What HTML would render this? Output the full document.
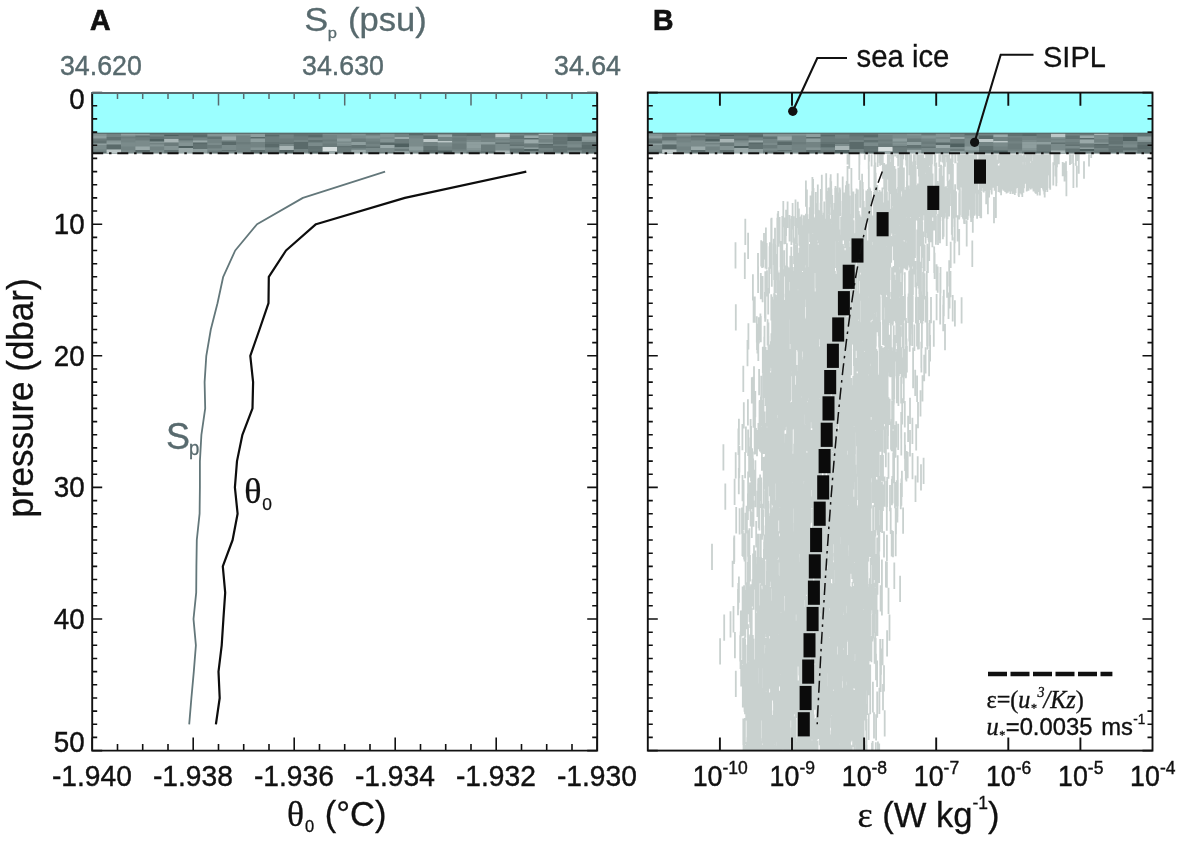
<!DOCTYPE html>
<html lang="en"><head><meta charset="utf-8"><title>Figure</title>
<style>html,body{margin:0;padding:0;background:#fff;}svg{display:block;will-change:transform;}text{font-family:'Liberation Sans', sans-serif;fill:#111;}</style>
</head><body>
<svg width="1181" height="842" viewBox="0 0 1181 842">
<rect width="1181" height="842" fill="#fff"/>
<path d="M968.1 154.2V165.9M968.2 165.9V192.2M934.7 192.2V218.5M913.6 218.5V244.9M825.2 244.9V271.2M847.9 271.2V297.5M851.6 297.5V323.8M821.3 323.8V350.1M831 350.1V376.5M868.1 376.5V402.8M775.7 402.8V429.1M874.2 429.1V455.4M820.2 455.4V481.7M761.1 481.7V508.1M825.9 508.1V534.4M821.1 534.4V560.7M780.8 560.7V587M844.8 587V613.3M847 613.3V639.7M840 639.7V666M778.2 666V692.3M798.9 692.3V718.6M819.8 718.6V744.9M832.6 744.9V750.6M934.7 154.2V166.2M900.7 166.2V192.6M844.3 192.6V218.9M807.9 218.9V245.2M826.9 245.2V271.5M947.1 271.5V297.8M787.4 297.8V324.2M874.4 324.2V350.5M772 350.5V376.8M806.2 376.8V403.1M878.2 403.1V429.4M850.8 429.4V455.8M867 455.8V482.1M770.7 482.1V508.4M832.5 508.4V534.7M886.9 534.7V561M786.5 561V587.4M755.7 587.4V613.7M840.1 613.7V640M858.4 640V666.3M790.4 666.3V692.6M750.4 692.6V719M766.3 719V745.3M752.2 745.3V750.6M969.1 154.2V171M1066.4 171V196.2M964.1 197.4V223.7M832.7 223.7V250M807.5 250V276.3M826.1 276.3V302.6M834 302.6V329M794.6 329V355.3M804.5 355.3V381.6M796.8 381.6V407.9M879 407.9V434.2M865.9 434.2V460.6M814.6 460.6V486.9M828.8 486.9V513.2M768.9 513.2V539.5M874.3 539.5V565.8M790.9 565.8V592.2M847.9 592.2V618.5M856.2 618.5V644.8M747.3 644.8V671.1M865.2 671.1V697.4M774.9 697.4V723.8M808.6 723.8V750.1M891.9 154.2V166M919.4 166V192.3M963.2 192.3V218.6M777.8 218.6V244.9M834.1 244.9V271.3M765.3 271.3V297.6M927.3 297.6V323.9M828.4 323.9V350.2M826.2 350.2V376.5M804.4 376.5V402.9M886.7 402.9V429.2M769.7 429.2V455.5M812.5 455.5V481.8M802.5 481.8V508.1M855.6 508.1V534.5M861.6 534.5V560.8M771.9 560.8V587.1M772.4 587.1V613.4M860 613.4V639.7M804 639.7V666.1M749.1 666.1V692.4M851 692.4V718.7M806 718.7V745M780.9 745V750.6M931.2 154.2V165.1M1036.8 165.1V191.4M970.7 191.4V217.7M785.7 217.7V244M887.1 244V270.4M893.5 270.4V296.7M867.1 296.7V323M888 323V349.3M784.6 349.3V375.6M824.3 375.6V402M844.3 402V428.3M835 428.3V454.6M837.3 454.6V480.9M858.9 480.9V507.2M829.4 507.2V533.6M787.1 533.6V559.9M769.4 559.9V586.2M791.2 586.2V612.5M773.4 612.5V638.8M753.7 638.8V665.2M850.9 665.2V691.5M753.7 691.5V717.8M807.3 717.8V744.1M824.5 744.1V750.6M991.7 154.2V166.1M983.8 166.1V192.4M977.1 192.4V218.7M835 218.7V245.1M851 245.1V271.4M872.5 271.4V297.7M779.7 297.7V324M875.3 324V350.3M880.6 350.3V376.7M753.4 376.7V403M880.8 403V429.3M771.5 429.3V455.6M798.4 455.6V481.9M799.4 481.9V508.3M784.4 508.3V534.6M861.8 534.6V560.9M773.9 560.9V587.2M845.7 587.2V613.5M809.1 613.5V639.9M771 639.9V666.2M776.5 666.2V692.5M841.9 692.5V718.8M827.5 718.8V745.1M846.6 745.1V750.6M900.1 154.2V167.8M1010.4 167.8V194.1M874.6 194.1V220.4M778.5 220.4V246.7M815.4 246.7V273M841.3 273V299.4M777.9 299.4V325.7M826.5 325.7V352M843.9 352V378.3M798.5 378.3V404.6M771.7 404.6V431M787.7 431V457.3M873.7 457.3V483.6M758.1 483.6V509.9M799 509.9V536.2M784 536.2V562.6M786.5 562.6V588.9M764.4 588.9V615.2M856 615.2V641.5M852.9 641.5V667.8M791.6 667.8V694.2M790.7 694.2V720.5M770.2 720.5V746.8M804.4 746.8V750.6M1049.5 154.2V165.2M1035.5 165.2V191.5M881.2 191.5V217.8M920.1 217.8V244.1M854.8 244.1V270.5M816.4 270.5V296.8M780.1 296.8V323.1M871.7 323.1V349.4M795.1 349.4V375.7M873.2 375.7V402.1M798.1 402.1V428.4M795.1 428.4V454.7M803.4 454.7V481M776.7 481V507.3M786.4 507.3V533.7M859.2 533.7V560M794.1 560V586.3M782.2 586.3V612.6M861.3 612.6V638.9M809.1 638.9V665.3M859.2 665.3V691.6M839.8 691.6V717.9M766.7 717.9V744.2M791.9 744.2V750.6M869.1 154.2V161.5M973.3 161.5V187.8M935.3 187.8V214.2M843.4 214.2V240.5M909.5 240.5V266.8M840.1 266.8V293.1M806.7 293.1V319.4M772.1 319.4V345.8M875.2 345.8V372.1M798.2 372.1V398.4M882.3 398.4V424.7M769.6 424.7V451M774.5 451V477.4M813.7 477.4V503.7M841.4 503.7V530M767.3 530V556.3M843.8 556.3V582.6M870.7 582.6V609M844.9 609V635.3M794.1 635.3V661.6M845.3 661.6V687.9M757.7 687.9V714.2M782.4 714.2V740.6M817.6 740.6V750.6M944 154.2V164.6M923.1 164.6V190.9M889.3 190.9V217.2M890 217.2V243.6M839.5 243.6V269.9M887.8 269.9V296.2M916.4 296.2V322.5M872.4 322.5V348.8M874.3 348.8V375.2M790.2 375.2V401.5M857.3 401.5V427.8M800.2 427.8V454.1M767.4 454.1V480.4M884.6 480.4V506.8M821.7 506.8V533.1M781.1 533.1V559.4M835.6 559.4V585.7M811.8 585.7V612M873.3 612V638.4M851.3 638.4V664.7M768.1 664.7V691M846.1 691V717.3M789.8 717.3V743.6M810.8 743.6V750.6M979.2 154.2V162.7M1035.3 162.7V189M868 189V215.4M858.3 215.4V241.7M921.6 241.7V268M824.7 268V294.3M877.6 294.3V320.6M825.2 320.6V347M777.3 347V373.3M875.5 373.3V399.6M872.3 399.6V425.9M877.7 425.9V452.2M769.5 452.2V478.6M865.3 478.6V504.9M841.9 504.9V531.2M854.8 531.2V557.5M837.1 557.5V583.8M866.2 583.8V610.2M844.5 610.2V636.5M744.8 636.5V662.8M858.7 662.8V689.1M810.8 689.1V715.4M768.3 715.4V741.8M787.6 741.8V750.6M1017.1 154.2V164.2M1034.9 164.2V190.5M946.5 190.5V216.8M822.1 216.8V243.1M858.1 243.1V269.4M863 269.4V295.8M809.5 295.8V322.1M869.2 322.1V348.4M818.2 348.4V374.7M825.8 374.7V401M892.3 401V427.4M866.7 427.4V453.7M843.1 453.7V480M880.2 480V506.3M833.1 506.3V532.6M776 532.6V559M798.1 559V585.3M873.5 585.3V611.6M787.7 611.6V637.9M865.8 637.9V664.2M829.3 664.2V690.6M771.1 690.6V716.9M828.7 716.9V743.2M844.1 743.2V750.6M1045.1 154.2V165.4M999.8 165.4V191.7M821.6 191.7V218M814.7 218V244.3M913.9 244.3V270.7M809.8 270.7V297M859.9 297V323.3M835 323.3V349.6M874.9 349.6V375.9M814.2 375.9V402.3M872.8 402.3V428.6M815.2 428.6V454.9M807.7 454.9V481.2M805.6 481.2V507.5M852.3 507.5V533.9M858 533.9V560.2M838.2 560.2V586.5M828.2 586.5V612.8M805.3 612.8V639.1M835.8 639.1V665.5M755.1 665.5V691.8M796.7 691.8V718.1M779.9 718.1V744.4M839.2 744.4V750.6M1037.1 154.2V164M958.4 164V190.3M949.1 190.3V216.6M823.8 216.6V243M814.3 243V269.3M782.8 269.3V295.6M825 295.6V321.9M864.6 321.9V348.2M874.9 348.2V374.6M834.3 374.6V400.9M779.5 400.9V427.2M804.4 427.2V453.5M828.9 453.5V479.8M840.2 479.8V506.2M806 506.2V532.5M790.3 532.5V558.8M812 558.8V585.1M766.1 585.1V611.4M794.2 611.4V637.8M743 637.8V664.1M825.5 664.1V690.4M799.9 690.4V716.7M787.3 716.7V743M806.4 743V750.6M983.3 154.2V161.9M1029 161.9V188.2M971.8 188.2V214.5M878.3 214.5V240.8M909.6 240.8V267.1M781.7 267.1V293.5M859.5 293.5V319.8M838.6 319.8V346.1M817.2 346.1V372.4M777.8 372.4V398.7M840.3 398.7V425.1M807.4 425.1V451.4M752.7 451.4V477.7M780.4 477.7V504M799.8 504V530.3M748 530.3V556.7M784.8 556.7V583M830.9 583V609.3M870.2 609.3V635.6M834.1 635.6V661.9M829.5 661.9V688.3M797.1 688.3V714.6M826.5 714.6V740.9M862 740.9V750.6M998.2 154.2V163.7M972.3 163.7V190M931.3 190V216.3M793.6 216.3V242.7M802.1 242.7V269M884.7 269V295.3M824.7 295.3V321.6M856.8 321.6V347.9M813 347.9V374.3M847.9 374.3V400.6M852.8 400.6V426.9M817.2 426.9V453.2M854.8 453.2V479.5M794.8 479.5V505.9M869.8 505.9V532.2M860.5 532.2V558.5M841.7 558.5V584.8M780.1 584.8V611.1M797.7 611.1V637.5M874.6 637.5V663.8M836.4 663.8V690.1M759.4 690.1V716.4M858.7 716.4V742.7M799.8 742.7V750.6M902 154.2V170.6M1022.3 170.6V196.9M831.9 196.9V223.2M913.1 223.2V249.6M889.3 249.6V275.9M884.7 275.9V302.2M819.2 302.2V328.5M845.4 328.5V354.8M924.2 354.8V381.2M772.8 381.2V407.5M844.7 407.5V433.8M785.5 433.8V460.1M768.8 460.1V486.4M759.1 486.4V512.8M745.5 512.8V539.1M846.7 539.1V565.4M797.7 565.4V591.7M766.6 591.7V618M843.4 618V644.4M792.7 644.4V670.7M851.4 670.7V697M858.2 697V723.3M783 723.3V749.6M982.6 154.2V163.1M889.1 163.1V189.4M857.9 189.4V215.8M820.8 215.8V242.1M903.7 242.1V268.4M844.9 268.4V294.7M863.2 294.7V321M847.5 321V347.4M893.3 347.4V373.7M882.5 373.7V400M759.7 400V426.3M884.3 426.3V452.6M878.3 452.6V479M766.3 479V505.3M840.5 505.3V531.6M801.5 531.6V557.9M762 557.9V584.2M819.4 584.2V610.6M785.5 610.6V636.9M826.4 636.9V663.2M826.4 663.2V689.5M857.8 689.5V715.8M803.3 715.8V742.2M842.7 742.2V750.6M1033.6 154.2V159.8M997 159.8V186.1M835.5 186.1V212.4M913.7 212.4V238.7M773.8 238.7V265M876.4 265V291.4M815.1 291.4V317.7M790.8 317.7V344M873.9 344V370.3M871.6 370.3V396.6M794.8 396.6V423M758.4 423V449.3M810.2 449.3V475.6M821.3 475.6V501.9M808.5 501.9V528.2M803.8 528.2V554.6M816.5 554.6V580.9M825.7 580.9V607.2M804.8 607.2V633.5M816.7 633.5V659.8M776.3 659.8V686.2M872.9 686.2V712.5M862.2 712.5V738.8M858.8 738.8V750.6M958.1 154.2V161.5M988.1 161.5V187.8M944.2 187.8V214.1M930.7 214.1V240.5M804.7 240.5V266.8M837.4 266.8V293.1M869.6 293.1V319.4M822.8 319.4V345.7M805.2 345.7V372.1M882.3 372.1V398.4M781.2 398.4V424.7M760.3 424.7V451M864.6 451V477.3M850.9 477.3V503.7M837.1 503.7V530M895.7 530V556.3M818.6 556.3V582.6M757.2 582.6V608.9M811.5 608.9V635.3M856.3 635.3V661.6M853.9 661.6V687.9M855.9 687.9V714.2M842.6 714.2V740.5M859 740.5V750.6M976 154.2V159.1M1010 159.1V185.4M908.5 185.4V211.8M927.6 211.8V238.1M848.8 238.1V264.4M885.1 264.4V290.7M787.8 290.7V317M856.5 317V343.4M804.4 343.4V369.7M803.3 369.7V396M810.4 396V422.3M873.9 422.3V448.6M796.7 448.6V475M843.3 475V501.3M814.2 501.3V527.6M794.8 527.6V553.9M789 553.9V580.2M752.6 580.2V606.6M809.7 606.6V632.9M793.4 632.9V659.2M782.5 659.2V685.5M763.4 685.5V711.8M862.7 711.8V738.2M856.9 738.2V750.6M1077.6 154.2V161.1M915.1 161.1V187.4M952.2 187.4V213.8M902.8 213.8V240.1M820.2 240.1V266.4M821.7 266.4V292.7M810.9 292.7V319M805.9 319V345.4M787.9 345.4V371.7M764.4 371.7V398M869.4 398V424.3M832 424.3V450.6M789.1 450.6V477M789 477V503.3M775.9 503.3V529.6M803.9 529.6V555.9M817.3 555.9V582.2M826.2 582.2V608.6M866.3 608.6V634.9M860.2 634.9V661.2M835 661.2V687.5M755.1 687.5V713.8M836.4 713.8V740.2M799 740.2V750.6M939.3 154.2V167.1M968.6 167.1V193.4M946.8 193.4V219.7M833.2 219.7V246M812.2 246V272.4M809.9 272.4V298.7M813.1 298.7V325M864.1 325V351.3M901.5 351.3V377.6M847.2 377.6V404M774.9 404V430.3M812.7 430.3V456.6M776.1 456.6V482.9M900.8 482.9V509.2M763.2 509.2V535.6M807.7 535.6V561.9M747.8 561.9V588.2M823.4 588.2V614.5M842.6 614.5V640.8M842.1 640.8V667.2M858.3 667.2V693.5M785.2 693.5V719.8M837.8 719.8V746.1M825.8 746.1V750.6M910.6 154.2V170.1M966.6 170.1V196.4M902 196.4V222.8M902.8 222.8V249.1M832.8 249.1V275.4M870.8 275.4V301.7M813.5 301.7V328M828.7 328V354.4M772 354.4V380.7M776 380.7V407M813.3 407V433.3M854.6 433.3V459.6M829.6 459.6V486M813.8 486V512.3M816.1 512.3V538.6M871.5 538.6V564.9M807.9 564.9V591.2M817 591.2V617.6M804.7 617.6V643.9M868.5 643.9V670.2M836.3 670.2V696.5M811 696.5V722.8M789 722.8V749.2M1021.2 154.2V161.6M1041.3 161.6V187.9M891.6 187.9V214.2M875.2 214.2V240.5M807 240.5V266.9M869.2 266.9V293.2M789.8 293.2V319.5M813.8 319.5V345.8M885.7 345.8V372.1M870.1 372.1V398.5M821.5 398.5V424.8M830 424.8V451.1M842.4 451.1V477.4M791.1 477.4V503.7M781.8 503.7V530.1M770.6 530.1V556.4M807.7 556.4V582.7M788.8 582.7V609M818.6 609V635.3M841.3 635.3V661.7M790.7 661.7V688M745 688V714.3M824.7 714.3V740.6M757.1 740.6V750.6M905.9 154.2V160.2M951.7 160.2V186.5M915 186.5V212.8M842.2 212.8V239.1M848.3 239.1V265.5M883.7 265.5V291.8M927.2 291.8V318.1M905.9 318.1V344.4M805.4 344.4V370.7M788.6 370.7V397.1M859.7 397.1V423.4M851.3 423.4V449.7M828.5 449.7V476M834.2 476V502.3M803.2 502.3V528.7M810.3 528.7V555M815.1 555V581.3M829.4 581.3V607.6M770.4 607.6V633.9M811.8 633.9V660.3M779.7 660.3V686.6M857.3 686.6V712.9M855.4 712.9V739.2M850 739.2V750.6M1040.9 154.2V163.9M952.9 163.9V190.2M899.2 190.2V216.6M824.1 216.6V242.9M811.4 242.9V269.2M818.6 269.2V295.5M765.1 295.5V321.8M921.9 321.8V348.2M779.6 348.2V374.5M769.1 374.5V400.8M793.7 400.8V427.1M872.3 427.1V453.4M905.8 453.4V479.8M847.4 479.8V506.1M875.6 506.1V532.4M780.9 532.4V558.7M818.8 558.7V585M841.6 585V611.4M856.1 611.4V637.7M859 637.7V664M867.4 664V690.3M788.2 690.3V716.6M855.1 716.6V743M804.4 743V750.6M1056 154.2V162.5M957.5 162.5V188.9M924.2 188.9V215.2M908.1 215.2V241.5M901.6 241.5V267.8M792.1 267.8V294.1M836 294.1V320.5M832.5 320.5V346.8M762.8 346.8V373.1M863.5 373.1V399.4M784.2 399.4V425.7M770 425.7V452.1M790.7 452.1V478.4M860.4 478.4V504.7M826.9 504.7V531M767.9 531V557.3M782.2 557.3V583.7M865.1 583.7V610M818.2 610V636.3M815.7 636.3V662.6M743.4 662.6V688.9M768.3 688.9V715.3M807.1 715.3V741.6M858.7 741.6V750.6M1034.4 154.2V161.9M1020.9 161.9V188.2M947.9 188.2V214.5M856 214.5V240.8M870.1 240.8V267.2M837.9 267.2V293.5M801.2 293.5V319.8M849 319.8V346.1M906.9 346.1V372.4M894.1 372.4V398.8M875.7 398.8V425.1M805.4 425.1V451.4M829 451.4V477.7M783.6 477.7V504M827 504V530.4M812.9 530.4V556.7M879.1 556.7V583M838 583V609.3M810.7 609.3V635.6M800.4 635.6V662M858 662V688.3M837.8 688.3V714.6M813.7 714.6V740.9M824.8 740.9V750.6M960.2 155.6V181.9M900.2 181.9V208.3M863.4 208.3V234.6M901.5 234.6V260.9M840.1 260.9V287.2M836.1 287.2V313.5M760.4 313.5V339.9M824.9 339.9V366.2M803 366.2V392.5M876.4 392.5V418.8M738.9 418.8V445.1M774.3 445.1V471.5M787.5 471.5V497.8M826.8 497.8V524.1M782.4 524.1V550.4M849.5 550.4V576.7M845.9 576.7V603.1M839.1 603.1V629.4M787.2 629.4V655.7M769.9 655.7V682M753.9 682V708.3M808.6 708.3V734.7M795.6 734.7V750.6M1009.3 154.2V174.8M931.2 174.8V201.1M842.3 201.1V227.4M765.9 227.4V253.7M822.8 253.7V280.1M802.5 280.1V306.4M809.9 306.4V332.7M834.9 332.7V359M781.9 359V385.3M832.8 385.3V411.7M802.6 411.7V438M845.3 438V464.3M777.6 464.3V490.6M786.5 490.6V516.9M791.3 516.9V543.3M808.1 543.3V569.6M784.9 569.6V595.9M808.7 595.9V622.2M869.4 622.2V648.5M833.9 648.5V674.9M756.5 674.9V701.2M788.2 701.2V727.5M791.7 727.5V750.6M913.8 154.2V165.3M912.8 165.3V191.7M980.4 191.7V218M897.4 218V244.3M876.8 244.3V270.6M823.3 270.6V296.9M920.8 296.9V323.3M748.4 323.3V349.6M875.3 349.6V375.9M853.3 375.9V402.2M743.8 402.2V428.5M738.4 428.5V454.9M793.9 454.9V481.2M816 481.2V507.5M836.7 507.5V533.8M760.8 533.8V560.1M794.1 560.1V586.5M857.9 586.5V612.8M772.4 612.8V639.1M775.7 639.1V665.4M859.5 665.4V691.7M821.5 691.7V718.1M757.4 718.1V744.4M850.4 744.4V750.6M1031.2 154.2V161.3M1066 161.3V177.2M882.4 187.6V213.9M938.4 213.9V240.3M885.2 240.3V266.6M876.2 266.6V292.9M814.9 292.9V319.2M827.2 319.2V345.5M776.8 345.5V371.9M816.2 371.9V398.2M902.2 398.2V424.5M848.3 424.5V450.8M769.1 450.8V477.1M797.3 477.1V503.5M827.3 503.5V529.8M742.4 529.8V556.1M776.6 556.1V582.4M808.8 582.4V608.7M776.4 608.7V635.1M853 635.1V661.4M773.7 661.4V687.7M795 687.7V714M841.3 714V740.3M859.7 740.3V750.6M1009.3 154.2V165.2M874.4 165.2V191.5M905.1 191.5V217.8M910.7 217.8V244.2M848.6 244.2V270.5M926.8 270.5V296.8M840.6 296.8V323.1M899.8 323.1V349.4M890.6 349.4V375.8M887.6 375.8V402.1M878.2 402.1V428.4M780.3 428.4V454.7M830.8 454.7V481M795.6 481V507.4M831.6 507.4V533.7M858.4 533.7V560M860.4 560V586.3M826.6 586.3V612.6M785.5 612.6V639M828.4 639V665.3M839 665.3V691.6M767.2 691.6V717.9M756.7 717.9V744.2M815.9 744.2V750.6M1043.8 154.2V165.7M1038.3 165.7V192M981.2 192V218.3M877.1 218.3V244.6M812 244.6V270.9M950.5 270.9V297.3M961.6 297.3V323.6M821.1 323.6V349.9M811.5 349.9V376.2M821.2 376.2V402.5M824.6 402.5V428.9M769.4 428.9V455.2M767.7 455.2V481.5M832 481.5V507.8M854.8 507.8V534.1M803.2 534.1V560.5M777.3 560.5V586.8M847.8 586.8V613.1M811.7 613.1V639.4M762.4 639.4V665.7M749.9 665.7V692.1M861 692.1V718.4M862.6 718.4V744.7M795.5 744.7V750.6M1038.4 154.2V157.4M1025 157.4V183.8M848.7 183.8V210.1M876.7 210.1V236.4M866 236.4V262.7M786.6 262.7V289M846.5 289V315.4M867.8 315.4V341.7M921.3 341.7V368M849.4 368V394.3M844.2 394.3V420.6M858.1 420.6V447M796.1 447V473.3M781.8 473.3V499.6M880.7 499.6V525.9M846.4 525.9V552.2M816.8 552.2V578.6M768.4 578.6V604.9M802.7 604.9V631.2M857.9 631.2V657.5M776 657.5V683.8M808.4 683.8V710.2M856.1 710.2V736.5M831.9 736.5V750.6M897.2 154.2V157.9M989.5 157.9V184.3M955.1 184.3V210.6M925 210.6V236.9M831.9 236.9V263.2M829.1 263.2V289.5M785.8 289.5V315.9M760.8 315.9V342.2M872.7 342.2V368.5M808 368.5V394.8M856.6 394.8V421.1M868.6 421.1V447.5M800.9 447.5V473.8M856.9 473.8V500.1M807.3 500.1V526.4M776.4 526.4V552.7M831.6 552.7V579.1M825 579.1V605.4M759.6 605.4V631.7M850.4 631.7V658M783 658V684.3M790.9 684.3V710.7M752.1 710.7V737M771.4 737V750.6M969.9 154.2V165M976.3 165V191.3M956 191.3V217.6M909.6 217.6V243.9M809.9 243.9V270.3M767 270.3V296.6M781.7 296.6V322.9M812.8 322.9V349.2M825.3 349.2V375.5M797.5 375.5V401.9M810 401.9V428.2M855 428.2V454.5M809.8 454.5V480.8M779.1 480.8V507.1M781.1 507.1V533.5M850.3 533.5V559.8M862 559.8V586.1M763.2 586.1V612.4M810.4 612.4V638.7M784.4 638.7V665.1M759.8 665.1V691.4M766 691.4V717.7M751 717.7V744M804.9 744V750.6M1029.1 154.2V160.1M1040.9 160.1V186.4M928.3 186.4V212.7M823.7 212.7V239M908.1 239V265.4M785.9 265.4V291.7M828.9 291.7V318M863.7 318V344.3M816.6 344.3V370.6M774.6 370.6V397M796 397V423.3M781.3 423.3V449.6M817.6 449.6V475.9M892.3 475.9V502.2M804.2 502.2V528.6M857.5 528.6V554.9M748.3 554.9V581.2M775.5 581.2V607.5M761.5 607.5V633.8M842.3 633.8V660.2M818 660.2V686.5M856.3 686.5V712.8M843.2 712.8V739.1M788.8 739.1V750.6M1008.5 154.2V163.2M1008.9 163.2V189.5M806.9 189.5V215.9M914.1 215.9V242.2M769.9 242.2V268.5M911.2 268.5V294.8M921.4 294.8V321.1M782.2 321.1V347.5M868.9 347.5V373.8M816.5 373.8V400.1M808.3 400.1V426.4M867.1 426.4V452.7M859.1 452.7V479.1M826.5 479.1V505.4M866.2 505.4V531.7M832.3 531.7V558M767.7 558V584.3M855.1 584.3V610.7M761.3 610.7V637M786.2 637V663.3M772.7 663.3V689.6M781.1 689.6V715.9M844 715.9V742.3M820.7 742.3V750.6M1046.8 154.2V166.4M1019.4 166.4V192.7M893.9 192.7V219.1M878.2 219.1V245.4M797.1 245.4V271.7M848.9 271.7V298M843.1 298V324.3M856.5 324.3V350.7M891.5 350.7V377M828.1 377V403.3M789.4 403.3V429.6M814.5 429.6V455.9M817.3 455.9V482.3M790.1 482.3V508.6M809.8 508.6V534.9M846.8 534.9V561.2M822.5 561.2V587.5M760.9 587.5V613.9M793.2 613.9V640.2M797.7 640.2V666.5M750.2 666.5V692.8M761 692.8V719.1M771.2 719.1V745.5M780.3 745.5V750.6M1003.8 154.2V174.6M976.8 174.6V201M783.3 201V227.3M918.3 227.3V253.6M889.7 253.6V279.9M817.6 279.9V306.2M863.6 306.2V332.6M867.8 332.6V358.9M873.3 358.9V385.2M803.2 385.2V411.5M764.6 411.5V437.8M838.3 437.8V464.2M921 464.2V490.5M860.9 490.5V516.8M844.7 516.8V543.1M866.8 543.1V569.4M856.6 569.4V595.8M749.5 595.8V622.1M763.9 622.1V648.4M831.7 648.4V674.7M780.9 674.7V701M861.3 701V727.4M773.1 727.4V750.6M1028 154.2V159.8M1035.9 159.8V186.1M967.6 186.1V212.4M862.9 212.4V238.8M829.1 238.8V265.1M780.7 265.1V291.4M821.8 291.4V317.7M831.6 317.7V344M849.5 344V370.4M869.1 370.4V396.7M860.1 396.7V423M887.8 423V449.3M783.3 449.3V475.6M915.5 475.6V502M758.7 502V528.3M858.9 528.3V554.6M767.4 554.6V580.9M856.3 580.9V607.2M814.6 607.2V633.6M797.4 633.6V659.9M801.1 659.9V686.2M826.5 686.2V712.5M812.3 712.5V738.8M826.7 738.8V750.6M882.8 154.2V178.7M966.1 178.7V205.1M918.1 205.1V231.4M923.1 231.4V257.7M847.4 257.7V284M812.3 284V310.3M824.1 310.3V336.7M833.5 336.7V363M842.9 363V389.3M836 389.3V415.6M827.8 415.6V441.9M853.6 441.9V468.3M816.2 468.3V494.6M840.4 494.6V520.9M801.1 520.9V547.2M844.6 547.2V573.5M805.3 573.5V599.9M849.4 599.9V626.2M791.9 626.2V652.5M788.8 652.5V678.8M788.1 678.8V705.1M756.6 705.1V731.5M756.7 731.5V750.6M971.5 154.2V169.2M914.2 169.2V195.5M849.7 195.5V221.8M814.4 221.8V248.2M804 248.2V274.5M855.9 274.5V300.8M803.1 300.8V327.1M757.4 327.1V353.4M809.9 353.4V379.8M841.1 379.8V406.1M855.4 406.1V432.4M862.1 432.4V458.7M799.3 458.7V485M838.9 485V511.4M819 511.4V537.7M856 537.7V564M844.7 564V590.3M857.5 590.3V616.6M832.3 616.6V643M861.7 643V669.3M745.2 669.3V695.6M755 695.6V721.9M811 721.9V748.2M747 748.2V750.6M992.5 154.2V166M924.6 166V192.4M904.5 192.4V218.7M745.3 218.7V245M867.1 245V271.3M909.2 271.3V297.6M857.7 297.6V324M945 324V350.3M904 350.3V376.6M854 376.6V402.9M868.7 402.9V429.2M837.6 429.2V455.6M788.2 455.6V481.9M802.2 481.9V508.2M739.6 508.2V534.5M764.3 534.5V560.8M732.6 560.8V587.2M837.5 587.2V613.5M835.8 613.5V639.8M848.5 639.8V666.1M809.4 666.1V692.4M781.4 692.4V718.8M815.5 718.8V745.1M745.9 745.1V750.6M909.5 154.2V175.3M939.9 175.3V201.6M787.6 201.6V227.9M859.4 227.9V254.2M781.8 254.2V280.5M806.1 280.5V306.9M842.1 306.9V333.2M771.4 333.2V359.5M803 359.5V385.8M771.4 385.8V412.1M901.2 412.1V438.5M779.2 438.5V464.8M855.3 464.8V491.1M843.2 491.1V517.4M800.2 517.4V543.7M712 543.7V570.1M829.8 570.1V596.4M786 596.4V622.7M774 622.7V649M796.2 649V675.3M830.5 675.3V701.7M861.2 701.7V728M786.4 728V750.6M1026.2 154.2V161.8M966.4 161.8V188.1M926.2 188.1V214.4M907.5 214.4V240.8M800.2 240.8V267.1M792.9 267.1V293.4M855.2 293.4V319.7M840.7 319.7V346M768.4 346V372.4M839.1 372.4V398.7M834.8 398.7V425M777.3 425V451.3M906.8 451.3V477.6M828.1 477.6V504M875.3 504V530.3M865.8 530.3V556.6M825.9 556.6V582.9M833.8 582.9V609.2M815.9 609.2V635.6M782.1 635.6V661.9M763.1 661.9V688.2M821.6 688.2V714.5M754.4 714.5V740.8M866.2 740.8V750.6M1005 154.2V167.5M903.9 167.5V193.9M922.8 193.9V220.2M853.7 220.2V246.5M820.9 246.5V272.8M876.1 272.8V299.1M818.8 299.1V325.5M909.7 325.5V351.8M806.4 351.8V378.1M893.8 378.1V404.4M874.7 404.4V430.7M796.4 430.7V457.1M763.7 457.1V483.4M841.1 483.4V509.7M862.6 509.7V536M813.5 536V562.3M857 562.3V588.7M793.6 588.7V615M841.7 615V641.3M857.1 641.3V667.6M796.7 667.6V693.9M782.9 693.9V720.3M750 720.3V746.6M773.8 746.6V750.6M1023.4 154.2V162M986.3 162V188.3M894.9 188.3V214.6M849.6 214.6V241M815.2 241V267.3M867.2 267.3V293.6M781.6 293.6V319.9M857.1 319.9V346.2M905.9 346.2V372.6M884.3 372.6V398.9M787.7 398.9V425.2M800.7 425.2V451.5M860.3 451.5V477.8M803 477.8V504.2M821.6 504.2V530.5M852.1 530.5V556.8M796.3 556.8V583.1M849.5 583.1V609.4M805.3 609.4V635.8M803.5 635.8V662.1M849.9 662.1V688.4M802 688.4V714.7M819.9 714.7V741M803.3 741V750.6M911.2 154.2V166.7M1015.6 166.7V193M967.7 193V219.4M913.9 219.4V245.7M860.7 245.7V272M871.2 272V298.3M899.6 298.3V324.6M897.7 324.6V351M860.9 351V377.3M784.8 377.3V403.6M785 403.6V429.9M757 429.9V456.2M917.7 456.2V482.6M758.9 482.6V508.9M877.8 508.9V535.2M744.6 535.2V561.5M805.7 561.5V587.8M850.2 587.8V614.2M802.6 614.2V640.5M790.5 640.5V666.8M858.3 666.8V693.1M788.1 693.1V719.4M809.2 719.4V745.8M776.4 745.8V750.6M976.5 154.5V180.9M927.6 180.9V207.2M892.4 207.2V233.5M841.8 233.5V259.8M780.7 259.8V286.1M802 286.1V312.5M794.2 312.5V338.8M824 338.8V365.1M796.6 365.1V391.4M846.2 391.4V417.7M821.6 417.7V444.1M830.2 444.1V470.4M780.3 470.4V496.7M786.7 496.7V523M792.3 523V549.3M786.7 549.3V575.7M829 575.7V602M791.9 602V628.3M767.6 628.3V654.6M837.9 654.6V680.9M841.3 680.9V707.3M779.1 707.3V733.6M862 733.6V750.6M1017 154.2V169M940.3 169V195.3M935.3 195.3V221.6M845.3 221.6V248M872.4 248V274.3M793.5 274.3V300.6M816.6 300.6V326.9M831.9 326.9V353.2M767.3 353.2V379.6M765.5 379.6V405.9M808 405.9V432.2M849.9 432.2V458.5M795.4 458.5V484.8M753 484.8V511.2M807.9 511.2V537.5M830.9 537.5V563.8M756.8 563.8V590.1M776.9 590.1V616.4M783 616.4V642.8M838.8 642.8V669.1M843.7 669.1V695.4M752.3 695.4V721.7M765.7 721.7V748M804.7 748V750.6M935.3 154.2V161.7M1038.9 161.7V188M924.6 188V214.3M905.2 214.3V240.6M972.3 240.6V267M848.9 267V293.3M898.1 293.3V319.6M912.2 319.6V345.9M829.1 345.9V372.2M779.8 372.2V398.6M862.9 398.6V424.9M834.6 424.9V451.2M781.8 451.2V477.5M761.2 477.5V503.8M877.2 503.8V530.2M834.4 530.2V556.5M807.2 556.5V582.8M857.1 582.8V609.1M817.1 609.1V635.4M772 635.4V661.8M783.7 661.8V688.1M797.4 688.1V714.4M851.5 714.4V740.7M760.6 740.7V750.6M993 154.2V160.3M1050.1 160.3V186.6M965.8 186.6V212.9M942.9 212.9V239.3M811.4 239.3V265.6M844.4 265.6V291.9M872 291.9V318.2M851.4 318.2V344.5M769.9 344.5V370.9M845.5 370.9V397.2M888.5 397.2V423.5M891 423.5V449.8M857.2 449.8V476.1M828.3 476.1V502.5M776.2 502.5V528.8M807.3 528.8V555.1M806.3 555.1V581.4M786.8 581.4V607.7M764.5 607.7V634.1M830.7 634.1V660.4M792.6 660.4V686.7M806.6 686.7V713M836.6 713V739.3M846.7 739.3V750.6M955.2 154.2V163.3M1043 163.3V189.6M941.9 189.6V215.9M791.6 215.9V242.3M735.5 242.3V268.6M856.1 268.6V294.9M840 294.9V321.2M863.6 321.2V347.5M913.1 347.5V373.9M892.3 373.9V400.2M819.2 400.2V426.5M761.2 426.5V452.8M769.6 452.8V479.1M787.3 479.1V505.5M858.3 505.5V531.8M853.7 531.8V558.1M776.2 558.1V584.4M790.6 584.4V610.7M862.4 610.7V637.1M857.8 637.1V663.4M746.1 663.4V689.7M842.5 689.7V716M857.6 716V742.3M751.4 742.3V750.6M1017.2 154.2V166.6M928.1 166.6V193M963.3 193V219.3M823 219.3V245.6M867.3 245.6V271.9M923 271.9V298.2M798.5 298.2V324.6M803.7 324.6V350.9M890.3 350.9V377.2M797.5 377.2V403.5M778.6 403.5V429.8M839.5 429.8V456.2M869.7 456.2V482.5M855.1 482.5V508.8M791.3 508.8V535.1M874.7 535.1V561.4M886.9 561.4V587.8M844.3 587.8V614.1M856.9 614.1V640.4M786.4 640.4V666.7M849 666.7V693M817.1 693V719.4M756.8 719.4V745.7M860.5 745.7V750.6M1009.8 154.2V157.6M1055.5 157.6V176.5M962.6 183.9V210.2M818.9 210.2V236.5M891.2 236.5V262.8M846.3 262.8V289.2M808.2 289.2V315.5M782.5 315.5V341.8M862.3 341.8V368.1M781.8 368.1V394.4M810.8 394.4V420.8M828.6 420.8V447.1M770.9 447.1V473.4M781.8 473.4V499.7M870 499.7V526M819.5 526V552.4M823.7 552.4V578.7M795 578.7V605M840.1 605V631.3M825.5 631.3V657.6M860 657.6V684M883 684V710.3M884.7 710.3V736.6M832.2 736.6V750.6M1039 154.2V164.9M1043.6 164.9V191.2M940.5 191.2V217.5M888 217.5V243.8M810.9 243.8V270.1M819.4 270.1V296.5M922.3 296.5V322.8M799.1 322.8V349.1M865.8 349.1V375.4M868.2 375.4V401.7M801.3 401.7V428.1M799.9 428.1V454.4M882.1 454.4V480.7M780.1 480.7V507M816.9 507V533.3M850.4 533.3V559.7M841.5 559.7V586M848.5 586V612.3M795 612.3V638.6M812.7 638.6V664.9M785.8 664.9V691.3M771.3 691.3V717.6M862.7 717.6V743.9M858.6 743.9V750.6M1044 154.2V180.5M805.9 180.5V206.8M927.2 206.8V233.1M764 233.1V259.4M896.5 259.4V285.7M862.3 285.7V312.1M896.3 312.1V338.4M780.2 338.4V364.7M832.1 364.7V391M755.3 391V417.3M831.8 417.3V443.7M794.1 443.7V470M769.9 470V496.3M897.4 496.3V522.6M846.1 522.6V548.9M763.9 548.9V575.3M778.1 575.3V601.6M806.4 601.6V627.9M839.9 627.9V654.2M805.1 654.2V680.5M798 680.5V706.9M783.6 706.9V733.2M842.6 733.2V750.6M1042 154.2V164.2M1004.1 164.2V190.5M964.4 190.5V216.8M815.2 216.8V243.2M905.8 243.2V269.5M877.3 269.5V295.8M835 295.8V322.1M818.3 322.1V348.4M869 348.4V374.8M808 374.8V401.1M855.2 401.1V427.4M803.8 427.4V453.7M834.7 453.7V480M791 480V506.4M850.9 506.4V532.7M773.2 532.7V559M844.2 559V585.3M815.8 585.3V611.6M869.9 611.6V638M790.1 638V664.3M865.6 664.3V690.6M849 690.6V716.9M820.8 716.9V743.2M810.9 743.2V750.6M931.2 154.2V165.6M1045.1 165.6V192M898.2 192V218.3M893 218.3V244.6M873.9 244.6V270.9M834.9 270.9V297.2M793.7 297.2V323.6M796.3 323.6V349.9M832.5 349.9V376.2M793.7 376.2V402.5M793.6 402.5V428.8M868.7 428.8V455.2M869.3 455.2V481.5M793.7 481.5V507.8M866.3 507.8V534.1M834.5 534.1V560.4M777 560.4V586.8M792.4 586.8V613.1M757.2 613.1V639.4M790.2 639.4V665.7M777.5 665.7V692M755.1 692V718.4M771.9 718.4V744.7M773.6 744.7V750.6M1039.3 154.2V163.4M1050.2 163.4V189.7M946.6 189.7V216M881.3 216V242.4M859.3 242.4V268.7M824.8 268.7V295M863.8 295V321.3M879.1 321.3V347.6M832.5 347.6V374M855.9 374V400.3M848.9 400.3V426.6M882.3 426.6V452.9M868.3 452.9V479.2M838.8 479.2V505.6M835.7 505.6V531.9M806.2 531.9V558.2M841.3 558.2V584.5M782.4 584.5V610.8M812 610.8V637.2M849.2 637.2V663.5M825.7 663.5V689.8M777.4 689.8V716.1M862.3 716.1V742.4M750.7 742.4V750.6M985.3 155.7V182M936.8 182V208.4M889.4 208.4V234.7M929.2 234.7V261M826 261V287.3M837.5 287.3V313.6M788.9 313.6V340M831.7 340V366.3M754 366.3V392.6M802.3 392.6V418.9M849.8 418.9V445.2M772.8 445.2V471.6M817.2 471.6V497.9M809.1 497.9V524.2M808.2 524.2V550.5M857.1 550.5V576.8M787.6 576.8V603.2M761.6 603.2V629.5M768.3 629.5V655.8M787.6 655.8V682.1M761.2 682.1V708.4M855.3 708.4V734.8M849.7 734.8V750.6M888.7 154.2V162.2M1032.4 162.2V188.5M870.2 188.5V214.9M837.8 214.9V241.2M890.2 241.2V267.5M889.2 267.5V293.8M882.5 293.8V320.1M849.2 320.1V346.5M890.3 346.5V372.8M894.2 372.8V399.1M828.5 399.1V425.4M829.3 425.4V451.7M835.5 451.7V478.1M861.1 478.1V504.4M823 504.4V530.7M783 530.7V557M772.3 557V583.3M792.4 583.3V609.7M794.3 609.7V636M813.7 636V662.3M859 662.3V688.6M832.4 688.6V714.9M813.4 714.9V741.3M856.2 741.3V750.6M1043 154.2V162.8M1064.5 162.8V181.5M944.4 189.1V215.4M859.8 215.4V241.7M861.9 241.7V268.1M838.3 268.1V294.4M823.5 294.4V320.7M855 320.7V347M860.5 347V373.3M783.8 373.3V399.7M803.6 399.7V426M751.1 426V452.3M773.1 452.3V478.6M848 478.6V504.9M805.8 504.9V531.3M884 531.3V557.6M840.7 557.6V583.9M872.1 583.9V610.2M837.9 610.2V636.5M756.6 636.5V662.9M829.4 662.9V689.2M746.7 689.2V715.5M774.1 715.5V741.8M766.5 741.8V750.6M981.7 154.2V158.3M1041.9 158.3V184.6M967.6 184.6V210.9M821.7 210.9V237.3M865.4 237.3V263.6M844.6 263.6V289.9M809 289.9V316.2M756.8 316.2V342.5M780.9 342.5V368.9M759.1 368.9V395.2M845.6 395.2V421.5M891.1 421.5V447.8M780.2 447.8V474.1M790.5 474.1V500.5M798.5 500.5V526.8M771.8 526.8V553.1M842.4 553.1V579.4M847.2 579.4V605.7M821.7 605.7V632.1M794.8 632.1V658.4M856.8 658.4V684.7M864 684.7V711M836.7 711V737.3M775 737.3V750.6M975.6 154.2V161.9M1024 161.9V188.2M898.1 188.2V214.5M881.9 214.5V240.9M847.7 240.9V267.2M864.2 267.2V293.5M815.9 293.5V319.8M875.7 319.8V346.1M844.1 346.1V372.5M813.7 372.5V398.8M889.7 398.8V425.1M834.7 425.1V451.4M882.2 451.4V477.7M801.2 477.7V504.1M815.3 504.1V530.4M808.5 530.4V556.7M801 556.7V583M763.7 583V609.3M827 609.3V635.7M793.7 635.7V662M793.6 662V688.3M784.4 688.3V714.6M748 714.6V740.9M859.3 740.9V750.6M879.7 154.2V162.9M913.1 162.9V189.2M939.1 189.2V215.6M887 215.6V241.9M837.8 241.9V268.2M796.9 268.2V294.5M897.4 294.5V320.8M823.7 320.8V347.2M842.5 347.2V373.5M773.7 373.5V399.8M786.1 399.8V426.1M814.5 426.1V452.4M799.6 452.4V478.8M734.6 478.8V505.1M791.2 505.1V531.4M841.6 531.4V557.7M812.5 557.7V584M755.9 584V610.4M827.2 610.4V636.7M865.9 636.7V663M796.8 663V689.3M753.3 689.3V715.6M785.3 715.6V742M764 742V750.6M1058.8 154.2V164.3M1003.2 164.3V190.6M866.3 190.6V217M954.8 217V243.3M786.9 243.3V269.6M877.8 269.6V295.9M838.3 295.9V322.2M840 322.2V348.6M850.7 348.6V374.9M826 374.9V401.2M828.7 401.2V427.5M813.2 427.5V453.8M793.4 453.8V480.2M788.8 480.2V506.5M833.9 506.5V532.8M858.4 532.8V559.1M821.7 559.1V585.4M859.6 585.4V611.8M773.2 611.8V638.1M781.8 638.1V664.4M815.6 664.4V690.7M780.2 690.7V717M753.5 717V743.4M804.5 743.4V750.6M1002.1 154.2V167.7M921.5 167.7V194M843 194V220.3M883 220.3V246.6M934.2 246.6V272.9M912.1 272.9V299.3M892.5 299.3V325.6M870.8 325.6V351.9M905.8 351.9V378.2M786.9 378.2V404.5M844.1 404.5V430.9M875.1 430.9V457.2M836 457.2V483.5M725.3 483.5V509.8M829.4 509.8V536.1M782.5 536.1V562.5M792.3 562.5V588.8M807.9 588.8V615.1M872.4 615.1V641.4M821.2 641.4V667.7M840.8 667.7V694.1M801.2 694.1V720.4M856.9 720.4V746.7M839.9 746.7V750.6M1042.6 154.2V168.3M1021.4 168.3V194.6M940.4 194.6V221M814.2 221V247.3M817.9 247.3V273.6M879.5 273.6V299.9M785.2 299.9V326.2M777.9 326.2V352.6M765.1 352.6V378.9M872.3 378.9V405.2M763.5 405.2V431.5M849.3 431.5V457.8M837.3 457.8V484.2M798.3 484.2V510.5M762.1 510.5V536.8M785.3 536.8V563.1M754 563.1V589.4M835.3 589.4V615.8M776.7 615.8V642.1M864.3 642.1V668.4M789.3 668.4V694.7M751.4 694.7V721M799.2 721V747.4M752.2 747.4V750.6M1017.7 154.2V166.8M940.3 166.8V193.2M917.5 193.2V219.5M836.9 219.5V245.8M843.2 245.8V272.1M883.4 272.1V298.4M833.1 298.4V324.8M826.6 324.8V351.1M818.6 351.1V377.4M837.3 377.4V403.7M771.1 403.7V430M825.4 430V456.4M868.7 456.4V482.7M810.1 482.7V509M777.6 509V535.3M868.3 535.3V561.6M787.6 561.6V588M748.3 588V614.3M856.6 614.3V640.6M856 640.6V666.9M767.1 666.9V693.2M837.7 693.2V719.6M835.4 719.6V745.9M787.7 745.9V750.6M911 154.2V165.1M966.7 165.1V191.4M959.4 191.4V217.8M869.1 217.8V244.1M812.7 244.1V270.4M909.3 270.4V296.7M781.1 296.7V323M792 323V349.4M839.4 349.4V375.7M776.4 375.7V402M812.1 402V428.3M835.7 428.3V454.6M794.4 454.6V481M863.4 481V507.3M852 507.3V533.6M830.2 533.6V559.9M820.4 559.9V586.2M876.6 586.2V612.6M845.4 612.6V638.9M826.8 638.9V665.2M847.7 665.2V691.5M764.4 691.5V717.8M753.4 717.8V744.2M804.5 744.2V750.6M1035 154.2V168M1044.3 168V194.4M917.9 194.4V220.7M866.4 220.7V247M849.2 247V273.3M805.5 273.3V299.6M866.5 299.6V326M807.8 326V352.3M834.9 352.3V378.6M804.9 378.6V404.9M829.2 404.9V431.2M895.5 431.2V457.6M850.4 457.6V483.9M863.9 483.9V510.2M806.9 510.2V536.5M874.5 536.5V562.8M854.9 562.8V589.2M761.5 589.2V615.5M761.7 615.5V641.8M758.3 641.8V668.1M800.2 668.1V694.4M747.2 694.4V720.8M841.5 720.8V747.1M770.4 747.1V750.6M1047.1 154.2V161.6M982 161.6V188M931.3 188V214.3M870.1 214.3V240.6M841.1 240.6V266.9M809.5 266.9V293.2M818.9 293.2V319.6M868.2 319.6V345.9M822.9 345.9V372.2M849.4 372.2V398.5M853.2 398.5V424.8M833.3 424.8V451.2M751 451.2V477.5M821 477.5V503.8M787.4 503.8V530.1M818.1 530.1V556.4M807.3 556.4V582.8M838.7 582.8V609.1M858.4 609.1V635.4M787.8 635.4V661.7M757.2 661.7V688M782.3 688V714.4M805.3 714.4V740.7M856.9 740.7V750.6M999.4 154.2V162.8M964.7 162.8V189.1M976.8 189.1V215.4M936 215.4V241.7M950.7 241.7V268.1M812.6 268.1V294.4M870 294.4V320.7M844.9 320.7V347M850.8 347V373.3M797.1 373.3V399.7M854.1 399.7V426M782.1 426V452.3M843.6 452.3V478.6M901.4 478.6V504.9M792 504.9V531.3M778.4 531.3V557.6M845 557.6V583.9M857.1 583.9V610.2M774.5 610.2V636.5M749.9 636.5V662.9M822.5 662.9V689.2M777.8 689.2V715.5M820.9 715.5V741.8M804.6 741.8V750.6M889.4 154.2V159.3M1036 159.3V185.6M926.7 185.6V211.9M929.5 211.9V238.2M819.4 238.2V264.6M818.2 264.6V290.9M794.4 290.9V317.2M758.9 317.2V343.5M857.5 343.5V369.8M847.3 369.8V396.2M767.4 396.2V422.5M816.2 422.5V448.8M801.1 448.8V475.1M864.2 475.1V501.4M834.1 501.4V527.8M798.3 527.8V554.1M753.9 554.1V580.4M749 580.4V606.7M859 606.7V633M813 633V659.4M754.2 659.4V685.7M771 685.7V712M810 712V738.3M760.9 738.3V750.6M922.6 154.2V176.8M965.5 176.8V203.1M878.6 203.1V229.4M917.2 229.4V255.8M850.9 255.8V282.1M900.9 282.1V308.4M809.3 308.4V334.7M875.5 334.7V361M898.4 361V387.4M871.4 387.4V413.7M827.6 413.7V440M816.6 440V466.3M869.3 466.3V492.6M822.9 492.6V519M830.1 519V545.3M819.3 545.3V571.6M763.9 571.6V597.9M841.2 597.9V624.2M773.2 624.2V650.6M773.4 650.6V676.9M812.9 676.9V703.2M753.4 703.2V729.5M861.6 729.5V750.6M989.6 154.2V160.5M1034.5 160.5V186.8M945.3 186.8V213.1M914.6 213.1V239.5M827.7 239.5V265.8M884 265.8V292.1M891.4 292.1V318.4M840.9 318.4V344.7M810.1 344.7V371.1M863.3 371.1V397.4M867.6 397.4V423.7M898.2 423.7V450M784.5 450V476.3M821.1 476.3V502.7M852.3 502.7V529M772.2 529V555.3M800.7 555.3V581.6M859.2 581.6V607.9M788.2 607.9V634.3M787.8 634.3V660.6M877.1 660.6V686.9M748.2 686.9V713.2M801.2 713.2V739.5M748.6 739.5V750.6M902 154.2V160.8M914.6 160.8V187.1M898 187.1V213.5M857.8 213.5V239.8M841.8 239.8V266.1M893.6 266.1V292.4M873.3 292.4V318.7M820.5 318.7V345.1M788 345.1V371.4M858.7 371.4V397.7M910 397.7V424M800.7 424V450.3M777.3 450.3V476.7M858.9 476.7V503M789.3 503V529.3M794.6 529.3V555.6M767.9 555.6V581.9M747.7 581.9V608.3M818.1 608.3V634.6M821.5 634.6V660.9M768.8 660.9V687.2M809.8 687.2V713.5M752.4 713.5V739.9M749.5 739.9V750.6M868.7 154.2V169.1M1037.5 169.1V195.4M922 195.4V221.7M878.7 221.7V248.1M913.9 248.1V274.4M866.2 274.4V300.7M848.4 300.7V327M847.6 327V353.3M821.9 353.3V379.7M823.5 379.7V406M809.1 406V432.3M766.9 432.3V458.6M770.3 458.6V484.9M890 484.9V511.3M839.2 511.3V537.6M734 537.6V563.9M867.4 563.9V590.2M856 590.2V616.5M838.2 616.5V642.9M818.1 642.9V669.2M844.2 669.2V695.5M862.4 695.5V721.8M770 721.8V748.1M796.7 748.1V750.6M1070.9 154.2V164.1M972.1 164.1V190.4M933.8 190.4V216.7M861.3 216.7V243.1M766.6 243.1V269.4M783.1 269.4V295.7M820.8 295.7V322M781.7 322V348.3M817.9 348.3V374.7M767.8 374.7V401M836.3 401V427.3M778.2 427.3V453.6M859 453.6V479.9M776.5 479.9V506.3M845 506.3V532.6M878.7 532.6V558.9M836.5 558.9V585.2M880.6 585.2V611.5M840.4 611.5V637.9M875.7 637.9V664.2M831 664.2V690.5M834.8 690.5V716.8M857.2 716.8V743.1M748.3 743.1V750.6M963.2 154.2V162.7M1005.5 162.7V189M894.1 189V215.4M859.2 215.4V241.7M865.6 241.7V268M880.9 268V294.3M905 294.3V320.6M774.9 320.6V347M884.5 347V373.3M843.2 373.3V399.6M854.1 399.6V425.9M813.3 425.9V452.2M735.7 452.2V478.6M797.8 478.6V504.9M794.2 504.9V531.2M854.4 531.2V557.5M809.9 557.5V583.8M795.6 583.8V610.2M864.8 610.2V636.5M798.3 636.5V662.8M860.1 662.8V689.1M841.9 689.1V715.4M779.9 715.4V741.8M748.5 741.8V750.6M942.3 154.2V162.2M1035.7 162.2V188.5M926.7 188.5V214.8M914.4 214.8V241.1M884.6 241.1V267.4M822.2 267.4V293.8M909.4 293.8V320.1M801.8 320.1V346.4M772.9 346.4V372.7M839.2 372.7V399M840.2 399V425.4M834.9 425.4V451.7M773.1 451.7V478M867 478V504.3M816.7 504.3V530.6M870.2 530.6V557M794.5 557V583.3M782.1 583.3V609.6M836.6 609.6V635.9M780.8 635.9V662.2M848.3 662.2V688.6M797.1 688.6V714.9M773.1 714.9V741.2M803.2 741.2V750.6M932 154.2V164.2M886.6 164.2V190.5M941.7 190.5V216.9M860.9 216.9V243.2M917.3 243.2V269.5M866.2 269.5V295.8M912.7 295.8V322.1M779.6 322.1V348.5M885.1 348.5V374.8M878.6 374.8V401.1M782.9 401.1V427.4M782.5 427.4V453.7M819.8 453.7V480.1M780.9 480.1V506.4M846.9 506.4V532.7M772.9 532.7V559M872.8 559V585.3M744.1 585.3V611.7M863.3 611.7V638M863.3 638V664.3M771 664.3V690.6M752.9 690.6V716.9M788 716.9V743.3M743.5 743.3V750.6M1037.6 154.2V169.1M1039.9 169.1V195.4M939.5 195.4V221.7M884.2 221.7V248M799.5 248V274.3M830.8 274.3V300.7M841.5 300.7V327M899.4 327V353.3M840.1 353.3V379.6M898.4 379.6V405.9M781.2 405.9V432.3M791.8 432.3V458.6M834.6 458.6V484.9M748.6 484.9V511.2M823.4 511.2V537.5M804.5 537.5V563.9M849.1 563.9V590.2M847.7 590.2V616.5M826.5 616.5V642.8M740.5 642.8V669.1M860.9 669.1V695.5M755 695.5V721.8M823.6 721.8V748.1M762.5 748.1V750.6M923.3 154.2V177.2M914.1 177.2V203.5M881.9 203.5V229.8M913.1 229.8V256.1M792 256.1V282.4M916.2 282.4V308.8M829.5 308.8V335.1M930.1 335.1V361.4M841.3 361.4V387.7M813.2 387.7V414M797.4 414V440.4M813.8 440.4V466.7M824.7 466.7V493M842.9 493V519.3M834.6 519.3V545.6M859.5 545.6V572M855.7 572V598.3M783.6 598.3V624.6M820.2 624.6V650.9M813.4 650.9V677.2M773.9 677.2V703.6M810.5 703.6V729.9M807.9 729.9V750.6M968.8 154.2V162.6M1034.8 162.6V189M820.8 189V215.3M957.6 215.3V241.6M800.2 241.6V267.9M822.8 267.9V294.2M871.6 294.2V320.6M797.4 320.6V346.9M831.7 346.9V373.2M857.6 373.2V399.5M795.7 399.5V425.8M809.2 425.8V452.2M786.5 452.2V478.5M785.6 478.5V504.8M816.1 504.8V531.1M797.9 531.1V557.4M801.1 557.4V583.8M848.3 583.8V610.1M751.7 610.1V636.4M868.6 636.4V662.7M785.7 662.7V689M797.3 689V715.4M861 715.4V741.7M754.8 741.7V750.6M1038.4 154.2V168M977.5 168V194.3M916.1 194.3V220.6M881 220.6V246.9M817.1 246.9V273.3M790.9 273.3V299.6M869.5 299.6V325.9M814.1 325.9V352.2M836.2 352.2V378.5M854.9 378.5V404.9M806.3 404.9V431.2M797.4 431.2V457.5M784.8 457.5V483.8M804.5 483.8V510.1M829 510.1V536.5M782.1 536.5V562.8M809.8 562.8V589.1M881.9 589.1V615.4M848 615.4V641.7M811.2 641.7V668.1M837.6 668.1V694.4M813.3 694.4V720.7M755.5 720.7V747M754.2 747V750.6M967.4 154.2V172.8M875.7 172.8V199.1M922 199.1V225.4M880.8 225.4V251.8M867 251.8V278.1M848 278.1V304.4M817.9 304.4V330.7M806.7 330.7V357M826.9 357V383.4M768.7 383.4V409.7M888 409.7V436M827.7 436V462.3M785.4 462.3V488.6M784.1 488.6V515M834.7 515V541.3M769.7 541.3V567.6M837.9 567.6V593.9M862.4 593.9V620.2M820.9 620.2V646.6M749.3 646.6V672.9M836.9 672.9V699.2M798.1 699.2V725.5M860.2 725.5V750.6M994.9 154.2V177.1M812.4 177.1V203.5M883.6 203.5V229.8M837.1 229.8V256.1M817.7 256.1V282.4M826.7 282.4V308.7M898.7 308.7V335.1M895 335.1V361.4M769.4 361.4V387.7M813.6 387.7V414M822.2 414V440.3M767 440.3V466.7M833 466.7V493M814.1 493V519.3M868.6 519.3V545.6M805.7 545.6V571.9M801.4 571.9V598.3M851.9 598.3V624.6M779.7 624.6V650.9M779.8 650.9V677.2M859.5 677.2V703.5M826 703.5V729.9M814.1 729.9V750.6M959 154.9V181.2M831.2 181.2V207.6M883 207.6V233.9M893.7 233.9V260.2M949.2 260.2V286.5M830.4 286.5V312.8M819.5 312.8V339.2M801.7 339.2V365.5M809.3 365.5V391.8M856.3 391.8V418.1M776.7 418.1V444.4M834.7 444.4V470.8M788.5 470.8V497.1M870.5 497.1V523.4M827.7 523.4V549.7M836 549.7V576M778.2 576V602.4M874.2 602.4V628.7M800.5 628.7V655M841.8 655V681.3M742.8 681.3V707.6M784 707.6V734M778.7 734V750.6M930.1 154.2V165.8M1005.2 165.8V192.1M953.6 192.1V218.5M844.9 218.5V244.8M803 244.8V271.1M876.5 271.1V297.4M922.4 297.4V323.7M757 323.7V350.1M820 350.1V376.4M871.4 376.4V402.7M770.3 402.7V429M790.8 429V455.3M845.8 455.3V481.7M881.8 481.7V508M820.6 508V534.3M788.8 534.3V560.6M845.2 560.6V586.9M791.5 586.9V613.3M825.8 613.3V639.6M786.9 639.6V665.9M841.5 665.9V692.2M836.2 692.2V718.5M743.3 718.5V744.9M828.8 744.9V750.6M1033.8 154.2V169M1001.1 169V195.3M868.6 195.3V221.7M922.3 221.7V248M786.7 248V274.3M752.9 274.3V300.6M819.3 300.6V326.9M791.8 326.9V353.3M830.5 353.3V379.6M774.4 379.6V405.9M769.3 405.9V432.2M862 432.2V458.5M753.1 458.5V484.9M783.2 484.9V511.2M856.1 511.2V537.5M877.2 537.5V563.8M795.5 563.8V590.1M745.5 590.1V616.5M825 616.5V642.8M791.9 642.8V669.1M786.1 669.1V695.4M804.6 695.4V721.7M858.5 721.7V748.1M772.6 748.1V750.6M943.4 154.2V163.5M1018.9 163.5V189.8M905.3 189.8V216.1M819.6 216.1V242.5M770 242.5V268.8M885.9 268.8V295.1M777.8 295.1V321.4M869.1 321.4V347.7M782.3 347.7V374.1M777 374.1V400.4M839.7 400.4V426.7M854.8 426.7V453M809.1 453V479.3M901.4 479.3V505.7M838.6 505.7V532M805.7 532V558.3M773.3 558.3V584.6M803.6 584.6V610.9M819.2 610.9V637.3M757.8 637.3V663.6M765.6 663.6V689.9M822.2 689.9V716.2M793.8 716.2V742.5M781.3 742.5V750.6M891.3 154.2V163.1M890.4 163.1V189.4M963.5 189.4V215.7M870.9 215.7V242M905.2 242V268.4M799.4 268.4V294.7M864.3 294.7V321M872.3 321V347.3M925.6 347.3V373.6M766.7 373.6V400M768.8 400V426.3M790.6 426.3V452.6M861.8 452.6V478.9M812.6 478.9V505.2M799.2 505.2V531.6M860.3 531.6V557.9M870.7 557.9V584.2M857.7 584.2V610.5M760.3 610.5V636.8M859.5 636.8V663.2M793.4 663.2V689.5M840 689.5V715.8M855.4 715.8V742.1M746.3 742.1V750.6M1005.9 154.2V174.2M967.1 174.2V200.5M888.7 200.5V226.8M819.8 226.8V253.1M758 253.1V279.4M848.4 279.4V305.8M776.7 305.8V332.1M776 332.1V358.4M874.8 358.4V384.7M835.1 384.7V411M755 411V437.4M828.9 437.4V463.7M810.7 463.7V490M819.8 490V516.3M785.9 516.3V542.6M851.6 542.6V569M827.2 569V595.3M822.4 595.3V621.6M814.5 621.6V647.9M765.9 647.9V674.2M772.8 674.2V700.6M785 700.6V726.9M795.7 726.9V750.6M1008.7 154.2V163.2M975.9 163.2V189.5M912.6 189.5V215.8M920.9 215.8V242.1M806.9 242.1V268.4M879.9 268.4V294.8M923.1 294.8V321.1M781.3 321.1V347.4M886.4 347.4V373.7M773.3 373.7V400M798.5 400V426.4M787.8 426.4V452.7M868.7 452.7V479M758.2 479V505.3M873.1 505.3V531.6M800.5 531.6V558M856.8 558V584.3M760.7 584.3V610.6M806 610.6V636.9M834.9 636.9V663.2M850 663.2V689.6M857 689.6V715.9M760.5 715.9V742.2M756.5 742.2V750.6M930.7 154.2V162.3M983.9 162.3V188.6M900.5 188.6V215M835.1 215V241.3M763.2 241.3V267.6M806.8 267.6V293.9M908.8 293.9V320.2M826.6 320.2V346.6M786.5 346.6V372.9M861.8 372.9V399.2M754.7 399.2V425.5M841.3 425.5V451.8M868.6 451.8V478.2M772.3 478.2V504.5M851.7 504.5V530.8M863.4 530.8V557.1M876.7 557.1V583.4M801.5 583.4V609.8M757.8 609.8V636.1M832 636.1V662.4M868.1 662.4V688.7M867.3 688.7V715M748 715V741.4M812 741.4V750.6M1036.1 154.2V167.7M987.6 167.7V194M903.9 194V220.3M966.7 220.3V246.6M843.7 246.6V273M760.8 273V299.3M810.4 299.3V325.6M826 325.6V351.9M885.1 351.9V378.2M784.7 378.2V404.6M798 404.6V430.9M831.3 430.9V457.2M806.7 457.2V483.5M863.1 483.5V509.8M808.3 509.8V536.2M781.6 536.2V562.5M806.2 562.5V588.8M794.6 588.8V615.1M808.6 615.1V641.4M820.7 641.4V667.8M783.7 667.8V694.1M864.4 694.1V720.4M859.1 720.4V746.7M826.4 746.7V750.6M1007.9 154.2V165.6M998.5 165.6V191.9M966.6 191.9V218.2M795.9 218.2V244.6M847.3 244.6V270.9M911.6 270.9V297.2M829.4 297.2V323.5M785.6 323.5V349.8M831.1 349.8V376.2M771.5 376.2V402.5M883 402.5V428.8M841.7 428.8V455.1M883 455.1V481.4M806.9 481.4V507.8M890.7 507.8V534.1M792.6 534.1V560.4M856 560.4V586.7M810 586.7V613M781.4 613V639.4M864.8 639.4V665.7M776.9 665.7V692M781.1 692V718.3M813 718.3V744.6M854.3 744.6V750.6M1044.4 154.2V163.4M1033.3 163.4V189.7M979.1 189.7V216M847.2 216V242.4M860.8 242.4V268.7M910.2 268.7V295M894 295V321.3M780.8 321.3V347.6M847.4 347.6V374M875.4 374V400.3M857 400.3V426.6M776 426.6V452.9M777.9 452.9V479.2M878.2 479.2V505.6M861 505.6V531.9M831.9 531.9V558.2M820.5 558.2V584.5M837.7 584.5V610.8M835.6 610.8V637.2M856.8 637.2V663.5M832.2 663.5V689.8M832.3 689.8V716.1M838.4 716.1V742.4M857.5 742.4V750.6M914.4 154.2V166.5M977.5 166.5V192.8M935.5 192.8V219.1M883.6 219.1V245.5M872.8 245.5V271.8M793.3 271.8V298.1M864.2 298.1V324.4M802.1 324.4V350.7M781.4 350.7V377.1M901.1 377.1V403.4M883.4 403.4V429.7M800.3 429.7V456M853.8 456V482.3M814 482.3V508.7M842.3 508.7V535M852.9 535V561.3M885.9 561.3V587.6M860.6 587.6V613.9M797.2 613.9V640.3M769.6 640.3V666.6M777.2 666.6V692.9M834.7 692.9V719.2M789.4 719.2V745.5M778.4 745.5V750.6M1015.8 154.2V161.2M1014.2 161.2V187.6M839.7 187.6V213.9M851.4 213.9V240.2M761.2 240.2V266.5M822.9 266.5V292.8M877.5 292.8V319.2M910.2 319.2V345.5M800 345.5V371.8M809.9 371.8V398.1M781.5 398.1V424.4M783.4 424.4V450.8M787.1 450.8V477.1M887.2 477.1V503.4M800.4 503.4V529.7M847.3 529.7V556M865.6 556V582.4M860.3 582.4V608.7M855.9 608.7V635M752.8 635V661.3M856.9 661.3V687.6M775.6 687.6V714M792.9 714V740.3M758.5 740.3V750.6M1038.9 154.2V166.8M1019.6 166.8V193.2M925.2 193.2V219.5M907.6 219.5V245.8M919.1 245.8V272.1M832 272.1V298.4M819 298.4V324.8M861.1 324.8V351.1M767.7 351.1V377.4M788.5 377.4V403.7M855.9 403.7V430M910 430V456.4M786.5 456.4V482.7M787.2 482.7V509M806.6 509V535.3M768 535.3V561.6M861 561.6V588M792.5 588V614.3M780.1 614.3V640.6M826.6 640.6V666.9M857.9 666.9V693.2M822.7 693.2V719.6M802.1 719.6V745.9M860.2 745.9V750.6M881.1 154.2V165.1M1026.7 165.1V191.4M881.3 191.4V217.8M918.9 217.8V244.1M775.2 244.1V270.4M889.4 270.4V296.7M889.1 296.7V323M827 323V349.4M789.1 349.4V375.7M873.6 375.7V402M812.2 402V428.3M866.6 428.3V454.6M819.8 454.6V481M830.8 481V507.3M821.3 507.3V533.6M803.9 533.6V559.9M835.2 559.9V586.2M827.7 586.2V612.6M755.7 612.6V638.9M829.7 638.9V665.2M793.8 665.2V691.5M783 691.5V717.8M783.7 717.8V744.2M821.7 744.2V750.6M1010.5 154.2V168.2M991.7 168.2V194.5M928.5 194.5V220.8M826.7 220.8V247.1M885.3 247.1V273.5M910.2 273.5V299.8M783.4 299.8V326.1M826.7 326.1V352.4M826.4 352.4V378.7M849.9 378.7V405.1M778.1 405.1V431.4M839.3 431.4V457.7M842.8 457.7V484M782.7 484V510.3M845.8 510.3V536.7M797.4 536.7V563M820.4 563V589.3M798.4 589.3V615.6M777.7 615.6V641.9M762.3 641.9V668.3M817.1 668.3V694.6M851.2 694.6V720.9M815.4 720.9V747.2M762.8 747.2V750.6M992.4 154.2V160.3M907.4 160.3V186.7M966 186.7V213M838.8 213V239.3M822.2 239.3V265.6M875.7 265.6V291.9M764.9 291.9V318.3M823 318.3V344.6M805.6 344.6V370.9M781.9 370.9V397.2M817 397.2V423.5M871.1 423.5V449.9M843.6 449.9V476.2M797.7 476.2V502.5M880.5 502.5V528.8M853.5 528.8V555.1M750 555.1V581.5M867.6 581.5V607.8M825.2 607.8V634.1M751.5 634.1V660.4M854.3 660.4V686.7M817.8 686.7V713.1M855.8 713.1V739.4M859.7 739.4V750.6M1075.9 154.2V165.7M1076.8 165.7V187.5M885 192V218.4M825.4 218.4V244.7M818 244.7V271M826 271V297.3M831.9 297.3V323.6M813.2 323.6V350M848.2 350V376.3M770.6 376.3V402.6M791.6 402.6V428.9M852.8 428.9V455.2M860.2 455.2V481.6M812.2 481.6V507.9M819.5 507.9V534.2M784.9 534.2V560.5M780.5 560.5V586.8M851.6 586.8V613.2M809.4 613.2V639.5M830.8 639.5V665.8M805.5 665.8V692.1M791.8 692.1V718.4M805.6 718.4V744.8M864.3 744.8V750.6M990.6 154.2V163.7M973.1 163.7V190M879.5 190V216.4M866.4 216.4V242.7M869.7 242.7V269M845.5 269V295.3M877.7 295.3V321.6M902.8 321.6V348M871.1 348V374.3M823 374.3V400.6M848.1 400.6V426.9M769 426.9V453.2M863.7 453.2V479.6M806 479.6V505.9M868.1 505.9V532.2M814.5 532.2V558.5M825.2 558.5V584.8M845.7 584.8V611.2M730.5 611.2V637.5M853 637.5V663.8M849 663.8V690.1M751.8 690.1V716.4M752.5 716.4V742.8M872 742.8V750.6M1038 154.2V160.8M962.2 160.8V187.2M963.2 187.2V213.5M940.2 213.5V239.8M815.6 239.8V266.1M868.7 266.1V292.4M823.9 292.4V318.8M823.1 318.8V345.1M825.4 345.1V371.4M861 371.4V397.7M774.5 397.7V424M829.8 424V450.4M857.4 450.4V476.7M872.9 476.7V503M831.3 503V529.3M797.5 529.3V555.6M819.4 555.6V582M809.9 582V608.3M807.6 608.3V634.6M748.9 634.6V660.9M866.7 660.9V687.2M820.9 687.2V713.6M868.7 713.6V739.9M856.4 739.9V750.6M959.3 154.2V163M959.2 163V189.3M919.6 189.3V215.6M805.3 215.6V242M824 242V268.3M842.2 268.3V294.6M812.6 294.6V320.9M830.2 320.9V347.2M901.5 347.2V373.6M790.4 373.6V399.9M861.6 399.9V426.2M853.3 426.2V452.5M839.5 452.5V478.8M796.5 478.8V505.2M773.6 505.2V531.5M749.2 531.5V557.8M788.1 557.8V584.1M869.5 584.1V610.4M835.2 610.4V636.8M807.8 636.8V663.1M770.8 663.1V689.4M849.8 689.4V715.7M798 715.7V742M844.5 742V750.6M887.8 154.2V179.6M949.9 179.6V205.9M895.8 205.9V232.2M912.4 232.2V258.6M841.8 258.6V284.9M871.5 284.9V311.2M831.2 311.2V337.5M870.2 337.5V363.8M809 363.8V390.2M920.5 390.2V416.5M760.7 416.5V442.8M784.5 442.8V469.1M832.7 469.1V495.4M816.7 495.4V521.8M782.1 521.8V548.1M773 548.1V574.4M842.2 574.4V600.7M771.1 600.7V627M845.7 627V653.4M765 653.4V679.7M767.3 679.7V706M755.7 706V732.3M748.8 732.3V750.6M1012.7 154.2V167.1M1006.5 167.1V193.4M876.8 193.4V219.7M819.7 219.7V246M901.9 246V272.4M799.6 272.4V298.7M888.1 298.7V325M811.4 325V351.3M859.3 351.3V377.6M846.5 377.6V404M763 404V430.3M843.9 430.3V456.6M765 456.6V482.9M867.3 482.9V509.2M785.6 509.2V535.6M829.7 535.6V561.9M822.6 561.9V588.2M773.4 588.2V614.5M889.5 614.5V640.8M816.1 640.8V667.2M795.4 667.2V693.5M753.3 693.5V719.8M835.8 719.8V746.1M850.8 746.1V750.6M988 154.2V161.5M1016.4 161.5V187.8M926.2 187.8V214.1M869.5 214.1V240.4M883.6 240.4V266.7M813 266.7V293.1M836.3 293.1V319.4M884.5 319.4V345.7M792.3 345.7V372M847.3 372V398.3M800.7 398.3V424.7M827.2 424.7V451M787.5 451V477.3M781.5 477.3V503.6M797 503.6V529.9M777.6 529.9V556.3M873 556.3V582.6M824.6 582.6V608.9M763.1 608.9V635.2M868.8 635.2V661.5M769.2 661.5V687.9M870.2 687.9V714.2M876.1 714.2V740.5M820.6 740.5V750.6M995.6 154.2V173.2M837.7 173.2V199.5M935 199.5V225.9M862 225.9V252.2M874.6 252.2V278.5M793.8 278.5V304.8M833 304.8V331.1M809.5 331.1V357.5M903.3 357.5V383.8M788.4 383.8V410.1M796.5 410.1V436.4M872.4 436.4V462.7M808 462.7V489.1M788.8 489.1V515.4M808.5 515.4V541.7M764.1 541.7V568M856.4 568V594.3M842.4 594.3V620.7M796.6 620.7V647M768.2 647V673.3M860.5 673.3V699.6M753.1 699.6V725.9M848.5 725.9V750.6M1020.9 154.2V167.2M975.3 167.2V193.6M907.4 193.6V219.9M886.1 219.9V246.2M895.1 246.2V272.5M848.4 272.5V298.8M800.2 298.8V325.2M798.1 325.2V351.5M882 351.5V377.8M787.2 377.8V404.1M856.2 404.1V430.4M870.7 430.4V456.8M772 456.8V483.1M859 483.1V509.4M808.6 509.4V535.7M874.6 535.7V562M771.8 562V588.4M840.3 588.4V614.7M773.3 614.7V641M775.5 641V667.3M863.2 667.3V693.6M848.3 693.6V720M856.3 720V746.3M821.8 746.3V750.6M1005 154.2V168.3M939.6 168.3V194.6M914.3 194.6V220.9M932.4 220.9V247.2M810.9 247.2V273.5M884.5 273.5V299.9M778.5 299.9V326.2M816.6 326.2V352.5M804.5 352.5V378.8M779.3 378.8V405.1M800.9 405.1V431.5M895.1 431.5V457.8M923.6 457.8V484.1M785.1 484.1V510.4M840.5 510.4V536.7M767.8 536.7V563.1M794.4 563.1V589.4M857.5 589.4V615.7M768.4 615.7V642M760.6 642V668.3M761.2 668.3V694.7M844.7 694.7V721M772.4 721V747.3M773.2 747.3V750.6M1037.9 154.2V164.4M1004.6 164.4V190.7M907.3 190.7V217M886.1 217V243.4M876 243.4V269.7M862.4 269.7V296M798.3 296V322.3M871 322.3V348.6M850.9 348.6V375M826.4 375V401.3M815.8 401.3V427.6M783.2 427.6V453.9M829.6 453.9V480.2M896.7 480.2V506.6M862.2 506.6V532.9M769.9 532.9V559.2M816.1 559.2V585.5M799.5 585.5V611.8M808.2 611.8V638.2M773.7 638.2V664.5M868.6 664.5V690.8M783 690.8V717.1M793.9 717.1V743.4M846.6 743.4V750.6M906.3 154.2V165.2M1033.5 165.2V191.5M972.4 191.5V217.8M863.2 217.8V244.1M910.4 244.1V270.5M843.1 270.5V296.8M772.1 296.8V323.1M828.2 323.1V349.4M869.1 349.4V375.7M761.2 375.7V402.1M873 402.1V428.4M827.7 428.4V454.7M847.4 454.7V481M823.2 481V507.3M785.2 507.3V533.7M745.7 533.7V560M821.9 560V586.3M803 586.3V612.6M857.2 612.6V638.9M882.6 638.9V665.3M754.6 665.3V691.6M830.1 691.6V717.9M786.1 717.9V744.2M784.1 744.2V750.6M1024.2 154.2V165.7M910.5 165.7V192M815.8 192V218.3M896.2 218.3V244.7M924.7 244.7V271M844.7 271V297.3M774.8 297.3V323.6M791.6 323.6V349.9M792 349.9V376.3M817.5 376.3V402.6M774.1 402.6V428.9M766.6 428.9V455.2M795.7 455.2V481.5M804.9 481.5V507.9M790.9 507.9V534.2M774.2 534.2V560.5M856.6 560.5V586.8M770.1 586.8V613.1M863 613.1V639.5M751 639.5V665.8M790 665.8V692.1M820.3 692.1V718.4M779 718.4V744.7M866.6 744.7V750.6M849.3 154.2V168.7M895.5 168.7V195M909.1 195V221.4M912.7 221.4V247.7M897.1 247.7V274M836.4 274V300.3M954.9 300.3V326.6M900.4 326.6V353M866.5 353V379.3M829.9 379.3V405.6M880.8 405.6V431.9M813.8 431.9V458.2M830.1 458.2V484.6M882.9 484.6V510.9M818.2 510.9V537.2M801.6 537.2V563.5M876.2 563.5V589.8M818 589.8V616.2M814.8 616.2V642.5M785.3 642.5V668.8M791.5 668.8V695.1M784.1 695.1V721.4M794.7 721.4V747.8M807.9 747.8V750.6M969.8 154.2V178.4M972.6 178.4V204.7M871.3 204.7V231M884 231V257.3M844.9 257.3V283.7M896.6 283.7V310M878.7 310V336.3M775.8 336.3V362.6M823.5 362.6V388.9M775.9 388.9V415.3M857.7 415.3V441.6M836.3 441.6V467.9M738.8 467.9V494.2M778.2 494.2V520.5M838.2 520.5V546.9M767 546.9V573.2M787.9 573.2V599.5M783 599.5V625.8M800.1 625.8V652.1M813.3 652.1V678.5M823.4 678.5V704.8M833.6 704.8V731.1M792.9 731.1V750.6M1078.8 154.2V173.8M925.1 173.8V200.1M875.2 200.1V226.5M863.2 226.5V252.8M934.6 252.8V279.1M840.6 279.1V305.4M849.8 305.4V331.7M859.2 331.7V358.1M881.8 358.1V384.4M779.7 384.4V410.7M863.1 410.7V437M788.6 437V463.3M847.4 463.3V489.7M832.5 489.7V516M769.3 516V542.3M767.1 542.3V568.6M843.2 568.6V594.9M761.5 594.9V621.3M849.8 621.3V647.6M780.6 647.6V673.9M749.9 673.9V700.2M846.4 700.2V726.5M833.5 726.5V750.6M1007.1 154.2V165.8M1047.3 165.8V192.1M899.5 192.1V218.4M864.9 218.4V244.7M841.8 244.7V271M812.8 271V297.4M826.9 297.4V323.7M757.4 323.7V350M929.1 350V376.3M857.4 376.3V402.6M861.9 402.6V429M787.2 429V455.3M800.3 455.3V481.6M897.2 481.6V507.9M895.7 507.9V534.2M858.9 534.2V560.6M875.4 560.6V586.9M857.9 586.9V613.2M832.1 613.2V639.5M823.3 639.5V665.8M792.7 665.8V692.2M787.8 692.2V718.5M860.3 718.5V744.8M833.4 744.8V750.6M917.8 154.2V169.1M967.6 169.1V195.5M810.5 195.5V221.8M829.6 221.8V248.1M885.4 248.1V274.4M860.6 274.4V300.7M822.8 300.7V327.1M872.5 327.1V353.4M786 353.4V379.7M824.1 379.7V406M862.3 406V432.3M904.8 432.3V458.7M784.1 458.7V485M776.5 485V511.3M829.9 511.3V537.6M826.4 537.6V563.9M768.4 563.9V590.3M855.4 590.3V616.6M819.9 616.6V642.9M759.6 642.9V669.2M776.8 669.2V695.5M833.1 695.5V721.9M760.1 721.9V748.2M780.2 748.2V750.6M909.8 154.2V168.8M1014.8 168.8V195.1M832.3 195.1V221.5M824.6 221.5V247.8M769.6 247.8V274.1M851.2 274.1V300.4M807.5 300.4V326.7M782.6 326.7V353.1M778.7 353.1V379.4M834.1 379.4V405.7M879.9 405.7V432M795 432V458.3M810.6 458.3V484.7M818.8 484.7V511M849.9 511V537.3M822.1 537.3V563.6M848.5 563.6V589.9M801.3 589.9V616.3M856.7 616.3V642.6M848.9 642.6V668.9M868.7 668.9V695.2M784.7 695.2V721.5M753.7 721.5V747.9M776 747.9V750.6M1016.6 154.2V156.6M970 156.6V182.9M875.3 182.9V209.2M876.8 209.2V235.5M889.7 235.5V261.8M838.6 261.8V288.2M892.8 288.2V314.5M861.9 314.5V340.8M829.7 340.8V367.1M786.8 367.1V393.4M824.2 393.4V419.8M871.5 419.8V446.1M739.4 446.1V472.4M830.1 472.4V498.7M846 498.7V525M806.5 525V551.4M776.7 551.4V577.7M864.5 577.7V604M810.6 604V630.3M887.1 630.3V656.6M850.9 656.6V683M801.8 683V709.3M843.5 709.3V735.6M806.9 735.6V750.6M1015.6 154.2V162.3M1034.6 162.3V188.6M903.4 188.6V215M900.9 215V241.3M910.5 241.3V267.6M919.3 267.6V293.9M816.3 293.9V320.2M917 320.2V346.6M820 346.6V372.9M821.3 372.9V399.2M841.2 399.2V425.5M880.4 425.5V451.8M801.2 451.8V478.2M755.4 478.2V504.5M814.5 504.5V530.8M806.2 530.8V557.1M822.2 557.1V583.4M863.2 583.4V609.8M877.4 609.8V636.1M759.5 636.1V662.4M840.2 662.4V688.7M836.5 688.7V715M788.2 715V741.4M768.4 741.4V750.6M1035.6 154.2V162.1M1062.7 162.1V176.3M948.9 188.5V214.8M852.6 214.8V241.1M813.5 241.1V267.4M805 267.4V293.7M783.3 293.7V320.1M821.4 320.1V346.4M842.5 346.4V372.7M903.8 372.7V399M820.6 399V425.3M776.7 425.3V451.7M771.8 451.7V478M878.8 478V504.3M865 504.3V530.6M767.8 530.6V556.9M844.9 556.9V583.3M778.6 583.3V609.6M769.2 609.6V635.9M871.4 635.9V662.2M860.6 662.2V688.5M860.5 688.5V714.9M856.7 714.9V741.2M753.5 741.2V750.6M1050.1 154.2V167.2M996 167.2V193.6M972.8 193.6V219.9M831 219.9V246.2M769.6 246.2V272.5M888.1 272.5V298.8M795 298.8V325.2M802.6 325.2V351.5M893 351.5V377.8M813.3 377.8V404.1M787.2 404.1V430.4M837.2 430.4V456.8M830.5 456.8V483.1M758.3 483.1V509.4M765.9 509.4V535.7M854.4 535.7V562M774.6 562V588.4M826.8 588.4V614.7M858.4 614.7V641M833.9 641V667.3M817.7 667.3V693.6M788.6 693.6V720M858 720V746.3M769.1 746.3V750.6M1033.7 154.2V163.1M911.1 163.1V189.5M968.4 189.5V215.8M848.5 215.8V242.1M819.7 242.1V268.4M787.8 268.4V294.7M865.6 294.7V321.1M811.7 321.1V347.4M816.2 347.4V373.7M854.3 373.7V400M850.2 400V426.3M819.9 426.3V452.7M839.9 452.7V479M783.2 479V505.3M819.1 505.3V531.6M878.9 531.6V557.9M857.2 557.9V584.3M751 584.3V610.6M764.3 610.6V636.9M817.3 636.9V663.2M862.3 663.2V689.5M788.7 689.5V715.9M853.5 715.9V742.2M875.8 742.2V750.6M1046.3 154.2V167.4M898.3 167.4V193.7M896.1 193.7V220M876.9 220V246.4M801.2 246.4V272.7M792.9 272.7V299M826.6 299V325.3M829.6 325.3V351.6M831.9 351.6V378M809.9 378V404.3M818.6 404.3V430.6M783.6 430.6V456.9M819.3 456.9V483.2M841.5 483.2V509.6M841 509.6V535.9M842.6 535.9V562.2M833.1 562.2V588.5M845 588.5V614.8M851.6 614.8V641.2M856 641.2V667.5M752.6 667.5V693.8M854.5 693.8V720.1M838 720.1V746.4M828 746.4V750.6M1001.2 154.2V160.9M1012.8 160.9V187.3M869.4 187.3V213.6M852.1 213.6V239.9M826.1 239.9V266.2M921 266.2V292.5M948.5 292.5V318.9M887.7 318.9V345.2M857.6 345.2V371.5M875.2 371.5V397.8M867.5 397.8V424.1M882 424.1V450.5M852.2 450.5V476.8M767.3 476.8V503.1M861 503.1V529.4M852.1 529.4V555.7M804.7 555.7V582.1M866.3 582.1V608.4M859.1 608.4V634.7M862.6 634.7V661M772.8 661V687.3M828.1 687.3V713.7M782.9 713.7V740M828.4 740V750.6M984.7 154.2V156.7M1011.3 156.7V183M911.7 183V209.3M913.9 209.3V235.6M912.1 235.6V262M816.1 262V288.3M787.6 288.3V314.6M828.5 314.6V340.9M812.2 340.9V367.2M864 367.2V393.6M786.7 393.6V419.9M856.9 419.9V446.2M878.7 446.2V472.5M815.4 472.5V498.8M800 498.8V525.2M879.3 525.2V551.5M830 551.5V577.8M856.8 577.8V604.1M786.9 604.1V630.4M832.1 630.4V656.8M818.1 656.8V683.1M814.3 683.1V709.4M752.6 709.4V735.7M859.7 735.7V750.6M965.7 154.2V166.6M1035.3 166.6V192.9M842.6 192.9V219.3M908.9 219.3V245.6M873.9 245.6V271.9M802.5 271.9V298.2M892 298.2V324.5M783.9 324.5V350.9M846.5 350.9V377.2M751.8 377.2V403.5M776 403.5V429.8M818.7 429.8V456.1M810.2 456.1V482.5M846.8 482.5V508.8M795.7 508.8V535.1M858.5 535.1V561.4M815.6 561.4V587.7M888.5 587.7V614.1M828.2 614.1V640.4M824 640.4V666.7M783 666.7V693M747.7 693V719.3M800.2 719.3V745.7M860.3 745.7V750.6M927.5 154.2V165M975 165V191.3M953.6 191.3V217.6M877.1 217.6V243.9M862 243.9V270.2M868.6 270.2V296.6M790.8 296.6V322.9M840.2 322.9V349.2M854.3 349.2V375.5M880.9 375.5V401.8M776.1 401.8V428.2M818.4 428.2V454.5M867.8 454.5V480.8M787.6 480.8V507.1M795.1 507.1V533.4M807.3 533.4V559.8M795.9 559.8V586.1M849.1 586.1V612.4M857.1 612.4V638.7M790.9 638.7V665M750.6 665V691.4M857.6 691.4V717.7M755.2 717.7V744M785.1 744V750.6M1039.5 154.2V165.3M1005.9 165.3V191.6M995.9 191.6V217.9M908.8 217.9V244.3M847.2 244.3V270.6M877.4 270.6V296.9M886.4 296.9V323.2M823.6 323.2V349.5M789.1 349.5V375.9M824 375.9V402.2M799.9 402.2V428.5M885.9 428.5V454.8M774.9 454.8V481.1M886.6 481.1V507.5M818.2 507.5V533.8M798.1 533.8V560.1M768.7 560.1V586.4M776.6 586.4V612.7M797.8 612.7V639.1M745.1 639.1V665.4M771.3 665.4V691.7M829.6 691.7V718M827.1 718V744.3M750.4 744.3V750.6M909.9 154.2V167.8M899.5 167.8V194.1M862.5 194.1V220.4M900.6 220.4V246.8M797.2 246.8V273.1M866.8 273.1V299.4M773.6 299.4V325.7M773.6 325.7V352M896.6 352V378.4M867.3 378.4V404.7M795.2 404.7V431M822.5 431V457.3M863.2 457.3V483.6M878.4 483.6V510M837.8 510V536.3M779.4 536.3V562.6M894.3 562.6V588.9M738 588.9V615.2M758.9 615.2V641.6M821.3 641.6V667.9M751.3 667.9V694.2M746.2 694.2V720.5M832 720.5V746.8M753.4 746.8V750.6M1015.9 154.2V164.5M1004 164.5V190.8M848.8 190.8V217.1M925.6 217.1V243.4M851.1 243.4V269.7M816.4 269.7V296.1M925.5 296.1V322.4M824.5 322.4V348.7M854.7 348.7V375M887 375V401.3M759.5 401.3V427.7M858.9 427.7V454M770.4 454V480.3M790.3 480.3V506.6M842.3 506.6V532.9M803.1 532.9V559.3M774.4 559.3V585.6M772.1 585.6V611.9M763.4 611.9V638.2M790.5 638.2V664.5M766 664.5V690.9M774 690.9V717.2M778.8 717.2V743.5M879.2 743.5V750.6M1040.8 154.2V167.7M1012.7 167.7V194M914.7 194V220.3M852 220.3V246.7M791.3 246.7V273M827.9 273V299.3M878.5 299.3V325.6M858.6 325.6V351.9M864.6 351.9V378.3M753.5 378.3V404.6M840.5 404.6V430.9M859.2 430.9V457.2M775.7 457.2V483.5M782.9 483.5V509.9M858.3 509.9V536.2M792.5 536.2V562.5M860.1 562.5V588.8M839.7 588.8V615.1M851.8 615.1V641.5M752.5 641.5V667.8M818.3 667.8V694.1M749.4 694.1V720.4M856.2 720.4V746.7M748.4 746.7V750.6M1011.9 154.2V176.8M943.8 176.8V203.1M834.4 203.1V229.4M839.2 229.4V255.7M879.2 255.7V282M910.4 282V308.4M852.6 308.4V334.7M804.8 334.7V361M826.8 361V387.3M797.9 387.3V413.6M869.9 413.6V440M791.4 440V466.3M793.4 466.3V492.6M783.2 492.6V518.9M767.7 518.9V545.2M856.4 545.2V571.6M758.1 571.6V597.9M825.7 597.9V624.2M839.3 624.2V650.5M770.6 650.5V676.8M813.4 676.8V703.2M863.6 703.2V729.5M857 729.5V750.6M961.5 154.2V162.4M987.8 162.4V188.7M921.8 188.7V215.1M845.3 215.1V241.4M903.7 241.4V267.7M888.5 267.7V294M828.2 294V320.3M803 320.3V346.7M867.8 346.7V373M841.7 373V399.3M778.5 399.3V425.6M849.8 425.6V451.9M878.2 451.9V478.3M791.4 478.3V504.6M770.9 504.6V530.9M867 530.9V557.2M828.3 557.2V583.5M793.5 583.5V609.9M742.5 609.9V636.2M801.1 636.2V662.5M769.7 662.5V688.8M757 688.8V715.1M823.5 715.1V741.5M856.2 741.5V750.6M1033.2 154.3V180.6M884.8 180.6V206.9M848.8 206.9V233.2M854.7 233.2V259.5M782.2 259.5V285.9M865 285.9V312.2M786.4 312.2V338.5M906.5 338.5V364.8M810.7 364.8V391.1M793.8 391.1V417.5M795.6 417.5V443.8M872 443.8V470.1M797.2 470.1V496.4M810.7 496.4V522.7M801.6 522.7V549.1M768.7 549.1V575.4M881.9 575.4V601.7M876.5 601.7V628M859.1 628V654.3M833.5 654.3V680.7M806.2 680.7V707M765.7 707V733.3M859.6 733.3V750.6M965.7 154.7V181M937.6 181V207.3M864.7 207.3V233.7M859.2 233.7V260M843.9 260V286.3M828 286.3V312.6M792 312.6V338.9M893.6 338.9V365.3M775 365.3V391.6M842.6 391.6V417.9M798.6 417.9V444.2M723.4 444.2V470.5M852.1 470.5V496.9M794.4 496.9V523.2M815.2 523.2V549.5M857.7 549.5V575.8M849.2 575.8V602.1M855.4 602.1V628.5M830.8 628.5V654.8M767.1 654.8V681.1M787 681.1V707.4M781.5 707.4V733.7M826 733.7V750.6M1033.5 154.2V158.6M950.8 158.6V184.9M907.2 184.9V211.3M903.2 211.3V237.6M794 237.6V263.9M875 263.9V290.2M797.5 290.2V316.5M856.7 316.5V342.9M826.3 342.9V369.2M835 369.2V395.5M763.3 395.5V421.8M868.7 421.8V448.1M866.4 448.1V474.5M776.7 474.5V500.8M819.2 500.8V527.1M826.4 527.1V553.4M753.1 553.4V579.7M776 579.7V606.1M733.5 606.1V632.4M818.2 632.4V658.7M858.7 658.7V685M824.5 685V711.3M858.2 711.3V737.7M797.6 737.7V750.6M1013.5 154.2V162M1049.7 162V188.3M976.5 188.3V214.6M938 214.6V240.9M780.5 240.9V267.3M892 267.3V293.6M919.5 293.6V319.9M886.4 319.9V346.2M859.2 346.2V372.5M828.7 372.5V398.9M799.9 398.9V425.2M809.8 425.2V451.5M798.1 451.5V477.8M758.5 477.8V504.1M759.4 504.1V530.5M792.2 530.5V556.8M857.2 556.8V583.1M794.2 583.1V609.4M868.4 609.4V635.7M762.1 635.7V662.1M854.8 662.1V688.4M829.6 688.4V714.7M860 714.7V741M761.4 741V750.6M974.8 154.2V161.5M913.1 161.5V187.9M946.7 187.9V214.2M807.4 214.2V240.5M882 240.5V266.8M837.3 266.8V293.1M832.4 293.1V319.5M879.8 319.5V345.8M866.4 345.8V372.1M763.1 372.1V398.4M835.2 398.4V424.7M815.1 424.7V451.1M795.2 451.1V477.4M867.1 477.4V503.7M801.4 503.7V530M851.3 530V556.3M846.6 556.3V582.7M809 582.7V609M856.7 609V635.3M867.3 635.3V661.6M748.2 661.6V687.9M847 687.9V714.3M855.5 714.3V740.6M857.8 740.6V750.6M952.7 154.2V162.3M1039.4 162.3V188.6M959.9 188.6V214.9M863.4 214.9V241.3M909.5 241.3V267.6M788.8 267.6V293.9M821.6 293.9V320.2M792.8 320.2V346.5M825.4 346.5V372.9M828.4 372.9V399.2M836.8 399.2V425.5M822 425.5V451.8M765.8 451.8V478.1M826 478.1V504.5M782.5 504.5V530.8M852.5 530.8V557.1M761 557.1V583.4M753.5 583.4V609.7M838.3 609.7V636.1M780.1 636.1V662.4M859 662.4V688.7M787.9 688.7V715M747.4 715V741.3M749.2 741.3V750.6M947.5 154.4V180.7M948.3 180.7V207M837.4 207V233.3M873.5 233.3V259.7M917.4 259.7V286M835.4 286V312.3M863.9 312.3V338.6M831.6 338.6V364.9M841.9 364.9V391.3M811.8 391.3V417.6M873.8 417.6V443.9M769.7 443.9V470.2M785.9 470.2V496.5M820.3 496.5V522.9M852 522.9V549.2M784.4 549.2V575.5M836.2 575.5V601.8M750.2 601.8V628.1M852.5 628.1V654.5M761.2 654.5V680.8M859.7 680.8V707.1M846.6 707.1V733.4M750.3 733.4V750.6M994.7 154.2V176.9M995.9 176.9V203.2M816.8 203.2V229.5M875.3 229.5V255.8M790.3 255.8V282.1M799.6 282.1V308.5M777.7 308.5V334.8M758.3 334.8V361.1M846.1 361.1V387.4M860.6 387.4V413.7M866 413.7V440.1M866 440.1V466.4M798 466.4V492.7M783.9 492.7V519M849.4 519V545.3M836.5 545.3V571.7M849.3 571.7V598M764.9 598V624.3M786.9 624.3V650.6M820.2 650.6V676.9M785.2 676.9V703.3M806.7 703.3V729.6M803.6 729.6V750.6M1020.8 154.2V165.9M1035.4 165.9V192.2M954.7 192.2V218.5M919.8 218.5V244.9M831.1 244.9V271.2M858.4 271.2V297.5M826.9 297.5V323.8M775.1 323.8V350.1M812.7 350.1V376.5M781.3 376.5V402.8M861 402.8V429.1M901.3 429.1V455.4M854.9 455.4V481.7M839 481.7V508.1M833.4 508.1V534.4M866.5 534.4V560.7M863.4 560.7V587M836.5 587V613.3M762 613.3V639.7M780.3 639.7V666M823.5 666V692.3M792.1 692.3V718.6M854.6 718.6V744.9M835.2 744.9V750.6M917.2 154.2V165.2M1038 165.2V191.5M826.4 191.5V217.9M796.9 217.9V244.2M816.1 244.2V270.5M777.6 270.5V296.8M861.9 296.8V323.1M857.1 323.1V349.5M824.4 349.5V375.8M816 375.8V402.1M773.3 402.1V428.4M804.9 428.4V454.7M774.1 454.7V481.1M836.6 481.1V507.4M858.9 507.4V533.7M821 533.7V560M811.6 560V586.3M782 586.3V612.7M775.1 612.7V639M861.3 639V665.3M832.5 665.3V691.6M849.4 691.6V717.9M780.5 717.9V744.3M757.7 744.3V750.6M1021.9 155.7V182.1M846.7 182.1V208.4M951.8 208.4V234.7M840.7 234.7V261M915.4 261V287.3M863.1 287.3V313.7M816.8 313.7V340M747.5 340V366.3M872.9 366.3V392.6M840.8 392.6V418.9M891.7 418.9V445.3M765.9 445.3V471.6M771 471.6V497.9M810 497.9V524.2M788 524.2V550.5M755.3 550.5V576.9M795.3 576.9V603.2M861.7 603.2V629.5M834.3 629.5V655.8M802.7 655.8V682.1M760.6 682.1V708.5M751.2 708.5V734.8M814.1 734.8V750.6M961.5 154.2V157.1M1056.5 157.1V182.9M918 183.5V209.8M833.2 209.8V236.1M859 236.1V262.4M871.9 262.4V288.7M923.1 288.7V315.1M909.3 315.1V341.4M859.8 341.4V367.7M861.6 367.7V394M822.5 394V420.3M772.3 420.3V446.7M790.7 446.7V473M805 473V499.3M853.1 499.3V525.6M765.6 525.6V551.9M866.9 551.9V578.3M803.2 578.3V604.6M797.1 604.6V630.9M774.7 630.9V657.2M861 657.2V683.5M837.2 683.5V709.9M855.3 709.9V736.2M824.1 736.2V750.6M914.9 154.2V165.8M1015.4 165.8V192.1M944.6 192.1V218.4M935.9 218.4V244.7M859.5 244.7V271M848.3 271V297.4M844.1 297.4V323.7M775.4 323.7V350M894.5 350V376.3M770.5 376.3V402.6M857.2 402.6V429M766.6 429V455.3M906.4 455.3V481.6M867 481.6V507.9M808.6 507.9V534.2M823.8 534.2V560.6M781.8 560.6V586.9M868.4 586.9V613.2M869.3 613.2V639.5M762.1 639.5V665.8M759.5 665.8V692.2M756.8 692.2V718.5M833.1 718.5V744.8M800 744.8V750.6M1044.6 154.2V165.1M1012.1 165.1V191.4M826.8 191.4V217.8M771.6 217.8V244.1M804.9 244.1V270.4M843.3 270.4V296.7M783.2 296.7V323M918 323V349.4M830.6 349.4V375.7M810.4 375.7V402M816.3 402V428.3M846.8 428.3V454.6M752.7 454.6V481M755.4 481V507.3M815.9 507.3V533.6M847.6 533.6V559.9M769.6 559.9V586.2M858.6 586.2V612.6M808.4 612.6V638.9M755.9 638.9V665.2M884 665.2V691.5M877.2 691.5V717.8M826.7 717.8V744.2M861.7 744.2V750.6M1005.6 155.8V182.1M862.7 182.1V208.4M798.9 208.4V234.7M895.2 234.7V261.1M876.9 261.1V287.4M807 287.4V313.7M874.8 313.7V340M815.7 340V366.3M865.4 366.3V392.7M782.3 392.7V419M750.6 419V445.3M834.3 445.3V471.6M748.1 471.6V497.9M826.7 497.9V524.3M836.4 524.3V550.6M853 550.6V576.9M808.9 576.9V603.2M868.8 603.2V629.5M841.8 629.5V655.9M868.1 655.9V682.2M819.3 682.2V708.5M821.6 708.5V734.8M758.2 734.8V750.6M984.7 154.2V163M884.2 163V189.3M863 189.3V215.6M810 215.6V242M834.2 242V268.3M805.2 268.3V294.6M814.6 294.6V320.9M873.7 320.9V347.2M891.4 347.2V373.6M799.4 373.6V399.9M789.3 399.9V426.2M864.3 426.2V452.5M888.5 452.5V478.8M822.9 478.8V505.2M858.7 505.2V531.5M814.6 531.5V557.8M846.6 557.8V584.1M832.5 584.1V610.4M817.1 610.4V636.8M793.6 636.8V663.1M858.8 663.1V689.4M844.7 689.4V715.7M862.3 715.7V742M795.9 742V750.6M1026.5 154.2V158.2M967.4 158.2V184.5M924 184.5V210.9M778.2 210.9V237.2M823.1 237.2V263.5M803.8 263.5V289.8M850.1 289.8V316.1M814.1 316.1V342.5M822.3 342.5V368.8M849.6 368.8V395.1M861 395.1V421.4M834.5 421.4V447.7M819.3 447.7V474.1M780.6 474.1V500.4M805.2 500.4V526.7M799.6 526.7V553M832.5 553V579.3M768.9 579.3V605.7M839.9 605.7V632M761 632V658.3M803.7 658.3V684.6M798.4 684.6V710.9M768 710.9V737.3M857.6 737.3V750.6M1034 154.2V165.7M935.3 165.7V192M848.1 192V218.4M850.9 218.4V244.7M824.5 244.7V271M818.9 271V297.3M851.8 297.3V323.6M808.6 323.6V350M766.7 350V376.3M798.6 376.3V402.6M831.4 402.6V428.9M803 428.9V455.2M897.7 455.2V481.6M837.2 481.6V507.9M859.9 507.9V534.2M855.9 534.2V560.5M856.3 560.5V586.8M819 586.8V613.2M758.5 613.2V639.5M846.1 639.5V665.8M805 665.8V692.1M770.9 692.1V718.4M771.2 718.4V744.8M762.4 744.8V750.6M1028.4 154.2V162.5M984.8 162.5V188.8M886.2 188.8V215.1M828.2 215.1V241.5M858 241.5V267.8M781.3 267.8V294.1M794.5 294.1V320.4M885.7 320.4V346.7M819.9 346.7V373.1M803 373.1V399.4M853.2 399.4V425.7M774.8 425.7V452M745.1 452V478.3M784.3 478.3V504.7M792.2 504.7V531M867.5 531V557.3M807.4 557.3V583.6M809.9 583.6V609.9M832.3 609.9V636.3M815.2 636.3V662.6M817.4 662.6V688.9M802.3 688.9V715.2M776.5 715.2V741.5M751.2 741.5V750.6M847.5 154.2V164.4M884.8 164.4V190.7M895 190.7V217M912 217V243.4M857.7 243.4V269.7M804.2 269.7V296M795 296V322.3M804.5 322.3V348.6M783.5 348.6V375M875.3 375V401.3M846.6 401.3V427.6M798.5 427.6V453.9M829 453.9V480.2M793.3 480.2V506.6M836.6 506.6V532.9M844.5 532.9V559.2M863.1 559.2V585.5M867.1 585.5V611.8M799.5 611.8V638.2M816.8 638.2V664.5M809.6 664.5V690.8M789.2 690.8V717.1M839.8 717.1V743.4M759.3 743.4V750.6M1018 154.2V161.9M890.2 161.9V188.2M965.7 188.2V214.6M859.5 214.6V240.9M882 240.9V267.2M769.1 267.2V293.5M833.6 293.5V319.8M857.3 319.8V346.2M821.1 346.2V372.5M817.2 372.5V398.8M816.5 398.8V425.1M794.5 425.1V451.4M772.1 451.4V477.8M840 477.8V504.1M851.6 504.1V530.4M742.9 530.4V556.7M815.3 556.7V583M839.7 583V609.4M789.8 609.4V635.7M788.4 635.7V662M845.7 662V688.3M803.7 688.3V714.6M850.4 714.6V741M825.2 741V750.6M1045.4 154.2V164.9M1019.8 164.9V191.2M868 191.2V217.5M846.6 217.5V243.8M864 243.8V270.2M899.8 270.2V296.5M879.8 296.5V322.8M816.1 322.8V349.1M886.3 349.1V375.4M833.5 375.4V401.8M830.6 401.8V428.1M766.9 428.1V454.4M801.8 454.4V480.7M874.7 480.7V507M746.9 507V533.4M842.8 533.4V559.7M866.7 559.7V586M821.4 586V612.3M853 612.3V638.6M769.1 638.6V665M813.5 665V691.3M850 691.3V717.6M760.3 717.6V743.9M764.3 743.9V750.6M973.2 154.2V164.5M1028.5 164.5V190.8M964.2 190.8V217.1M779.6 217.1V243.4M877.4 243.4V269.8M879.1 269.8V296.1M903.5 296.1V322.4M768.4 322.4V348.7M775.4 348.7V375M846.3 375V401.4M857.4 401.4V427.7M764.4 427.7V454M833.2 454V480.3M850.4 480.3V506.6M833.6 506.6V533M821.2 533V559.3M843.2 559.3V585.6M794.5 585.6V611.9M848.6 611.9V638.2M868 638.2V664.6M783.9 664.6V690.9M806.5 690.9V717.2M784.8 717.2V743.5M857.8 743.5V750.6M1009.3 154.2V164.7M941.1 164.7V191M913.4 191V217.3M861.3 217.3V243.6M907.3 243.6V270M885.2 270V296.3M804.1 296.3V322.6M813.3 322.6V348.9M897 348.9V375.2M863.4 375.2V401.6M821.5 401.6V427.9M773.9 427.9V454.2M769.6 454.2V480.5M852.7 480.5V506.8M773.1 506.8V533.2M817.5 533.2V559.5M761.6 559.5V585.8M834.8 585.8V612.1M833.6 612.1V638.4M856.2 638.4V664.8M768.4 664.8V691.1M857.8 691.1V717.4M861.6 717.4V743.7M835.5 743.7V750.6M981.9 154.2V174.9M936 174.9V201.3M911.6 201.3V227.6M803 227.6V253.9M775.9 253.9V280.2M883.6 280.2V306.5M806.5 306.5V332.9M826.1 332.9V359.2M884.3 359.2V385.5M838.6 385.5V411.8M820.7 411.8V438.1M871.4 438.1V464.5M843.4 464.5V490.8M757.4 490.8V517.1M833.7 517.1V543.4M834.9 543.4V569.7M777.9 569.7V596.1M806.3 596.1V622.4M785.1 622.4V648.7M832.4 648.7V675M802.1 675V701.3M829.7 701.3V727.7M861.8 727.7V750.6M961.2 154.2V165.2M921.9 165.2V191.6M934.1 191.6V217.9M859.4 217.9V244.2M854.2 244.2V270.5M920.3 270.5V296.8M776.7 296.8V323.2M845.3 323.2V349.5M812.9 349.5V375.8M774.2 375.8V402.1M791.3 402.1V428.4M872.1 428.4V454.8M849 454.8V481.1M788.1 481.1V507.4M903.1 507.4V533.7M808.4 533.7V560M866.9 560V586.4M750.5 586.4V612.7M832.6 612.7V639M853.7 639V665.3M767.9 665.3V691.6M790.6 691.6V718M744.9 718V744.3M859.9 744.3V750.6M980 154.2V161.6M1017.3 161.6V187.9M987.9 187.9V214.2M817.7 214.2V240.5M782.3 240.5V266.8M840.4 266.8V293.2M840.5 293.2V319.5M837.5 319.5V345.8M824.7 345.8V372.1M819.7 372.1V398.4M805.5 398.4V424.8M859.6 424.8V451.1M840.2 451.1V477.4M829.2 477.4V503.7M852.5 503.7V530M891.7 530V556.4M812.2 556.4V582.7M768.3 582.7V609M861.2 609V635.3M852.9 635.3V661.6M840.6 661.6V688M761.9 688V714.3M759.4 714.3V740.6M843 740.6V750.6M975.5 154.2V161.3M1084 161.3V178.8M948.7 187.6V213.9M850 213.9V240.2M828.1 240.2V266.6M775.7 266.6V292.9M789.4 292.9V319.2M767.6 319.2V345.5M845.3 345.5V371.8M800.4 371.8V398.2M824.9 398.2V424.5M826.4 424.5V450.8M784 450.8V477.1M751.5 477.1V503.4M861.5 503.4V529.8M813.3 529.8V556.1M847.2 556.1V582.4M793.7 582.4V608.7M819.6 608.7V635M778.9 635V661.4M756.6 661.4V687.7M879.4 687.7V714M768.9 714V740.3M857.5 740.3V750.6M1000.4 154.2V180.2M860.1 180.2V206.5M972.8 206.5V232.8M748.1 232.8V259.1M902.1 259.1V285.4M876.2 285.4V311.8M850.1 311.8V338.1M804.7 338.1V364.4M834 364.4V390.7M796.8 390.7V417M788.8 417V443.4M811.6 443.4V469.7M754.7 469.7V496M827.1 496V522.3M797.6 522.3V548.6M804.2 548.6V575M816 575V601.3M787.7 601.3V627.6M855.2 627.6V653.9M781.9 653.9V680.2M813.7 680.2V706.6M787 706.6V732.9M775.8 732.9V750.6M928.5 154.2V166M847.5 166V192.3M867.8 192.3V218.6M814.1 218.6V244.9M871.7 244.9V271.2M878.4 271.2V297.6M859.9 297.6V323.9M858.6 323.9V350.2M889.7 350.2V376.5M893.9 376.5V402.8M866.6 402.8V429.2M783 429.2V455.5M808.4 455.5V481.8M795.1 481.8V508.1M830 508.1V534.4M772.2 534.4V560.8M865.5 560.8V587.1M814.2 587.1V613.4M801 613.4V639.7M800 639.7V666M821.2 666V692.4M769.6 692.4V718.7M751.2 718.7V745M770.8 745V750.6M984.2 154.2V162.6M936.3 162.6V188.9M963.2 188.9V215.2M803.8 215.2V241.6M762.1 241.6V267.9M799.1 267.9V294.2M771.3 294.2V320.5M866.9 320.5V346.8M808.3 346.8V373.2M879.4 373.2V399.5M818.3 399.5V425.8M859.2 425.8V452.1M859.4 452.1V478.4M806 478.4V504.8M838 504.8V531.1M802.4 531.1V557.4M824.9 557.4V583.7M841.9 583.7V610M863.5 610V636.4M795.8 636.4V662.7M749.1 662.7V689M792.6 689V715.3M822.1 715.3V741.6M749.4 741.6V750.6M939.4 154.2V161.3M952.1 161.3V187.6M828.7 187.6V213.9M898.5 213.9V240.2M901.6 240.2V266.6M758.1 266.6V292.9M798.3 292.9V319.2M867.5 319.2V345.5M773.8 345.5V371.8M768.8 371.8V398.2M770.1 398.2V424.5M807 424.5V450.8M876.8 450.8V477.1M777.6 477.1V503.4M850.9 503.4V529.8M813.1 529.8V556.1M848.1 556.1V582.4M815 582.4V608.7M836 608.7V635M760.6 635V661.4M868.2 661.4V687.7M746.1 687.7V714M754.3 714V740.3M807.1 740.3V750.6M1033.6 154.2V162.1M1013.5 162.1V188.4M923.5 188.4V214.7M864.3 214.7V241M841.1 241V267.3M853.3 267.3V293.7M802.7 293.7V320M929.7 320V346.3M842.8 346.3V372.6M771.1 372.6V398.9M786.6 398.9V425.3M779.5 425.3V451.6M860.8 451.6V477.9M846.9 477.9V504.2M863.6 504.2V530.5M811.7 530.5V556.9M853.4 556.9V583.2M863.3 583.2V609.5M744.3 609.5V635.8M811.9 635.8V662.1M852 662.1V688.5M831.9 688.5V714.8M783.2 714.8V741.1M764.5 741.1V750.6M906.5 154.2V166.2M999.8 166.2V192.6M927.8 192.6V218.9M805.1 218.9V245.2M861 245.2V271.5M810 271.5V297.8M783.4 297.8V324.2M855.9 324.2V350.5M781.5 350.5V376.8M874.4 376.8V403.1M859.9 403.1V429.4M839 429.4V455.8M786.5 455.8V482.1M831.4 482.1V508.4M823.1 508.4V534.7M824.1 534.7V561M838.9 561V587.4M870.8 587.4V613.7M872.5 613.7V640M769.5 640V666.3M856.5 666.3V692.6M858.2 692.6V719M819.8 719V745.3M851.8 745.3V750.6M993.5 154.2V170.6M1018.9 170.6V197M994 197V223.3M816.4 223.3V249.6M830.1 249.6V275.9M762.6 275.9V302.2M910.5 302.2V328.6M779.7 328.6V354.9M776.6 354.9V381.2M880.8 381.2V407.5M782.9 407.5V433.8M817.9 433.8V460.2M755.4 460.2V486.5M825.5 486.5V512.8M851.4 512.8V539.1M826.6 539.1V565.4M845.1 565.4V591.8M791 591.8V618.1M757.9 618.1V644.4M777.9 644.4V670.7M735.8 670.7V697M764.7 697V723.4M803.3 723.4V749.7M989.2 154.2V162.6M875.3 162.6V189M910 189V215.3M930 215.3V241.6M822.7 241.6V267.9M874.9 267.9V294.2M901.8 294.2V320.6M848.7 320.6V346.9M839.5 346.9V373.2M849.4 373.2V399.5M801.6 399.5V425.8M868.3 425.8V452.2M861.3 452.2V478.5M777 478.5V504.8M865 504.8V531.1M871.5 531.1V557.4M758.3 557.4V583.8M855.9 583.8V610.1M775.9 610.1V636.4M838.5 636.4V662.7M765.6 662.7V689M830.7 689V715.4M778.7 715.4V741.7M751.9 741.7V750.6M975.1 154.2V163.1M1073.4 163.1V188M974.5 189.4V215.8M834.9 215.8V242.1M864.8 242.1V268.4M819.4 268.4V294.7M869.7 294.7V321M833 321V347.4M829.4 347.4V373.7M844.6 373.7V400M813.2 400V426.3M776.6 426.3V452.6M807.1 452.6V479M819.7 479V505.3M866.3 505.3V531.6M862.6 531.6V557.9M772.6 557.9V584.2M843.7 584.2V610.6M828.6 610.6V636.9M859 636.9V663.2M852.5 663.2V689.5M809.9 689.5V715.8M850.6 715.8V742.2M758.8 742.2V750.6M1091.2 154.2V157.9M952.3 157.9V184.2M980.1 184.2V210.5M943.6 210.5V236.8M814.6 236.8V263.1M797.6 263.1V289.5M867.3 289.5V315.8M815.3 315.8V342.1M817.3 342.1V368.4M815.3 368.4V394.7M795.2 394.7V421.1M806.9 421.1V447.4M779.8 447.4V473.7M816.3 473.7V500M835 500V526.3M791.7 526.3V552.7M780.1 552.7V579M865.7 579V605.3M766.7 605.3V631.6M740.6 631.6V657.9M843.7 657.9V684.3M782.7 684.3V710.6M773.7 710.6V736.9M857.1 736.9V750.6M992.7 154.2V162.4M1015.9 162.4V188.7M896.1 188.7V215M789.5 215V241.4M887.6 241.4V267.7M809.5 267.7V294M836.1 294V320.3M879.6 320.3V346.6M814.4 346.6V373M794.2 373V399.3M825.9 399.3V425.6M849.8 425.6V451.9M739.2 451.9V478.2M783.5 478.2V504.6M862.9 504.6V530.9M872.9 530.9V557.2M847.5 557.2V583.5M792.5 583.5V609.8M839.5 609.8V636.2M838.8 636.2V662.5M850.2 662.5V688.8M825.4 688.8V715.1M778.5 715.1V741.4M750.4 741.4V750.6M1027.9 154.2V164.2M943.8 164.2V190.5M959.7 190.5V216.8M841.1 216.8V243.1M832.1 243.1V269.5M819.5 269.5V295.8M780.9 295.8V322.1M873.4 322.1V348.4M793.3 348.4V374.7M854.6 374.7V401.1M829.7 401.1V427.4M853.1 427.4V453.7M779.8 453.7V480M834.8 480V506.3M827.8 506.3V532.7M858.8 532.7V559M818.9 559V585.3M840.5 585.3V611.6M823.6 611.6V637.9M766 637.9V664.3M823.8 664.3V690.6M865.4 690.6V716.9M828.7 716.9V743.2M769.1 743.2V750.6M1041.2 154.2V166M943.4 166V192.4M935.4 192.4V218.7M782.3 218.7V245M795.4 245V271.3M831.1 271.3V297.6M774.7 297.6V324M788.9 324V350.3M763.4 350.3V376.6M829.8 376.6V402.9M827.5 402.9V429.2M803.9 429.2V455.6M844.4 455.6V481.9M794.5 481.9V508.2M854.1 508.2V534.5M868.2 534.5V560.8M872.8 560.8V587.2M800.1 587.2V613.5M827.3 613.5V639.8M858.3 639.8V666.1M831 666.1V692.4M785.4 692.4V718.8M858.3 718.8V745.1M781.8 745.1V750.6M920.2 154.2V173.7M862.1 173.7V200M922 200V226.3M912.7 226.3V252.7M798.5 252.7V279M809.3 279V305.3M885.3 305.3V331.6M799.2 331.6V357.9M817.9 357.9V384.3M860.4 384.3V410.6M814.3 410.6V436.9M874.8 436.9V463.2M853.2 463.2V489.5M850.2 489.5V515.9M765.9 515.9V542.2M800.1 542.2V568.5M877.5 568.5V594.8M821.9 594.8V621.1M846 621.1V647.5M860.2 647.5V673.8M824 673.8V700.1M810.2 700.1V726.4M789.4 726.4V750.6M880.1 154.2V165.8M1019.8 165.8V192.1M868.5 192.1V218.4M771.2 218.4V244.7M895.6 244.7V271.1M785.5 271.1V297.4M807.8 297.4V323.7M808.2 323.7V350M866.7 350V376.3M783.2 376.3V402.7M827 402.7V429M773.4 429V455.3M827.8 455.3V481.6M843.3 481.6V507.9M896 507.9V534.3M865 534.3V560.6M862.4 560.6V586.9M820.4 586.9V613.2M791.6 613.2V639.5M763.8 639.5V665.9M763.5 665.9V692.2M762.3 692.2V718.5M829.1 718.5V744.8M758.5 744.8V750.6M1029.5 154.2V164.4M1022.9 164.4V190.8M962.2 190.8V217.1M912.6 217.1V243.4M797.1 243.4V269.7M829.7 269.7V296M816.6 296V322.4M820.7 322.4V348.7M812.5 348.7V375M879.6 375V401.3M869 401.3V427.6M827.2 427.6V454M803.5 454V480.3M846.9 480.3V506.6M838.1 506.6V532.9M826.6 532.9V559.2M848.4 559.2V585.6M764.8 585.6V611.9M832.9 611.9V638.2M844.9 638.2V664.5M825.7 664.5V690.8M795.6 690.8V717.2M774.5 717.2V743.5M843.2 743.5V750.6M980.2 154.2V166.4M1007.8 166.4V192.7M967.1 192.7V219M877.8 219V245.3M820 245.3V271.6M810.8 271.6V298M823.7 298V324.3M810.3 324.3V350.6M782 350.6V376.9M896.8 376.9V403.2M829.2 403.2V429.6M748.1 429.6V455.9M870.8 455.9V482.2M809.2 482.2V508.5M790.2 508.5V534.8M816.5 534.8V561.2M804.9 561.2V587.5M798.7 587.5V613.8M834.8 613.8V640.1M842.6 640.1V666.4M778.1 666.4V692.8M749.9 692.8V719.1M861.2 719.1V745.4M823.7 745.4V750.6M1028.8 154.2V167.5M1018.8 167.5V193.8M884.7 193.8V220.1M893 220.1V246.4M860.9 246.4V272.7M820.2 272.7V299.1M910.8 299.1V325.4M893.7 325.4V351.7M779.9 351.7V378M887.3 378V404.3M873.8 404.3V430.7M869.7 430.7V457M893.3 457V483.3M800.4 483.3V509.6M852.7 509.6V535.9M867.5 535.9V562.3M799.8 562.3V588.6M860.9 588.6V614.9M828.4 614.9V641.2M789 641.2V667.5M747.9 667.5V693.9M812.9 693.9V720.2M835.1 720.2V746.5M784.7 746.5V750.6M973.5 154.2V161.8M1014 161.8V188.1M974.3 188.1V214.5M811.4 214.5V240.8M840.6 240.8V267.1M819.8 267.1V293.4M765.1 293.4V319.7M804.1 319.7V346.1M889.4 346.1V372.4M860.8 372.4V398.7M878.7 398.7V425M850.4 425V451.3M841.1 451.3V477.7M852.4 477.7V504M864.2 504V530.3M795 530.3V556.6M878.7 556.6V582.9M738.3 582.9V609.3M766.7 609.3V635.6M861.9 635.6V661.9M812.8 661.9V688.2M775.7 688.2V714.5M827.9 714.5V740.9M872.7 740.9V750.6M921.6 154.2V164.3M1020.1 164.3V190.6M911.4 190.6V216.9M818.5 216.9V243.2M862.3 243.2V269.6M788.5 269.6V295.9M783.2 295.9V322.2M880.2 322.2V348.5M849.6 348.5V374.8M792.7 374.8V401.2M847.9 401.2V427.5M851.3 427.5V453.8M828.6 453.8V480.1M743.6 480.1V506.4M869.5 506.4V532.8M772.5 532.8V559.1M849.5 559.1V585.4M778.7 585.4V611.7M831.7 611.7V638M862.7 638V664.4M832.5 664.4V690.7M808.8 690.7V717M748.3 717V743.3M752.3 743.3V750.6M903.3 154.2V159.2M926.6 159.2V185.6M962.3 185.6V211.9M819.6 211.9V238.2M902.6 238.2V264.5M843.8 264.5V290.8M818.6 290.8V317.2M847.4 317.2V343.5M903.6 343.5V369.8M915.2 369.8V396.1M856.2 396.1V422.4M806.6 422.4V448.8M766.5 448.8V475.1M833.9 475.1V501.4M838.1 501.4V527.7M867.6 527.7V554M876.5 554V580.4M763.9 580.4V606.7M874.4 606.7V633M760.2 633V659.3M866.9 659.3V685.6M808.8 685.6V712M838.3 712V738.3M784.9 738.3V750.6M927.1 155.4V181.7M894 181.7V208M894.8 208V234.4M875 234.4V260.7M833.1 260.7V287M874.4 287V313.3M811.5 313.3V339.6M853.9 339.6V366M870.4 366V392.3M775.7 392.3V418.6M787.1 418.6V444.9M816.1 444.9V471.2M781.4 471.2V497.6M878.2 497.6V523.9M796.3 523.9V550.2M821.7 550.2V576.5M738.9 576.5V602.8M747 602.8V629.2M860.7 629.2V655.5M847.5 655.5V681.8M872.9 681.8V708.1M849.3 708.1V734.4M830.6 734.4V750.6M1009.3 154.2V165.1M986.8 165.1V191.4M913 191.4V217.7M905.7 217.7V244M842.9 244V270.4M827.3 270.4V296.7M811.2 296.7V323M918.9 323V349.3M827.7 349.3V375.6M917.1 375.6V402M918 402V428.3M772.6 428.3V454.6M751 454.6V480.9M852.1 480.9V507.2M780 507.2V533.6M856.3 533.6V559.9M769.7 559.9V586.2M785.7 586.2V612.5M779.6 612.5V638.8M824.8 638.8V665.2M822.6 665.2V691.5M753.4 691.5V717.8M774.8 717.8V744.1M769.8 744.1V750.6M1043.7 154.2V163.5M1009.9 163.5V189.8M857.4 189.8V216.1M915 216.1V242.5M855.4 242.5V268.8M864 268.8V295.1M952.7 295.1V321.4M817 321.4V347.7M781 347.7V374.1M859.1 374.1V400.4M868.5 400.4V426.7M787.4 426.7V453M912.5 453V479.3M825.3 479.3V505.7M746.6 505.7V532M839.2 532V558.3M755.3 558.3V584.6M861.9 584.6V610.9M803.9 610.9V637.3M794.3 637.3V663.6M856.8 663.6V689.9M853.9 689.9V716.2M750.2 716.2V742.5M843.2 742.5V750.6M877.7 154.2V167M1014.4 167V193.4M971.2 193.4V219.7M869.3 219.7V246M881.8 246V272.3M910.1 272.3V298.6M813.5 298.6V325M865.1 325V351.3M827.1 351.3V377.6M884.8 377.6V403.9M874.9 403.9V430.2M842.4 430.2V456.6M819.5 456.6V482.9M829.3 482.9V509.2M844.4 509.2V535.5M734.3 535.5V561.8M776.7 561.8V588.2M796.2 588.2V614.5M724.2 614.5V640.8M770.5 640.8V667.1M796.1 667.1V693.4M800.5 693.4V719.8M795.7 719.8V746.1M817.1 746.1V750.6M1000.3 154.2V161.1M1031.7 161.1V187.4M963.2 187.4V213.7M805.9 213.7V240M905.5 240V266.3M875.4 266.3V292.7M862.5 292.7V319M853.7 319V345.3M815.8 345.3V371.6M766.2 371.6V397.9M780.6 397.9V424.3M864.2 424.3V450.6M801.8 450.6V476.9M778.2 476.9V503.2M849.8 503.2V529.5M861.6 529.5V555.9M866 555.9V582.2M858.8 582.2V608.5M776 608.5V634.8M869.7 634.8V661.1M759.1 661.1V687.5M846.7 687.5V713.8M816.8 713.8V740.1M750.8 740.1V750.6M1007.6 154.2V178.9M813.1 178.9V205.2M904.6 205.2V231.6M915 231.6V257.9M852.1 257.9V284.2M875.8 284.2V310.5M902.3 310.5V336.8M764.3 336.8V363.2M879.5 363.2V389.5M872.8 389.5V415.8M908.1 415.8V442.1M837.9 442.1V468.4M777.7 468.4V494.8M831.2 494.8V521.1M756.2 521.1V547.4M850.6 547.4V573.7M808.5 573.7V600M808.9 600V626.4M861.3 626.4V652.7M857.7 652.7V679M800 679V705.3M751.9 705.3V731.6M765.9 731.6V750.6M1048.7 154.2V164.9M1034.2 164.9V191.2M915 191.2V217.5M908.8 217.5V243.8M860 243.8V270.2M855.3 270.2V296.5M753.6 296.5V322.8M804.5 322.8V349.1M837.1 349.1V375.4M775.3 375.4V401.8M862.7 401.8V428.1M776 428.1V454.4M830.3 454.4V480.7M824.2 480.7V507M803 507V533.4M822 533.4V559.7M838.4 559.7V586M810.9 586V612.3M856.7 612.3V638.6M760.9 638.6V665M836.6 665V691.3M788.1 691.3V717.6M771.4 717.6V743.9M823.5 743.9V750.6M1036.5 154.2V160.3M1038.8 160.3V186.6M922.4 186.6V212.9M857.1 212.9V239.3M794.7 239.3V265.6M861.7 265.6V291.9M875.6 291.9V318.2M851.9 318.2V344.5M780.8 344.5V370.9M797.8 370.9V397.2M839.4 397.2V423.5M798.1 423.5V449.8M864.5 449.8V476.1M879.2 476.1V502.5M849.7 502.5V528.8M775.1 528.8V555.1M879 555.1V581.4M791.4 581.4V607.7M783.6 607.7V634.1M786.6 634.1V660.4M864.6 660.4V686.7M856 686.7V713M751.8 713V739.3M849.4 739.3V750.6M871.6 154.2V166.6M928.3 166.6V192.9M886.1 192.9V219.2M881.3 219.2V245.5M867.3 245.5V271.8M804 271.8V298.2M940.2 298.2V324.5M857.7 324.5V350.8M810.1 350.8V377.1M860 377.1V403.4M846.4 403.4V429.8M770.6 429.8V456.1M788 456.1V482.4M852.2 482.4V508.7M777 508.7V535M817.3 535V561.4M811.2 561.4V587.7M789.9 587.7V614M866.2 614V640.3M783.2 640.3V666.6M822.7 666.6V693M858.4 693V719.3M822.1 719.3V745.6M802.3 745.6V750.6M985.3 154.2V165.3M1044.9 165.3V191.6M921.4 191.6V217.9M819.7 217.9V244.2M839 244.2V270.6M800.7 270.6V296.9M918.3 296.9V323.2M861.7 323.2V349.5M800.4 349.5V375.8M778.9 375.8V402.2M823 402.2V428.5M813.5 428.5V454.8M800.7 454.8V481.1M752.9 481.1V507.4M861.3 507.4V533.8M853.1 533.8V560.1M763.2 560.1V586.4M742.6 586.4V612.7M801.9 612.7V639M880.2 639V665.4M857.4 665.4V691.7M776.4 691.7V718M862.2 718V744.3M749.5 744.3V750.6M991.6 154.2V165.1M928.4 165.1V191.4M866.7 191.4V217.8M848.2 217.8V244.1M871.5 244.1V270.4M782 270.4V296.7M908.2 296.7V323M849.6 323V349.4M808.4 349.4V375.7M792.9 375.7V402M782.8 402V428.3M826 428.3V454.6M853.8 454.6V481M877.6 481V507.3M848.5 507.3V533.6M789.3 533.6V559.9M802.5 559.9V586.2M776.4 586.2V612.6M798.7 612.6V638.9M802.4 638.9V665.2M825.6 665.2V691.5M838.6 691.5V717.8M772.2 717.8V744.2M860.7 744.2V750.6M1034.3 154.2V169.4M1018.5 169.4V195.7M971.1 195.7V222M816 222V248.3M902.5 248.3V274.7M894.5 274.7V301M785.3 301V327.3M809.3 327.3V353.6M836.5 353.6V379.9M865.6 379.9V406.3M826.9 406.3V432.6M846.8 432.6V458.9M794 458.9V485.2M863 485.2V511.5M751.8 511.5V537.9M867.4 537.9V564.2M823.1 564.2V590.5M861 590.5V616.8M798.4 616.8V643.1M835.7 643.1V669.5M790.2 669.5V695.8M860.4 695.8V722.1M809.5 722.1V748.4M828.4 748.4V750.6M995.5 154.2V162.2M931.6 162.2V188.5M959.6 188.5V214.8M847.8 214.8V241.1M782.1 241.1V267.5M785.9 267.5V293.8M829.1 293.8V320.1M875.8 320.1V346.4M799.1 346.4V372.7M869.8 372.7V399.1M817.4 399.1V425.4M766 425.4V451.7M800.3 451.7V478M800.6 478V504.3M818.7 504.3V530.7M842.1 530.7V557M787.5 557V583.3M844.5 583.3V609.6M853.4 609.6V635.9M818.5 635.9V662.3M795 662.3V688.6M752.6 688.6V714.9M846.4 714.9V741.2M858.6 741.2V750.6M971.1 154.2V161.9M1047.4 161.9V188.3M929.6 188.3V214.6M864.8 214.6V240.9M918.4 240.9V267.2M887 267.2V293.5M807.2 293.5V319.9M845.8 319.9V346.2M821.3 346.2V372.5M790.4 372.5V398.8M893.6 398.8V425.1M759.8 425.1V451.5M769.9 451.5V477.8M875.3 477.8V504.1M787.9 504.1V530.4M817.7 530.4V556.7M860.4 556.7V583.1M799.9 583.1V609.4M761.4 609.4V635.7M823.5 635.7V662M831 662V688.3M803.7 688.3V714.7M810.7 714.7V741M810.7 741V750.6M955.5 154.2V163.3M966.2 163.3V189.6M840.1 189.6V216M930.8 216V242.3M765.5 242.3V268.6M902.1 268.6V294.9M775.7 294.9V321.2M868 321.2V347.6M900.5 347.6V373.9M804.3 373.9V400.2M851.4 400.2V426.5M745.9 426.5V452.8M851.1 452.8V479.2M772.9 479.2V505.5M784 505.5V531.8M768.7 531.8V558.1M801.1 558.1V584.4M772.8 584.4V610.8M783 610.8V637.1M859.9 637.1V663.4M857.9 663.4V689.7M783.3 689.7V716M764.9 716V742.4M862.8 742.4V750.6M900.8 154.2V165.3M1009.5 165.3V191.6M886.9 191.6V217.9M784.3 217.9V244.3M836.9 244.3V270.6M883 270.6V296.9M885.4 296.9V323.2M815.4 323.2V349.5M829.5 349.5V375.9M779.8 375.9V402.2M822.7 402.2V428.5M824.4 428.5V454.8M865.2 454.8V481.1M786.3 481.1V507.5M850.3 507.5V533.8M851.8 533.8V560.1M791.2 560.1V586.4M838.8 586.4V612.7M812.4 612.7V639.1M852.1 639.1V665.4M794.3 665.4V691.7M756.4 691.7V718M816 718V744.3M789.1 744.3V750.6M993.5 154.2V159.8M976.3 159.8V186.2M934.8 186.2V212.5M827.1 212.5V238.8M883.1 238.8V265.1M841.4 265.1V291.4M825.7 291.4V317.8M868.4 317.8V344.1M799.3 344.1V370.4M827 370.4V396.7M760.9 396.7V423M765.3 423V449.4M808.5 449.4V475.7M787.9 475.7V502M850 502V528.3M845.5 528.3V554.6M821.2 554.6V581M782.6 581V607.3M810.7 607.3V633.6M854 633.6V659.9M851.7 659.9V686.2M832.5 686.2V712.6M846.5 712.6V738.9M836.9 738.9V750.6M1034.3 154.2V166.2M991.4 166.2V192.5M879.3 192.5V218.8M938 218.8V245.1M826.9 245.1V271.5M812.7 271.5V297.8M867.9 297.8V324.1M811.8 324.1V350.4M861.4 350.4V376.7M792.7 376.7V403.1M892.8 403.1V429.4M800.5 429.4V455.7M769.3 455.7V482M895 482V508.3M831.3 508.3V534.7M874.8 534.7V561M848.3 561V587.3M869.3 587.3V613.6M834.4 613.6V639.9M790.3 639.9V666.3M858.8 666.3V692.6M799.8 692.6V718.9M814.9 718.9V745.2M754.4 745.2V750.6M940.2 154.2V161.7M1039.2 161.7V188M835.2 188V214.3M826.8 214.3V240.6M848.4 240.6V267M871.1 267V293.3M781.2 293.3V319.6M897.8 319.6V345.9M782.8 345.9V372.2M836.2 372.2V398.6M792.7 398.6V424.9M791.9 424.9V451.2M814.8 451.2V477.5M815.6 477.5V503.8M863.3 503.8V530.2M776.5 530.2V556.5M840.7 556.5V582.8M824.6 582.8V609.1M801 609.1V635.4M862.5 635.4V661.8M788.2 661.8V688.1M827.6 688.1V714.4M859.3 714.4V740.7M813.2 740.7V750.6M983.9 154.2V173.6M932.6 173.6V200M862.2 200V226.3M900 226.3V252.6M744.8 252.6V278.9M843.1 278.9V305.2M801.6 305.2V331.6M843.7 331.6V357.9M855.8 357.9V384.2M804.6 384.2V410.5M873.6 410.5V436.8M893.8 436.8V463.2M764.4 463.2V489.5M851.3 489.5V515.8M787 515.8V542.1M805.6 542.1V568.4M806.7 568.4V594.8M826 594.8V621.1M856.2 621.1V647.4M744 647.4V673.7M858.6 673.7V700M856.7 700V726.4M826.4 726.4V750.6M983.8 154.2V164.3M928.6 164.3V190.6M920 190.6V217M940 217V243.3M852.4 243.3V269.6M898.6 269.6V295.9M943.4 295.9V322.2M861.5 322.2V348.6M831.8 348.6V374.9M815.1 374.9V401.2M808.5 401.2V427.5M845.2 427.5V453.8M776.2 453.8V480.2M824.3 480.2V506.5M852.9 506.5V532.8M836.7 532.8V559.1M805.5 559.1V585.4M841.6 585.4V611.8M786.5 611.8V638.1M773.9 638.1V664.4M870.2 664.4V690.7M749.6 690.7V717M795.4 717V743.4M792.3 743.4V750.6M918.8 154.2V176.4M842.7 176.4V202.7M820.6 202.7V229M861 229V255.4M873 255.4V281.7M898.2 281.7V308M869.8 308V334.3M809.9 334.3V360.6M831.4 360.6V387M837 387V413.3M867.7 413.3V439.6M850.3 439.6V465.9M852.3 465.9V492.2M789.9 492.2V518.6M870.5 518.6V544.9M796.7 544.9V571.2M829.2 571.2V597.5M805.6 597.5V623.8M858.1 623.8V650.2M799.6 650.2V676.5M864.9 676.5V702.8M783.1 702.8V729.1M751 729.1V750.6M970.3 154.2V161.2M1022 161.2V187.5M842.6 187.5V213.8M928.5 213.8V240.2M881.9 240.2V266.5M937.7 266.5V292.8M813.4 292.8V319.1M781.3 319.1V345.4M822.6 345.4V371.8M808.4 371.8V398.1M865.4 398.1V424.4M804.1 424.4V450.7M819.3 450.7V477M782.1 477V503.4M774.8 503.4V529.7M869.3 529.7V556M793.7 556V582.3M811.4 582.3V608.6M823.7 608.6V635M841.2 635V661.3M756.1 661.3V687.6M756 687.6V713.9M788.2 713.9V740.2M784.4 740.2V750.6M960.7 154.2V162.8M1002.9 162.8V189.1M829.3 189.1V215.4M873.9 215.4V241.8M816.9 241.8V268.1M880.1 268.1V294.4M850.4 294.4V320.7M906.1 320.7V347M826.6 347V373.4M865 373.4V399.7M762.4 399.7V426M776.8 426V452.3M804.4 452.3V478.6M849.6 478.6V505M850.1 505V531.3M859.6 531.3V557.6M783.2 557.6V583.9M775 583.9V610.2M794.6 610.2V636.6M778.8 636.6V662.9M794.7 662.9V689.2M832.5 689.2V715.5M777.1 715.5V741.8M829.6 741.8V750.6M926.3 154.2V172.7M968.1 172.7V199M900.2 199V225.3M802.3 225.3V251.6M879.1 251.6V277.9M791.2 277.9V304.3M735.8 304.3V330.6M777.9 330.6V356.9M801.9 356.9V383.2M783.2 383.2V409.5M768 409.5V435.9M864.7 435.9V462.2M836.6 462.2V488.5M767.1 488.5V514.8M843 514.8V541.1M811.9 541.1V567.5M788.5 567.5V593.8M807.7 593.8V620.1M836.7 620.1V646.4M832.3 646.4V672.7M775.6 672.7V699.1M819.1 699.1V725.4M809.6 725.4V750.6M901.5 154.2V166.1M894.5 166.1V192.4M838.2 192.4V218.8M791.4 218.8V245.1M816 245.1V271.4M846.8 271.4V297.7M811.3 297.7V324M853.8 324V350.4M800.2 350.4V376.7M838.4 376.7V403M790.6 403V429.3M817.7 429.3V455.6M860.5 455.6V482M882 482V508.3M834.1 508.3V534.6M827.7 534.6V560.9M812.1 560.9V587.2M837.1 587.2V613.6M846.6 613.6V639.9M836.1 639.9V666.2M826.1 666.2V692.5M787.7 692.5V718.8M861 718.8V745.2M780.6 745.2V750.6M1041.8 154.2V158M1035.3 158V184.3M942.9 184.3V210.6M835.5 210.6V237M897 237V263.3M812 263.3V289.6M786.7 289.6V315.9M856.7 315.9V342.2M793.8 342.2V368.6M789.4 368.6V394.9M839.6 394.9V421.2M896.2 421.2V447.5M876 447.5V473.8M851.8 473.8V500.2M750.6 500.2V526.5M845.9 526.5V552.8M852.2 552.8V579.1M841.8 579.1V605.4M788.5 605.4V631.8M782.7 631.8V658.1M817.7 658.1V684.4M786.5 684.4V710.7M819.7 710.7V737M823.8 737V750.6M1002.2 155.2V181.5M860.1 181.5V207.8M880 207.8V234.1M813 234.1V260.4M771.8 260.4V286.8M854.4 286.8V313.1M839.3 313.1V339.4M859.9 339.4V365.7M743.3 365.7V392M781.2 392V418.4M762.8 418.4V444.7M905.1 444.7V471M781.4 471V497.3M798.9 497.3V523.6M803.2 523.6V550M757.7 550V576.3M779.7 576.3V602.6M777.7 602.6V628.9M802 628.9V655.2M763.5 655.2V681.6M857.7 681.6V707.9M756.5 707.9V734.2M803.6 734.2V750.6M1036.9 154.2V164M910.9 164V190.3M912.3 190.3V216.6M800.9 216.6V242.9M848.9 242.9V269.3M865.2 269.3V295.6M810.3 295.6V321.9M828.8 321.9V348.2M792.1 348.2V374.5M786 374.5V400.9M824.8 400.9V427.2M815.6 427.2V453.5M893.7 453.5V479.8M861.8 479.8V506.1M794.2 506.1V532.5M812.5 532.5V558.8M794 558.8V585.1M757.6 585.1V611.4M807 611.4V637.7M830.2 637.7V664.1M751.5 664.1V690.4M803.8 690.4V716.7M803.8 716.7V743M829.8 743V750.6M963.6 154.2V175.8M942.2 175.8V202.2M857 202.2V228.5M821.9 228.5V254.8M858.9 254.8V281.1M884.9 281.1V307.4M796.1 307.4V333.8M787.5 333.8V360.1M801.9 360.1V386.4M847.1 386.4V412.7M831.4 412.7V439M875.3 439V465.4M855.2 465.4V491.7M820.1 491.7V518M832.9 518V544.3M840.7 544.3V570.6M776.8 570.6V597M810.3 597V623.3M858.8 623.3V649.6M843.4 649.6V675.9M852.7 675.9V702.2M749.5 702.2V728.6M759.9 728.6V750.6M973.6 154.2V161.9M986.9 161.9V188.3M936.4 188.3V214.6M801.6 214.6V240.9M854.3 240.9V267.2M923.5 267.2V293.5M908.6 293.5V319.9M788.4 319.9V346.2M921.4 346.2V372.5M861.4 372.5V398.8M857.2 398.8V425.1M895.1 425.1V451.5M788 451.5V477.8M831.6 477.8V504.1M825 504.1V530.4M774.4 530.4V556.7M800.1 556.7V583.1M778.2 583.1V609.4M876.3 609.4V635.7M806.4 635.7V662M825.7 662V688.3M852.6 688.3V714.7M783.1 714.7V741M840 741V750.6M893.2 154.2V164.8M984.4 164.8V191.1M827.4 191.1V217.4M874 217.4V243.7M852 243.7V270M828.9 270V296.4M895.8 296.4V322.7M866.5 322.7V349M876.4 349V375.3M847.1 375.3V401.6M775.1 401.6V428M819.6 428V454.3M835.1 454.3V480.6M844.5 480.6V506.9M801.9 506.9V533.2M849.6 533.2V559.6M881.9 559.6V585.9M810 585.9V612.2M790.8 612.2V638.5M860.3 638.5V664.8M834.7 664.8V691.2M828.8 691.2V717.5M769.5 717.5V743.8M796.3 743.8V750.6M1035.1 154.2V162.8M985.2 162.8V189.1M929.3 189.1V215.4M882.7 215.4V241.8M835 241.8V268.1M822 268.1V294.4M783.3 294.4V320.7M859.5 320.7V347M765.6 347V373.4M785.1 373.4V399.7M863.8 399.7V426M831.4 426V452.3M851.5 452.3V478.6M780.8 478.6V505M832 505V531.3M830.5 531.3V557.6M824 557.6V583.9M792.5 583.9V610.2M816.9 610.2V636.6M811.2 636.6V662.9M880.3 662.9V689.2M816.6 689.2V715.5M781.9 715.5V741.8M781.9 741.8V750.6M926.1 154.2V158.8M1001.3 158.8V185.1M877.3 185.1V211.4M888.4 211.4V237.7M879.8 237.7V264.1M897.6 264.1V290.4M825.7 290.4V316.7M896.5 316.7V343M845.8 343V369.3M823.5 369.3V395.7M831.5 395.7V422M795.2 422V448.3M752.1 448.3V474.6M760.1 474.6V500.9M768.3 500.9V527.3M862 527.3V553.6M840.5 553.6V579.9M809.6 579.9V606.2M834.6 606.2V632.5M803.6 632.5V658.9M860.7 658.9V685.2M846.4 685.2V711.5M853.4 711.5V737.8M841.4 737.8V750.6M1015.1 154.2V175.4M971.9 175.4V201.7M797.8 201.7V228.1M859 228.1V254.4M837.7 254.4V280.7M793 280.7V307M812.1 307V333.3M867.8 333.3V359.7M827 359.7V386M818.9 386V412.3M887.8 412.3V438.6M809.7 438.6V464.9M777.2 464.9V491.3M792 491.3V517.6M836.4 517.6V543.9M782.5 543.9V570.2M844.3 570.2V596.5M772.6 596.5V622.9M849.1 622.9V649.2M790.3 649.2V675.5M752.6 675.5V701.8M855.2 701.8V728.1M838.1 728.1V750.6M897.2 154.2V157.1M1005 157.1V183.4M969.3 183.4V209.7M786.1 209.7V236.1M891.1 236.1V262.4M848.3 262.4V288.7M885.3 288.7V315M821.5 315V341.3M770.9 341.3V367.7M873.2 367.7V394M883.2 394V420.3M852.2 420.3V446.6M841 446.6V472.9M814.1 472.9V499.3M855.1 499.3V525.6M861.8 525.6V551.9M838.9 551.9V578.2M869.8 578.2V604.5M811.6 604.5V630.9M857.6 630.9V657.2M832.6 657.2V683.5M757.8 683.5V709.8M847.6 709.8V736.1M863.1 736.1V750.6M1089 154.2V166.5M1023.4 166.5V192.8M866.6 192.8V219.2M889.1 219.2V245.5M900.9 245.5V271.8M822.4 271.8V298.1M882.9 298.1V324.4M865.3 324.4V350.8M877.1 350.8V377.1M868.7 377.1V403.4M843 403.4V429.7M821.1 429.7V456M784.6 456V482.4M763.6 482.4V508.7M785.4 508.7V535M801.4 535V561.3M788.2 561.3V587.6M799.8 587.6V614M764 614V640.3M805.5 640.3V666.6M765 666.6V692.9M783.7 692.9V719.2M752.8 719.2V745.6M849.9 745.6V750.6M1036.1 154.2V165.1M981.8 165.1V191.4M972.4 191.4V217.8M834 217.8V244.1M888.8 244.1V270.4M847 270.4V296.7M810.2 296.7V323M785.4 323V349.4M782.9 349.4V375.7M881 375.7V402M885.9 402V428.3M754.7 428.3V454.6M832.4 454.6V481M823.9 481V507.3M863.6 507.3V533.6M829.8 533.6V559.9M804.3 559.9V586.2M810.3 586.2V612.6M856.5 612.6V638.9M818.8 638.9V665.2M812.3 665.2V691.5M789.8 691.5V717.8M771.9 717.8V744.2M785.2 744.2V750.6M996 154.2V171.3M1044.7 171.3V197.6M838.6 197.6V224M823.7 224V250.3M845 250.3V276.6M834.2 276.6V302.9M815.6 302.9V329.2M857.4 329.2V355.6M774.2 355.6V381.9M862.5 381.9V408.2M841.4 408.2V434.5M813.9 434.5V460.8M829.1 460.8V487.2M831.4 487.2V513.5M762 513.5V539.8M791.5 539.8V566.1M855.5 566.1V592.4M758.2 592.4V618.8M782.8 618.8V645.1M763.9 645.1V671.4M860.4 671.4V697.7M780.5 697.7V724M770.4 724V750.4M1012.1 154.2V158.3M973.7 158.3V184.6M817.8 184.6V211M821.4 211V237.3M954.4 237.3V263.6M872.9 263.6V289.9M843.5 289.9V316.2M874.7 316.2V342.6M782.8 342.6V368.9M792.8 368.9V395.2M839.5 395.2V421.5M825.6 421.5V447.8M871.7 447.8V474.2M787.6 474.2V500.5M753.5 500.5V526.8M837.2 526.8V553.1M790.9 553.1V579.4M846.5 579.4V605.8M758.8 605.8V632.1M875.3 632.1V658.4M857.4 658.4V684.7M807.5 684.7V711M826.4 711V737.4M752.8 737.4V750.6M1036.2 154.2V164.9M902.1 164.9V191.2M812.1 191.2V217.5M784.6 217.5V243.8M907.1 243.8V270.2M823.6 270.2V296.5M803.3 296.5V322.8M807.8 322.8V349.1M793.4 349.1V375.4M877.6 375.4V401.8M893.6 401.8V428.1M858.7 428.1V454.4M874.1 454.4V480.7M817.5 480.7V507M736.2 507V533.4M776.4 533.4V559.7M865.7 559.7V586M842.7 586V612.3M848.1 612.3V638.6M766.3 638.6V665M813.3 665V691.3M842.7 691.3V717.6M748.6 717.6V743.9M823.8 743.9V750.6M1010.7 154.2V164.2M979.8 164.2V190.5M931.2 190.5V216.8M898.7 216.8V243.1M888 243.1V269.4M826.3 269.4V295.8M883.3 295.8V322.1M880.2 322.1V348.4M847.3 348.4V374.7M826.9 374.7V401M904.8 401V427.4M770.4 427.4V453.7M811.1 453.7V480M897.8 480V506.3M795.1 506.3V532.6M777.2 532.6V559M830.1 559V585.3M794.1 585.3V611.6M785.3 611.6V637.9M821.6 637.9V664.2M811.9 664.2V690.6M840.2 690.6V716.9M860.4 716.9V743.2M826.6 743.2V750.6M983.6 154.2V164.7M1021.3 164.7V191.1M932.5 191.1V217.4M828.4 217.4V243.7M927.3 243.7V270M848.6 270V296.3M900.1 296.3V322.7M903.7 322.7V349M851.2 349V375.3M783.6 375.3V401.6M768 401.6V427.9M756 427.9V454.3M780.3 454.3V480.6M887.1 480.6V506.9M814.6 506.9V533.2M822.3 533.2V559.5M820.9 559.5V585.9M849.9 585.9V612.2M771.4 612.2V638.5M796.3 638.5V664.8M860.4 664.8V691.1M861.8 691.1V717.5M856.8 717.5V743.8M770.3 743.8V750.6M1007.4 154.2V167.8M890.5 167.8V194.1M935.5 194.1V220.4M863.5 220.4V246.7M927.9 246.7V273.1M940.3 273.1V299.4M911.1 299.4V325.7M873.7 325.7V352M812.3 352V378.3M871.9 378.3V404.7M822 404.7V431M828.3 431V457.3M779.4 457.3V483.6M880.4 483.6V509.9M840.5 509.9V536.3M824.9 536.3V562.6M870.7 562.6V588.9M831.3 588.9V615.2M859.7 615.2V641.5M858.8 641.5V667.9M861.2 667.9V694.2M820.2 694.2V720.5M799.7 720.5V746.8M806.4 746.8V750.6M1033.6 154.2V161.6M907 161.6V187.9M936.1 187.9V214.2M952.4 214.2V240.6M831.5 240.6V266.9M841 266.9V293.2M774.1 293.2V319.5M842.2 319.5V345.8M832.4 345.8V372.2M782.6 372.2V398.5M788.5 398.5V424.8M880.4 424.8V451.1M749.8 451.1V477.4M790 477.4V503.8M743.4 503.8V530.1M769.8 530.1V556.4M849.7 556.4V582.7M874 582.7V609M862 609V635.4M793.5 635.4V661.7M750.7 661.7V688M787.2 688V714.3M844.6 714.3V740.6M747.4 740.6V750.6M970.7 154.2V163M891.1 163V189.3M902.9 189.3V215.6M872.1 215.6V242M815.9 242V268.3M813.9 268.3V294.6M778.6 294.6V320.9M804.2 320.9V347.2M839.1 347.2V373.6M787.2 373.6V399.9M766.7 399.9V426.2M894.5 426.2V452.5M821.1 452.5V478.8M834.9 478.8V505.2M819.6 505.2V531.5M805.3 531.5V557.8M855.8 557.8V584.1M823.6 584.1V610.4M740.8 610.4V636.8M864.5 636.8V663.1M804.5 663.1V689.4M839.1 689.4V715.7M857 715.7V742M860.6 742V750.6M966.6 154.2V164.3M1034.6 164.3V190.6M909.7 190.6V216.9M847.7 216.9V243.3M846.5 243.3V269.6M818.4 269.6V295.9M798.6 295.9V322.2M791.2 322.2V348.5M821.6 348.5V374.9M799.4 374.9V401.2M834.1 401.2V427.5M764.7 427.5V453.8M837.5 453.8V480.1M827.6 480.1V506.5M766.5 506.5V532.8M838.7 532.8V559.1M785.8 559.1V585.4M824.8 585.4V611.7M800.6 611.7V638.1M848.6 638.1V664.4M862.8 664.4V690.7M841 690.7V717M863.6 717V743.3M856.5 743.3V750.6M1047.5 154.2V176.3M902.9 176.3V202.6M883.8 202.6V228.9M959.2 228.9V255.3M902.2 255.3V281.6M920.9 281.6V307.9M912.1 307.9V334.2M874.5 334.2V360.5M849.6 360.5V386.9M772 386.9V413.2M771.9 413.2V439.5M813.6 439.5V465.8M765.8 465.8V492.1M785.8 492.1V518.5M789.4 518.5V544.8M800.3 544.8V571.1M766.9 571.1V597.4M778.2 597.4V623.7M867.6 623.7V650.1M761 650.1V676.4M755 676.4V702.7M770.9 702.7V729M777.7 729V750.6M944.9 154.2V166.7M1012.9 166.7V193M965.5 193V219.3M852.3 219.3V245.6M816.9 245.6V272M828.5 272V298.3M823.7 298.3V324.6M914.4 324.6V350.9M863.5 350.9V377.2M862.9 377.2V403.6M778.7 403.6V429.9M811.6 429.9V456.2M846.5 456.2V482.5M851.1 482.5V508.8M868 508.8V535.2M846.4 535.2V561.5M855.5 561.5V587.8M869.7 587.8V614.1M784.3 614.1V640.4M840.7 640.4V666.8M825.3 666.8V693.1M790.6 693.1V719.4M795.6 719.4V745.7M787.6 745.7V750.6M971 154.2V164.7M889 164.7V191M967.4 191V217.3M888 217.3V243.6M771.8 243.6V270M817.3 270V296.3M850.8 296.3V322.6M856.9 322.6V348.9M792.9 348.9V375.2M823.3 375.2V401.6M892.9 401.6V427.9M808.4 427.9V454.2M860.5 454.2V480.5M867.9 480.5V506.8M868.1 506.8V533.2M744.1 533.2V559.5M843 559.5V585.8M840.5 585.8V612.1M784.8 612.1V638.4M805 638.4V664.8M742.9 664.8V691.1M751.6 691.1V717.4M756.9 717.4V743.7M858 743.7V750.6M1033.5 154.2V161.3M947.7 161.3V187.6M980.3 187.6V213.9M904.5 213.9V240.3M913.2 240.3V266.6M804.7 266.6V292.9M797.3 292.9V319.2M838.5 319.2V345.5M879.5 345.5V371.9M824 371.9V398.2M860.5 398.2V424.5M865.7 424.5V450.8M790.1 450.8V477.1M892.6 477.1V503.5M768.5 503.5V529.8M804.4 529.8V556.1M785.7 556.1V582.4M842.3 582.4V608.7M799.8 608.7V635.1M866.6 635.1V661.4M856.9 661.4V687.7M804.4 687.7V714M860 714V740.3M750.2 740.3V750.6M982.9 154.2V177.6M931.2 177.6V203.9M879.8 203.9V230.2M864.7 230.2V256.5M873 256.5V282.8M788.5 282.8V309.2M839.7 309.2V335.5M777.3 335.5V361.8M837.3 361.8V388.1M804.1 388.1V414.4M845.3 414.4V440.8M812.5 440.8V467.1M816 467.1V493.4M828.3 493.4V519.7M825.3 519.7V546M866.1 546V572.4M858.7 572.4V598.7M847.9 598.7V625M795.8 625V651.3M806.6 651.3V677.6M835.5 677.6V704M859.4 704V730.3M744.1 730.3V750.6M1005.7 154.2V166.2M915.7 166.2V192.6M920.6 192.6V218.9M863.5 218.9V245.2M859.6 245.2V271.5M873 271.5V297.8M801.4 297.8V324.2M808.7 324.2V350.5M862.2 350.5V376.8M882.2 376.8V403.1M792.5 403.1V429.4M821 429.4V455.8M787.8 455.8V482.1M784.9 482.1V508.4M771.9 508.4V534.7M820.7 534.7V561M764.7 561V587.4M851.7 587.4V613.7M824.3 613.7V640M830.4 640V666.3M790.3 666.3V692.6M774.8 692.6V719M866.4 719V745.3M858.3 745.3V750.6M902.4 154.2V165.3M1018.6 165.3V191.6M853.4 191.6V218M879.8 218V244.3M839.5 244.3V270.6M856.4 270.6V296.9M854.7 296.9V323.2M828.6 323.2V349.6M898.9 349.6V375.9M843.1 375.9V402.2M806.7 402.2V428.5M771.2 428.5V454.8M777 454.8V481.2M826.6 481.2V507.5M808.7 507.5V533.8M783.2 533.8V560.1M829.7 560.1V586.4M839.5 586.4V612.8M824.8 612.8V639.1M768.7 639.1V665.4M787.1 665.4V691.7M754.1 691.7V718M754.8 718V744.4M754.9 744.4V750.6M1057 154.2V167.3M1021.1 167.3V193.6M964.1 193.6V220M870.7 220V246.3M794.9 246.3V272.6M839.7 272.6V298.9M818.5 298.9V325.2M777.6 325.2V351.6M805.7 351.6V377.9M851.3 377.9V404.2M827.6 404.2V430.5M774.6 430.5V456.8M894.1 456.8V483.2M782.5 483.2V509.5M767.7 509.5V535.8M802.9 535.8V562.1M816 562.1V588.4M832.5 588.4V614.8M869 614.8V641.1M777.1 641.1V667.4M776.7 667.4V693.7M824.2 693.7V720M824.5 720V746.4M793.8 746.4V750.6M991.9 154.2V161.5M900.2 161.5V187.8M837 187.8V214.1M836 214.1V240.4M878 240.4V266.7M824 266.7V293.1M870.5 293.1V319.4M813.3 319.4V345.7M873.2 345.7V372M872.9 372V398.3M771.3 398.3V424.7M798.4 424.7V451M774.9 451V477.3M836.4 477.3V503.6M767.1 503.6V529.9M874 529.9V556.3M794.4 556.3V582.6M801 582.6V608.9M788.1 608.9V635.2M740.2 635.2V661.5M782.4 661.5V687.9M795.5 687.9V714.2M858.6 714.2V740.5M809.2 740.5V750.6M1000.9 154.2V163.8M914.9 163.8V190.1M917.3 190.1V216.4M911.9 216.4V242.7M828.4 242.7V269.1M863 269.1V295.4M908.6 295.4V321.7M829.1 321.7V348M807.9 348V374.3M832.5 374.3V400.7M800 400.7V427M884.9 427V453.3M767.6 453.3V479.6M876.8 479.6V505.9M801.9 505.9V532.3M860 532.3V558.6M775.2 558.6V584.9M857.1 584.9V611.2M859.4 611.2V637.5M858.3 637.5V663.9M757.1 663.9V690.2M749.1 690.2V716.5M845.1 716.5V742.8M857 742.8V750.6M1011.1 154.2V174.8M929.1 174.8V201.1M847.3 201.1V227.4M841.5 227.4V253.7M859.3 253.7V280M823.1 280V306.4M822.2 306.4V332.7M880.2 332.7V359M839.3 359V385.3M851.7 385.3V411.6M799.7 411.6V438M796.1 438V464.3M772.3 464.3V490.6M765.5 490.6V516.9M777.2 516.9V543.2M758 543.2V569.6M763.8 569.6V595.9M763.5 595.9V622.2M858.5 622.2V648.5M881 648.5V674.8M749.8 674.8V701.2M759.3 701.2V727.5M859.1 727.5V750.6M895.2 154.2V156.5M1029.3 156.5V182.8M938 182.8V209.1M890.6 209.1V235.4M871.5 235.4V261.7M920.1 261.7V288.1M768.2 288.1V314.4M809.7 314.4V340.7M845.3 340.7V367M864.6 367V393.3M816.7 393.3V419.7M795.3 419.7V446M822.3 446V472.3M841.7 472.3V498.6M796.8 498.6V524.9M813.1 524.9V551.3M789.3 551.3V577.6M828.5 577.6V603.9M830.4 603.9V630.2M770.8 630.2V656.5M753 656.5V682.9M862.7 682.9V709.2M781.8 709.2V735.5M847.9 735.5V750.6M859.3 154.2V180.1M893.4 180.1V206.4M857.6 206.4V232.7M865.2 232.7V259M799.8 259V285.4M865.7 285.4V311.7M797.3 311.7V338M887.2 338V364.3M781.2 364.3V390.6M870.5 390.6V417M798.3 417V443.3M784 443.3V469.6M780.3 469.6V495.9M850.2 495.9V522.2M801.5 522.2V548.6M860.7 548.6V574.9M802.7 574.9V601.2M812.9 601.2V627.5M835.4 627.5V653.8M876 653.8V680.2M754.1 680.2V706.5M838 706.5V732.8M843 732.8V750.6M1026.9 154.2V166M964.4 166V192.3M934.7 192.3V218.7M830.8 218.7V245M827.9 245V271.3M795.5 271.3V297.6M815 297.6V323.9M842.1 323.9V350.3M783.8 350.3V376.6M839.7 376.6V402.9M784.2 402.9V429.2M843.2 429.2V455.5M771.2 455.5V481.9M866.2 481.9V508.2M857.7 508.2V534.5M786.8 534.5V560.8M754.4 560.8V587.1M873 587.1V613.5M763.5 613.5V639.8M767.4 639.8V666.1M820.3 666.1V692.4M828.8 692.4V718.7M784 718.7V745.1M756.9 745.1V750.6M1048.5 154.2V175.2M892 175.2V201.5M824.3 201.5V227.8M775 227.8V254.2M862.1 254.2V280.5M778.9 280.5V306.8M790.8 306.8V333.1M805.1 333.1V359.4M830.4 359.4V385.8M860.3 385.8V412.1M768.6 412.1V438.4M798.9 438.4V464.7M788.2 464.7V491M778.6 491V517.4M788 517.4V543.7M768 543.7V570M798.5 570V596.3M864.9 596.3V622.6M859 622.6V649M799.3 649V675.3M852 675.3V701.6M824.3 701.6V727.9M751.8 727.9V750.6M1033.1 154.2V158.1M924.6 158.1V184.4M959.7 184.4V210.7M927.9 210.7V237M810.8 237V263.3M839.6 263.3V289.7M816.6 289.7V316M799.3 316V342.3M815.9 342.3V368.6M780.8 368.6V394.9M851.8 394.9V421.3M839.9 421.3V447.6M809.9 447.6V473.9M786.8 473.9V500.2M775 500.2V526.5M850.8 526.5V552.9M877.8 552.9V579.2M752.5 579.2V605.5M801.6 605.5V631.8M851.2 631.8V658.1M805.6 658.1V684.5M816.8 684.5V710.8M860.1 710.8V737.1M771.6 737.1V750.6M1002.1 154.2V167M964.6 167V193.3M959.2 193.3V219.6M845.1 219.6V245.9M879.9 245.9V272.2M805.7 272.2V298.6M809.4 298.6V324.9M836.6 324.9V351.2M859.4 351.2V377.5M816.7 377.5V403.8M814.7 403.8V430.2M768.9 430.2V456.5M797.2 456.5V482.8M752.1 482.8V509.1M789.9 509.1V535.4M795.5 535.4V561.8M848.1 561.8V588.1M851.1 588.1V614.4M751.1 614.4V640.7M775.4 640.7V667M857 667V693.4M853.9 693.4V719.7M753 719.7V746M839.3 746V750.6M1012.8 154.2V173.2M826.2 173.2V199.6M795.5 199.6V225.9M861.5 225.9V252.2M862.1 252.2V278.5M788 278.5V304.8M943.2 304.8V331.2M842.7 331.2V357.5M818.2 357.5V383.8M838.3 383.8V410.1M778.8 410.1V436.4M865 436.4V462.8M828.2 462.8V489.1M867 489.1V515.4M783.7 515.4V541.7M782.5 541.7V568M763.2 568V594.4M849.9 594.4V620.7M832.3 620.7V647M827.9 647V673.3M788.7 673.3V699.6M763.3 699.6V726M807.9 726V750.6M864.8 154.2V159.8M1007.3 159.8V186.2M946 186.2V212.5M829.4 212.5V238.8M830.3 238.8V265.1M869.6 265.1V291.4M921.1 291.4V317.8M825.5 317.8V344.1M822.8 344.1V370.4M849.9 370.4V396.7M861.6 396.7V423M794.9 423V449.4M869.4 449.4V475.7M852.3 475.7V502M768.3 502V528.3M749.4 528.3V554.6M821 554.6V581M776.8 581V607.3M830.3 607.3V633.6M796.7 633.6V659.9M772.6 659.9V686.2M843.7 686.2V712.6M818.3 712.6V738.9M861.7 738.9V750.6M907.4 154.2V174.7M821.8 174.7V201M863.7 201V227.3M885.2 227.3V253.6M774.1 253.6V279.9M895.3 279.9V306.3M799.1 306.3V332.6M823.2 332.6V358.9M800.4 358.9V385.2M839.7 385.2V411.5M769.8 411.5V437.9M800.8 437.9V464.2M836.8 464.2V490.5M897.5 490.5V516.8M782.6 516.8V543.1M861.8 543.1V569.5M842 569.5V595.8M839.2 595.8V622.1M844.4 622.1V648.4M791.6 648.4V674.7M844.2 674.7V701.1M819.9 701.1V727.4M784.5 727.4V750.6M1039.1 154.2V167.3M950.6 167.3V193.6M967.5 193.6V220M920 220V246.3M816.3 246.3V272.6M778.6 272.6V298.9M890.4 298.9V325.2M890.9 325.2V351.6M834.8 351.6V377.9M869.3 377.9V404.2M784.4 404.2V430.5M791.7 430.5V456.8M791.2 456.8V483.2M846.6 483.2V509.5M804.3 509.5V535.8M783.6 535.8V562.1M865.1 562.1V588.4M859.1 588.4V614.8M780.8 614.8V641.1M849 641.1V667.4M805.2 667.4V693.7M808 693.7V720M773.1 720V746.4M857.6 746.4V750.6M919.8 154.2V161.7M921 161.7V188M826.6 188V214.3M881 214.3V240.7M898.8 240.7V267M787.6 267V293.3M853.8 293.3V319.6M869.2 319.6V345.9M774.2 345.9V372.3M769.3 372.3V398.6M851.2 398.6V424.9M878.6 424.9V451.2M788.1 451.2V477.5M785.5 477.5V503.9M842.3 503.9V530.2M839.7 530.2V556.5M836 556.5V582.8M758.6 582.8V609.1M811 609.1V635.5M849.4 635.5V661.8M804 661.8V688.1M757.6 688.1V714.4M856.9 714.4V740.7M766.7 740.7V750.6M1040.1 154.2V159M970.2 159V185.3M845.9 185.3V211.7M883 211.7V238M885.1 238V264.3M936.6 264.3V290.6M790.1 290.6V316.9M875.7 316.9V343.3M786.7 343.3V369.6M801.8 369.6V395.9M816.9 395.9V422.2M798.6 422.2V448.5M781.3 448.5V474.9M742.5 474.9V501.2M802.7 501.2V527.5M768.1 527.5V553.8M874.8 553.8V580.1M787.2 580.1V606.5M834.9 606.5V632.8M774.9 632.8V659.1M788.2 659.1V685.4M744.5 685.4V711.7M835.6 711.7V738.1M779.6 738.1V750.6M998.6 154.2V163M990.9 163V189.3M964.1 189.3V215.7M778.2 215.7V242M807.9 242V268.3M799.3 268.3V294.6M839 294.6V320.9M837.3 320.9V347.3M812.7 347.3V373.6M827.3 373.6V399.9M808.5 399.9V426.2M868.5 426.2V452.5M790.9 452.5V478.9M891.9 478.9V505.2M848.5 505.2V531.5M793.4 531.5V557.8M806.7 557.8V584.1M838.6 584.1V610.5M838.8 610.5V636.8M832.8 636.8V663.1M849 663.1V689.4M793.4 689.4V715.7M752.1 715.7V742.1M801.6 742.1V750.6M963.6 154.2V177.8M973.6 177.8V204.1M934.1 204.1V230.4M800.9 230.4V256.7M873.7 256.7V283M819.3 283V309.4M868.3 309.4V335.7M803.9 335.7V362M823.5 362V388.3M880.5 388.3V414.6M852.6 414.6V441M790.1 441V467.3M838.1 467.3V493.6M825.7 493.6V519.9M867.7 519.9V546.2M864.2 546.2V572.6M767.5 572.6V598.9M858 598.9V625.2M869.1 625.2V651.5M816.8 651.5V677.8M792.6 677.8V704.2M866 704.2V730.5M795.6 730.5V750.6M1002.5 154.2V177.8M830.4 177.8V204.1M918.3 204.1V230.4M875.7 230.4V256.7M842.4 256.7V283M788.4 283V309.4M885.3 309.4V335.7M768.5 335.7V362M913.1 362V388.3M814.3 388.3V414.6M754.8 414.6V441M885.8 441V467.3M878.6 467.3V493.6M747.9 493.6V519.9M841.6 519.9V546.2M860 546.2V572.6M867.5 572.6V598.9M775.8 598.9V625.2M811.9 625.2V651.5M861.3 651.5V677.8M857.9 677.8V704.2M780 704.2V730.5M829.4 730.5V750.6M1006.9 154.2V161.7M1010.9 161.7V188M813.5 188V214.3M844.7 214.3V240.6M868 240.6V267M940.5 267V293.3M888.2 293.3V319.6M897.4 319.6V345.9M881.6 345.9V372.2M880.5 372.2V398.6M793.1 398.6V424.9M891.7 424.9V451.2M828.1 451.2V477.5M867.9 477.5V503.8M761.9 503.8V530.2M852.7 530.2V556.5M845 556.5V582.8M785.7 582.8V609.1M766.8 609.1V635.4M818.9 635.4V661.8M864.1 661.8V688.1M807.8 688.1V714.4M798.1 714.4V740.7M752 740.7V750.6M952.1 154.2V163.4M975.5 163.4V189.7M954.2 189.7V216M782.3 216V242.4M911.5 242.4V268.7M881.9 268.7V295M828 295V321.3M795.8 321.3V347.6M813.8 347.6V374M788.3 374V400.3M826.8 400.3V426.6M860.2 426.6V452.9M866.9 452.9V479.2M774.5 479.2V505.6M799.5 505.6V531.9M843.7 531.9V558.2M769.4 558.2V584.5M820.6 584.5V610.8M766.3 610.8V637.2M807.9 637.2V663.5M822.8 663.5V689.8M761.7 689.8V716.1M831.6 716.1V742.4M856.4 742.4V750.6M1038.7 154.2V163.6M990.7 163.6V189.9M874.7 189.9V216.2M911.6 216.2V242.5M880.9 242.5V268.8M912.9 268.8V295.2M819.4 295.2V321.5M775.9 321.5V347.8M806.9 347.8V374.1M860.3 374.1V400.4M826.6 400.4V426.8M859.7 426.8V453.1M805.8 453.1V479.4M786.4 479.4V505.7M782.9 505.7V532M841.7 532V558.4M745.6 558.4V584.7M809.4 584.7V611M829.8 611V637.3M814.6 637.3V663.6M745.7 663.6V690M762.8 690V716.3M842.3 716.3V742.6M858.2 742.6V750.6M859.4 154.2V164.7M969.5 164.7V191.1M871.1 191.1V217.4M910.2 217.4V243.7M825.2 243.7V270M805.8 270V296.3M810 296.3V322.7M808.4 322.7V349M845.2 349V375.3M847.3 375.3V401.6M865.3 401.6V427.9M861.3 427.9V454.3M875.1 454.3V480.6M869.4 480.6V506.9M826.6 506.9V533.2M766 533.2V559.5M858.9 559.5V585.9M855.6 585.9V612.2M790.4 612.2V638.5M758.3 638.5V664.8M828.3 664.8V691.1M826.5 691.1V717.5M775 717.5V743.8M861.3 743.8V750.6M1019 154.2V160.8M891.4 160.8V187.2M933.6 187.2V213.5M777.7 213.5V239.8M854.2 239.8V266.1M888.3 266.1V292.4M845.7 292.4V318.8M883 318.8V345.1M795.5 345.1V371.4M818.7 371.4V397.7M867.8 397.7V424M760.4 424V450.4M805.4 450.4V476.7M873.1 476.7V503M770.9 503V529.3M865 529.3V555.6M782.7 555.6V582M852.5 582V608.3M862.3 608.3V634.6M839.1 634.6V660.9M861.2 660.9V687.2M860.8 687.2V713.6M809.2 713.6V739.9M781.8 739.9V750.6M1009.1 154.2V161.4M992.8 161.4V187.8M951.8 187.8V214.1M878.6 214.1V240.4M876.3 240.4V266.7M882.8 266.7V293M765.5 293V319.4M823 319.4V345.7M782.3 345.7V372M816.2 372V398.3M844.3 398.3V424.6M816.1 424.6V451M906.4 451V477.3M791.4 477.3V503.6M843.6 503.6V529.9M790.5 529.9V556.2M793.8 556.2V582.6M746.1 582.6V608.9M792.2 608.9V635.2M757.4 635.2V661.5M764.8 661.5V687.8M842.1 687.8V714.2M799.2 714.2V740.5M756 740.5V750.6M874.7 154.2V165.6M971.3 165.6V191.9M874 191.9V218.3M801.8 218.3V244.6M819.9 244.6V270.9M794.6 270.9V297.2M817.6 297.2V323.5M831.1 323.5V349.9M780.9 349.9V376.2M769.7 376.2V402.5M846.1 402.5V428.8M804.9 428.8V455.1M854.5 455.1V481.5M815 481.5V507.8M834.1 507.8V534.1M773.3 534.1V560.4M861.1 560.4V586.7M855.3 586.7V613.1M841.7 613.1V639.4M825.8 639.4V665.7M880.7 665.7V692M761 692V718.3M771.9 718.3V744.7M857.5 744.7V750.6M1004.2 154.2V163.6M1045.5 163.6V189.9M893.8 189.9V216.2M848.6 216.2V242.6M800.9 242.6V268.9M892.9 268.9V295.2M777.6 295.2V321.5M849.8 321.5V347.8M875.3 347.8V374.2M824.3 374.2V400.5M892.1 400.5V426.8M854 426.8V453.1M872.8 453.1V479.4M830.5 479.4V505.8M880.2 505.8V532.1M808.9 532.1V558.4M816.9 558.4V584.7M808.8 584.7V611M745.3 611V637.4M803.9 637.4V663.7M774.3 663.7V690M809.6 690V716.3M749.1 716.3V742.6M801.1 742.6V750.6M942.7 154.2V160.7M901 160.7V187.1M977 187.1V213.4M777.7 213.4V239.7M828.5 239.7V266M796.7 266V292.3M788.5 292.3V318.7M778.2 318.7V345M785.1 345V371.3M839.6 371.3V397.6M820.9 397.6V423.9M828 423.9V450.3M785.3 450.3V476.6M808 476.6V502.9M782 502.9V529.2M865 529.2V555.5M810.6 555.5V581.9M828.9 581.9V608.2M779.5 608.2V634.5M796.6 634.5V660.8M862.5 660.8V687.1M848.5 687.1V713.5M824.9 713.5V739.8M814.4 739.8V750.6M1033.2 154.2V162.2M1056.3 162.2V186.2M931.6 188.6V214.9M822.9 214.9V241.2M903 241.2V267.5M854.6 267.5V293.8M774.9 293.8V320.2M800 320.2V346.5M845.2 346.5V372.8M834.9 372.8V399.1M866.9 399.1V425.4M782.8 425.4V451.8M842.8 451.8V478.1M859.1 478.1V504.4M869.5 504.4V530.7M849.8 530.7V557M860.4 557V583.4M840.5 583.4V609.7M850.5 609.7V636M818.2 636V662.3M795.4 662.3V688.6M859.2 688.6V715M753 715V741.3M846.9 741.3V750.6M1054.4 154.2V165.3M970.3 165.3V191.6M973.1 191.6V217.9M832.9 217.9V244.2M827.1 244.2V270.6M870.7 270.6V296.9M931 296.9V323.2M849.7 323.2V349.5M898.3 349.5V375.8M876.9 375.8V402.2M769.3 402.2V428.5M857.3 428.5V454.8M788.9 454.8V481.1M837.2 481.1V507.4M742 507.4V533.8M758.8 533.8V560.1M789.5 560.1V586.4M780.4 586.4V612.7M750.9 612.7V639M790 639V665.4M810.5 665.4V691.7M860.8 691.7V718M773 718V744.3M803.4 744.3V750.6M1039.8 154.2V162.5M980.4 162.5V188.8M831.4 188.8V215.1M838.4 215.1V241.5M881.4 241.5V267.8M855.4 267.8V294.1M862.8 294.1V320.4M933.8 320.4V346.7M794.1 346.7V373.1M863.3 373.1V399.4M786.7 399.4V425.7M814.5 425.7V452M907.7 452V478.3M780 478.3V504.7M878.2 504.7V531M893 531V557.3M800 557.3V583.6M860.1 583.6V609.9M824.4 609.9V636.3M845.5 636.3V662.6M821.5 662.6V688.9M804.6 688.9V715.2M753.4 715.2V741.5M877.9 741.5V750.6M1029.5 154.2V164.6M968.3 164.6V190.9M971.2 190.9V217.2M907.7 217.2V243.5M902.7 243.5V269.8M819.5 269.8V296.2M864.1 296.2V322.5M854.7 322.5V348.8M805.6 348.8V375.1M882.8 375.1V401.4M753.5 401.4V427.8M763 427.8V454.1M846.5 454.1V480.4M827.6 480.4V506.7M882.1 506.7V533M810.6 533V559.4M820.2 559.4V585.7M779.7 585.7V612M839.4 612V638.3M856.4 638.3V664.6M795.3 664.6V691M748 691V717.3M803.2 717.3V743.6M801.7 743.6V750.6M1009.3 154.2V160.8M1019.4 160.8V187.1M915.7 187.1V213.4M820.7 213.4V239.8M846.6 239.8V266.1M787.3 266.1V292.4M848.9 292.4V318.7M793.8 318.7V345M791.2 345V371.4M775.6 371.4V397.7M884.6 397.7V424M742.4 424V450.3M815.5 450.3V476.6M884.6 476.6V503M798 503V529.3M836.3 529.3V555.6M801.2 555.6V581.9M812.3 581.9V608.2M751.7 608.2V634.6M857.5 634.6V660.9M799.7 660.9V687.2M836.3 687.2V713.5M759.6 713.5V739.8M837.4 739.8V750.6M1005.9 154.2V166.7M979.9 166.7V193M885.9 193V219.4M827.8 219.4V245.7M874.5 245.7V272M774.5 272V298.3M892.9 298.3V324.6M833.4 324.6V351M817.8 351V377.3M849.6 377.3V403.6M807.7 403.6V429.9M848.9 429.9V456.2M829.8 456.2V482.6M750 482.6V508.9M812.7 508.9V535.2M776 535.2V561.5M783.4 561.5V587.8M856.1 587.8V614.2M819.4 614.2V640.5M752.7 640.5V666.8M850.4 666.8V693.1M791.1 693.1V719.4M809 719.4V745.8M778.6 745.8V750.6M945.7 154.2V157M1039.6 157V183.3M952 183.3V209.7M818.1 209.7V236M877.1 236V262.3M918.5 262.3V288.6M778.5 288.6V314.9M808.7 314.9V341.3M854.9 341.3V367.6M867.1 367.6V393.9M856.9 393.9V420.2M802.9 420.2V446.5M749.1 446.5V472.9M790.8 472.9V499.2M773.8 499.2V525.5M819.1 525.5V551.8M783.4 551.8V578.1M855.7 578.1V604.5M836.1 604.5V630.8M838.3 630.8V657.1M826.1 657.1V683.4M815 683.4V709.7M823.7 709.7V736.1M861.9 736.1V750.6M898.1 154.2V166.4M963.5 166.4V192.7M947.5 192.7V219M856.9 219V245.3M810.5 245.3V271.7M882.4 271.7V298M818.9 298V324.3M874.5 324.3V350.6M859.4 350.6V376.9M903.7 376.9V403.3M862 403.3V429.6M830.4 429.6V455.9M792.4 455.9V482.2M871 482.2V508.5M830.5 508.5V534.9M812.7 534.9V561.2M861.7 561.2V587.5M875.4 587.5V613.8M841.6 613.8V640.1M859.2 640.1V666.5M844.7 666.5V692.8M762.1 692.8V719.1M792 719.1V745.4M752.4 745.4V750.6M982.9 154.2V162.1M964.1 162.1V188.4M947.6 188.4V214.8M931 214.8V241.1M881.3 241.1V267.4M866.1 267.4V293.7M815.4 293.7V320M844.5 320V346.4M804.2 346.4V372.7M885.8 372.7V399M773 399V425.3M798.8 425.3V451.6M836.1 451.6V478M846.9 478V504.3M875.5 504.3V530.6M788.3 530.6V556.9M757.2 556.9V583.2M861.5 583.2V609.6M859.4 609.6V635.9M864.4 635.9V662.2M824.2 662.2V688.5M836 688.5V714.8M834.4 714.8V741.2M802.2 741.2V750.6M989.3 154.2V159.5M975 159.5V185.8M973 185.8V212.1M821.6 212.1V238.4M831.6 238.4V264.7M889.4 264.7V291.1M856.8 291.1V317.4M822.3 317.4V343.7M885.5 343.7V370M873.7 370V396.3M875 396.3V422.7M795.3 422.7V449M810.1 449V475.3M845.3 475.3V501.6M789.3 501.6V527.9M834.9 527.9V554.3M802.7 554.3V580.6M823.3 580.6V606.9M853.9 606.9V633.2M823.9 633.2V659.5M857.8 659.5V685.9M847 685.9V712.2M874 712.2V738.5M781.7 738.5V750.6M1014.5 154.2V162.3M893.1 162.3V188.6M851.6 188.6V214.9M846.1 214.9V241.3M823.7 241.3V267.6M842.1 267.6V293.9M936.6 293.9V320.2M791.7 320.2V346.5M811.7 346.5V372.9M792.6 372.9V399.2M747.9 399.2V425.5M802.4 425.5V451.8M832 451.8V478.1M838.3 478.1V504.5M825.1 504.5V530.8M855.8 530.8V557.1M759.6 557.1V583.4M776.1 583.4V609.7M782.3 609.7V636.1M803.7 636.1V662.4M790.2 662.4V688.7M776.3 688.7V715M755 715V741.3M847.7 741.3V750.6M1037.5 154.2V165.2M930.9 165.2V191.5M962.9 191.5V217.8M777.3 217.8V244.2M866.8 244.2V270.5M865.2 270.5V296.8M819.7 296.8V323.1M927.6 323.1V349.4M798.5 349.4V375.8M864.5 375.8V402.1M817.3 402.1V428.4M816 428.4V454.7M805.6 454.7V481M842.2 481V507.4M784.3 507.4V533.7M757.6 533.7V560M830.1 560V586.3M836.9 586.3V612.6M809.1 612.6V639M834.6 639V665.3M796.4 665.3V691.6M762.1 691.6V717.9M857.4 717.9V744.2M861.3 744.2V750.6M964.4 154.2V178M986.2 178V204.3M925.1 204.3V230.7M889.7 230.7V257M853.6 257V283.3M796.6 283.3V309.6M866.1 309.6V335.9M887.1 335.9V362.3M807.6 362.3V388.6M776.8 388.6V414.9M826 414.9V441.2M859.9 441.2V467.5M818.3 467.5V493.9M797.4 493.9V520.2M865 520.2V546.5M837.4 546.5V572.8M821.9 572.8V599.1M845.6 599.1V625.5M789.9 625.5V651.8M850.3 651.8V678.1M763.1 678.1V704.4M847.2 704.4V730.7M768 730.7V750.6M1006.7 154.2V161.1M961 161.1V187.4M907 187.4V213.8M901.2 213.8V240.1M880.6 240.1V266.4M821.2 266.4V292.7M788.3 292.7V319M840.1 319V345.4M799 345.4V371.7M789 371.7V398M834 398V424.3M916.2 424.3V450.6M862.8 450.6V477M837.7 477V503.3M794.7 503.3V529.6M787.7 529.6V555.9M804.7 555.9V582.2M783.5 582.2V608.6M768.5 608.6V634.9M767.3 634.9V661.2M760 661.2V687.5M865.1 687.5V713.8M857.4 713.8V740.2M860 740.2V750.6M1004.1 154.2V167.9M851.4 167.9V194.2M902.7 194.2V220.5M884 220.5V246.8M900.2 246.8V273.2M924.5 273.2V299.5M793.1 299.5V325.8M764.5 325.8V352.1M772 352.1V378.4M786.9 378.4V404.8M779.1 404.8V431.1M768 431.1V457.4M817.6 457.4V483.7M806.4 483.7V510M875.4 510V536.4M862.4 536.4V562.7M780.5 562.7V589M832.9 589V615.3M844.1 615.3V641.6M828.9 641.6V668M818.5 668V694.3M762.5 694.3V720.6M853.1 720.6V746.9M860.9 746.9V750.6M995.9 154.2V158.2M1011.1 158.2V184.6M903.5 184.6V210.9M858.8 210.9V237.2M900.2 237.2V263.5M898.2 263.5V289.8M943.8 289.8V316.2M784.1 316.2V342.5M850.8 342.5V368.8M835.8 368.8V395.1M858.1 395.1V421.4M772.4 421.4V447.8M769.9 447.8V474.1M793.3 474.1V500.4M798.4 500.4V526.7M789.9 526.7V553M794.3 553V579.4M856.2 579.4V605.7M813.9 605.7V632M734.9 632V658.3M857.1 658.3V684.6M830.6 684.6V711M852.2 711V737.3M747.2 737.3V750.6M949.3 154.2V174.3M830.7 174.3V200.6M954.6 200.6V226.9M879.3 226.9V253.2M845.4 253.2V279.5M793.3 279.5V305.9M877.5 305.9V332.2M799.7 332.2V358.5M861 358.5V384.8M795.9 384.8V411.1M833.2 411.1V437.5M750.2 437.5V463.8M836.4 463.8V490.1M851.9 490.1V516.4M856.9 516.4V542.7M749.1 542.7V569.1M835 569.1V595.4M845.1 595.4V621.7M803.5 621.7V648M812.1 648V674.3M802.6 674.3V700.7M843.3 700.7V727M795.2 727V750.6M921.6 154.2V163.1M1030.7 163.1V189.4M845.7 189.4V215.7M928.8 215.7V242M827.9 242V268.3M807.8 268.3V294.7M845.7 294.7V321M787 321V347.3M820.4 347.3V373.6M811.8 373.6V399.9M860 399.9V426.3M862.4 426.3V452.6M872.9 452.6V478.9M798.3 478.9V505.2M821.2 505.2V531.5M806.8 531.5V557.9M790.1 557.9V584.2M876.4 584.2V610.5M832.5 610.5V636.8M796.4 636.8V663.1M833 663.1V689.5M857.1 689.5V715.8M780.5 715.8V742.1M784.2 742.1V750.6M1009.5 154.2V176.8M963.2 176.8V203.1M792.6 203.1V229.4M900.4 229.4V255.7M853.4 255.7V282.1M949.6 282.1V308.4M792.3 308.4V334.7M889.1 334.7V361M827.7 361V387.3M777 387.3V413.7M816.3 413.7V440M783.5 440V466.3M780.5 466.3V492.6M796.5 492.6V518.9M862.9 518.9V545.3M754 545.3V571.6M820.5 571.6V597.9M793.5 597.9V624.2M748 624.2V650.5M781.7 650.5V676.9M786.8 676.9V703.2M756.5 703.2V729.5M791.9 729.5V750.6M986.6 154.2V171.3M989.1 171.3V197.6M964.7 197.6V223.9M823.9 223.9V250.3M784.2 250.3V276.6M819.1 276.6V302.9M873.6 302.9V329.2M806.4 329.2V355.5M820.1 355.5V381.9M886 381.9V408.2M837.5 408.2V434.5M828.2 434.5V460.8M801.2 460.8V487.1M856.4 487.1V513.5M817.5 513.5V539.8M824.8 539.8V566.1M767.4 566.1V592.4M817.5 592.4V618.7M764.4 618.7V645.1M857.9 645.1V671.4M863.2 671.4V697.7M779.5 697.7V724M763.7 724V750.3M947 154.2V162.2M914.3 162.2V188.6M856.5 188.6V214.9M820.3 214.9V241.2M859.7 241.2V267.5M862.3 267.5V293.8M801.6 293.8V320.2M927.1 320.2V346.5M861.7 346.5V372.8M880 372.8V399.1M812.1 399.1V425.4M809.9 425.4V451.8M824.3 451.8V478.1M841.2 478.1V504.4M886.8 504.4V530.7M862 530.7V557M772.8 557V583.4M803.3 583.4V609.7M851.4 609.7V636M788.4 636V662.3M807.3 662.3V688.6M856.8 688.6V715M838.4 715V741.3M811.6 741.3V750.6M921.3 154.2V166.9M910.4 166.9V193.2M916.9 193.2V219.5M799.3 219.5V245.8M869.6 245.8V272.2M904.8 272.2V298.5M801.3 298.5V324.8M823.9 324.8V351.1M906 351.1V377.4M861.9 377.4V403.8M851.8 403.8V430.1M869.9 430.1V456.4M799.4 456.4V482.7M800.7 482.7V509M845.7 509V535.4M787.3 535.4V561.7M811.2 561.7V588M799.5 588V614.3M857.4 614.3V640.6M856.8 640.6V667M787.3 667V693.3M770.6 693.3V719.6M759.2 719.6V745.9M827.1 745.9V750.6M1069.9 154.2V164.9M981.4 164.9V191.2M926.9 191.2V217.5M811 217.5V243.9M913.7 243.9V270.2M866.3 270.2V296.5M754.8 296.5V322.8M817.1 322.8V349.1M790.1 349.1V375.5M860.7 375.5V401.8M873.4 401.8V428.1M789.7 428.1V454.4M861.8 454.4V480.7M784.8 480.7V507.1M805.6 507.1V533.4M812.8 533.4V559.7M794.5 559.7V586M795.5 586V612.3M788.7 612.3V638.7M750.2 638.7V665M771.6 665V691.3M827.5 691.3V717.6M858.5 717.6V743.9M856.3 743.9V750.6M1037.4 154.2V162.3M1053.3 162.3V185.6M952.9 188.6V214.9M918.2 214.9V241.2M868.5 241.2V267.6M862.5 267.6V293.9M832.1 293.9V320.2M837.8 320.2V346.5M778.6 346.5V372.8M804 372.8V399.2M817.5 399.2V425.5M859.7 425.5V451.8M872.5 451.8V478.1M788.4 478.1V504.4M868.1 504.4V530.8M852.6 530.8V557.1M774.9 557.1V583.4M821.3 583.4V609.7M764.2 609.7V636M784.3 636V662.4M833 662.4V688.7M805 688.7V715M760.7 715V741.3M765.9 741.3V750.6M994.8 154.2V164.4M994.6 164.4V190.7M943.1 190.7V217M800.3 217V243.4M829.5 243.4V269.7M780.5 269.7V296M865.7 296V322.3M868.3 322.3V348.6M859.3 348.6V375M816.6 375V401.3M800.1 401.3V427.6M819.8 427.6V453.9M782.3 453.9V480.2M773.9 480.2V506.6M817.9 506.6V532.9M817.3 532.9V559.2M841.3 559.2V585.5M847.7 585.5V611.8M759.7 611.8V638.2M720.1 638.2V664.5M861.7 664.5V690.8M778.9 690.8V717.1M762.8 717.1V743.4M812.5 743.4V750.6M1000.4 154.2V167M930.1 167V193.3M897.8 193.3V219.6M946.7 219.6V245.9M873.3 245.9V272.2M796.3 272.2V298.6M901.5 298.6V324.9M821.6 324.9V351.2M829.5 351.2V377.5M839.1 377.5V403.8M809.6 403.8V430.2M838.8 430.2V456.5M838.4 456.5V482.8M792.3 482.8V509.1M781 509.1V535.4M822.6 535.4V561.8M781.5 561.8V588.1M743.3 588.1V614.4M836.7 614.4V640.7M820.5 640.7V667M825 667V693.4M820.1 693.4V719.7M822.5 719.7V746M826.1 746V750.6M1041.1 154.2V160.1M967.7 160.1V186.4M920.5 186.4V212.7M875.1 212.7V239M805.1 239V265.3M848.2 265.3V291.7M894.6 291.7V318M830.4 318V344.3M772.6 344.3V370.6M772.7 370.6V396.9M782.1 396.9V423.3M825.1 423.3V449.6M849.4 449.6V475.9M781.4 475.9V502.2M813.2 502.2V528.5M804.4 528.5V554.9M812.4 554.9V581.2M818.5 581.2V607.5M794.4 607.5V633.8M786.2 633.8V660.1M741.2 660.1V686.5M838.2 686.5V712.8M765.3 712.8V739.1M749.3 739.1V750.6M1036.3 154.2V167.4M1035.8 167.4V193.7M855.7 193.7V220M807.1 220V246.4M824.3 246.4V272.7M782.4 272.7V299M834.3 299V325.3M873.9 325.3V351.6M784.6 351.6V378M780.2 378V404.3M847.6 404.3V430.6M893.5 430.6V456.9M779.3 456.9V483.2M859.1 483.2V509.6M777.2 509.6V535.9M775.8 535.9V562.2M811.7 562.2V588.5M815.5 588.5V614.8M863.9 614.8V641.2M805.7 641.2V667.5M832.1 667.5V693.8M861 693.8V720.1M861.3 720.1V746.4M831.6 746.4V750.6M1013 154.2V164.7M1014.5 164.7V191.1M906.8 191.1V217.4M902.6 217.4V243.7M923.7 243.7V270M832.2 270V296.3M792.6 296.3V322.7M784 322.7V349M905.1 349V375.3M922.5 375.3V401.6M852.4 401.6V427.9M829.3 427.9V454.3M781.1 454.3V480.6M809.3 480.6V506.9M797.6 506.9V533.2M817.9 533.2V559.5M778 559.5V585.9M853.5 585.9V612.2M856.4 612.2V638.5M768.3 638.5V664.8M806.9 664.8V691.1M834.2 691.1V717.5M862 717.5V743.8M789.8 743.8V750.6M995.8 154.8V181.1M846.8 181.1V207.5M813.1 207.5V233.8M909.4 233.8V260.1M797.6 260.1V286.4M778.7 286.4V312.7M781.8 312.7V339.1M841 339.1V365.4M833.1 365.4V391.7M828.4 391.7V418M842.1 418V444.3M761.9 444.3V470.7M901.9 470.7V497M789.3 497V523.3M771.9 523.3V549.6M793.7 549.6V575.9M756.1 575.9V602.3M762.1 602.3V628.6M857.5 628.6V654.9M847.1 654.9V681.2M803.6 681.2V707.5M758.2 707.5V733.9M825.2 733.9V750.6M948 154.2V165.6M868.8 165.6V191.9M878.7 191.9V218.3M824.8 218.3V244.6M777.3 244.6V270.9M865.3 270.9V297.2M915.9 297.2V323.5M861.3 323.5V349.9M887.8 349.9V376.2M861.1 376.2V402.5M842.9 402.5V428.8M853.4 428.8V455.1M880.7 455.1V481.5M793.8 481.5V507.8M830.3 507.8V534.1M784.7 534.1V560.4M808.4 560.4V586.7M810.9 586.7V613.1M801 613.1V639.4M756.1 639.4V665.7M857.9 665.7V692M829 692V718.3M751.7 718.3V744.7M846 744.7V750.6M1002.7 154.2V158.9M889.2 158.9V185.2M917 185.2V211.5M929.2 211.5V237.8M803.1 237.8V264.1M883.3 264.1V290.5M779.8 290.5V316.8M806.4 316.8V343.1M851.1 343.1V369.4M815.6 369.4V395.7M813.5 395.7V422.1M795.2 422.1V448.4M839.5 448.4V474.7M767.8 474.7V501M818.4 501V527.3M828.9 527.3V553.7M773.1 553.7V580M802.5 580V606.3M868.1 606.3V632.6M860.3 632.6V658.9M805.2 658.9V685.3M855.6 685.3V711.6M755.9 711.6V737.9M827.5 737.9V750.6M973.9 154.6V180.9M906.9 180.9V207.2M809.7 207.2V233.5M806.6 233.5V259.8M837.6 259.8V286.2M819.7 286.2V312.5M817.7 312.5V338.8M783.6 338.8V365.1M773.5 365.1V391.4M838.9 391.4V417.8M912.4 417.8V444.1M876.6 444.1V470.4M784.9 470.4V496.7M853.9 496.7V523M816.1 523V549.4M815.7 549.4V575.7M900.1 575.7V602M744.8 602V628.3M780.7 628.3V654.6M769 654.6V681M831.2 681V707.3M783.9 707.3V733.6M800.1 733.6V750.6M1073 154.2V163.6M986.2 163.6V189.9M895.5 189.9V216.2M848.5 216.2V242.5M894.9 242.5V268.9M832.6 268.9V295.2M867.7 295.2V321.5M791.5 321.5V347.8M882.9 347.8V374.1M828.6 374.1V400.5M785.7 400.5V426.8M833.8 426.8V453.1M893.2 453.1V479.4M837.9 479.4V505.7M830.4 505.7V532.1M784.7 532.1V558.4M783.4 558.4V584.7M796.8 584.7V611M808.6 611V637.3M857 637.3V663.7M811.8 663.7V690M799.9 690V716.3M801.9 716.3V742.6M845.4 742.6V750.6M973.3 154.2V160.5M974.8 160.5V186.9M906.2 186.9V213.2M931.4 213.2V239.5M896.9 239.5V265.8M874.3 265.8V292.1M865.4 292.1V318.5M805.3 318.5V344.8M830.7 344.8V371.1M806.1 371.1V397.4M876.6 397.4V423.7M876.7 423.7V450.1M814 450.1V476.4M773.7 476.4V502.7M833.1 502.7V529M766.9 529V555.3M771.5 555.3V581.7M863 581.7V608M804.2 608V634.3M782.1 634.3V660.6M851.6 660.6V686.9M811.3 686.9V713.3M855.6 713.3V739.6M802.9 739.6V750.6" stroke="#c9d1cf" stroke-width="1.8" fill="none"/>
<rect x="92.2" y="92.6" width="505" height="40.4" fill="#9bffff"/>
<rect x="92.2" y="133" width="505" height="20.2" fill="#7b8b8b"/>
<rect x="92.2" y="133" width="14.7" height="3.3" fill="#849494"/>
<rect x="92.2" y="136" width="14.7" height="2.8" fill="#8e9e9e"/>
<rect x="92.2" y="138.5" width="14.7" height="2.3" fill="#6b7b7b"/>
<rect x="92.2" y="140.5" width="14.7" height="3.3" fill="#627272"/>
<rect x="92.2" y="143.5" width="14.7" height="1.8" fill="#8e9e9e"/>
<rect x="92.2" y="145" width="14.7" height="2.8" fill="#7b8b8b"/>
<rect x="92.2" y="147.5" width="14.7" height="2.3" fill="#7b8b8b"/>
<rect x="92.2" y="149.5" width="14.7" height="2.3" fill="#738383"/>
<rect x="92.2" y="151.5" width="14.7" height="2" fill="#627272"/>
<rect x="106.6" y="133" width="14.7" height="4.3" fill="#738383"/>
<rect x="106.6" y="137" width="14.7" height="3.8" fill="#627272"/>
<rect x="106.6" y="140.5" width="14.7" height="2.3" fill="#849494"/>
<rect x="106.6" y="142.5" width="14.7" height="2.3" fill="#8e9e9e"/>
<rect x="106.6" y="144.5" width="14.7" height="2.8" fill="#5a6a6a"/>
<rect x="106.6" y="147" width="14.7" height="2.8" fill="#5a6a6a"/>
<rect x="106.6" y="149.5" width="14.7" height="3.8" fill="#bcc7c7"/>
<rect x="106.6" y="153" width="14.7" height="0.5" fill="#738383"/>
<rect x="121" y="133" width="14.7" height="1.8" fill="#a8b5b5"/>
<rect x="121" y="134.5" width="14.7" height="2.3" fill="#849494"/>
<rect x="121" y="136.5" width="14.7" height="2.3" fill="#6b7b7b"/>
<rect x="121" y="138.5" width="14.7" height="4.3" fill="#738383"/>
<rect x="121" y="142.5" width="14.7" height="4.3" fill="#7b8b8b"/>
<rect x="121" y="146.5" width="14.7" height="4.3" fill="#738383"/>
<rect x="121" y="150.5" width="14.7" height="3" fill="#7b8b8b"/>
<rect x="135.4" y="133" width="14.7" height="2.8" fill="#8e9e9e"/>
<rect x="135.4" y="135.5" width="14.7" height="2.3" fill="#627272"/>
<rect x="135.4" y="137.5" width="14.7" height="3.3" fill="#6b7b7b"/>
<rect x="135.4" y="140.5" width="14.7" height="3.8" fill="#7b8b8b"/>
<rect x="135.4" y="144" width="14.7" height="2.8" fill="#7b8b8b"/>
<rect x="135.4" y="146.5" width="14.7" height="3.8" fill="#9aa9a9"/>
<rect x="135.4" y="150" width="14.7" height="2.3" fill="#5a6a6a"/>
<rect x="135.4" y="152" width="14.7" height="1.5" fill="#6b7b7b"/>
<rect x="149.8" y="133" width="14.7" height="1.8" fill="#627272"/>
<rect x="149.8" y="134.5" width="14.7" height="2.3" fill="#738383"/>
<rect x="149.8" y="136.5" width="14.7" height="2.8" fill="#627272"/>
<rect x="149.8" y="139" width="14.7" height="2.8" fill="#4f6060"/>
<rect x="149.8" y="141.5" width="14.7" height="1.8" fill="#849494"/>
<rect x="149.8" y="143" width="14.7" height="1.8" fill="#738383"/>
<rect x="149.8" y="144.5" width="14.7" height="2.3" fill="#849494"/>
<rect x="149.8" y="146.5" width="14.7" height="4.3" fill="#738383"/>
<rect x="149.8" y="150.5" width="14.7" height="3" fill="#7b8b8b"/>
<rect x="164.2" y="133" width="14.7" height="1.8" fill="#738383"/>
<rect x="164.2" y="134.5" width="14.7" height="1.8" fill="#4f6060"/>
<rect x="164.2" y="136" width="14.7" height="3.3" fill="#6b7b7b"/>
<rect x="164.2" y="139" width="14.7" height="3.8" fill="#a8b5b5"/>
<rect x="164.2" y="142.5" width="14.7" height="3.8" fill="#6b7b7b"/>
<rect x="164.2" y="146" width="14.7" height="4.3" fill="#849494"/>
<rect x="164.2" y="150" width="14.7" height="3.5" fill="#627272"/>
<rect x="178.6" y="133" width="14.7" height="3.3" fill="#627272"/>
<rect x="178.6" y="136" width="14.7" height="2.8" fill="#6b7b7b"/>
<rect x="178.6" y="138.5" width="14.7" height="2.3" fill="#627272"/>
<rect x="178.6" y="140.5" width="14.7" height="2.3" fill="#7b8b8b"/>
<rect x="178.6" y="142.5" width="14.7" height="3.8" fill="#849494"/>
<rect x="178.6" y="146" width="14.7" height="2.3" fill="#4f6060"/>
<rect x="178.6" y="148" width="14.7" height="3.3" fill="#9aa9a9"/>
<rect x="178.6" y="151" width="14.7" height="2.5" fill="#9aa9a9"/>
<rect x="193" y="133" width="14.7" height="1.8" fill="#6b7b7b"/>
<rect x="193" y="134.5" width="14.7" height="3.3" fill="#5a6a6a"/>
<rect x="193" y="137.5" width="14.7" height="3.3" fill="#738383"/>
<rect x="193" y="140.5" width="14.7" height="2.3" fill="#9aa9a9"/>
<rect x="193" y="142.5" width="14.7" height="2.3" fill="#5a6a6a"/>
<rect x="193" y="144.5" width="14.7" height="2.8" fill="#627272"/>
<rect x="193" y="147" width="14.7" height="2.3" fill="#627272"/>
<rect x="193" y="149" width="14.7" height="4.3" fill="#8e9e9e"/>
<rect x="193" y="153" width="14.7" height="0.5" fill="#a8b5b5"/>
<rect x="207.4" y="133" width="14.7" height="3.8" fill="#849494"/>
<rect x="207.4" y="136.5" width="14.7" height="2.8" fill="#627272"/>
<rect x="207.4" y="139" width="14.7" height="4.3" fill="#738383"/>
<rect x="207.4" y="143" width="14.7" height="2.3" fill="#7b8b8b"/>
<rect x="207.4" y="145" width="14.7" height="3.8" fill="#6b7b7b"/>
<rect x="207.4" y="148.5" width="14.7" height="2.3" fill="#7b8b8b"/>
<rect x="207.4" y="150.5" width="14.7" height="2.3" fill="#6b7b7b"/>
<rect x="207.4" y="152.5" width="14.7" height="1" fill="#627272"/>
<rect x="221.8" y="133" width="14.7" height="3.8" fill="#849494"/>
<rect x="221.8" y="136.5" width="14.7" height="4.3" fill="#9aa9a9"/>
<rect x="221.8" y="140.5" width="14.7" height="1.8" fill="#6b7b7b"/>
<rect x="221.8" y="142" width="14.7" height="3.3" fill="#5a6a6a"/>
<rect x="221.8" y="145" width="14.7" height="3.8" fill="#7b8b8b"/>
<rect x="221.8" y="148.5" width="14.7" height="1.8" fill="#7b8b8b"/>
<rect x="221.8" y="150" width="14.7" height="1.8" fill="#627272"/>
<rect x="221.8" y="151.5" width="14.7" height="2" fill="#7b8b8b"/>
<rect x="236.2" y="133" width="14.7" height="2.8" fill="#849494"/>
<rect x="236.2" y="135.5" width="14.7" height="4.3" fill="#738383"/>
<rect x="236.2" y="139.5" width="14.7" height="2.8" fill="#738383"/>
<rect x="236.2" y="142" width="14.7" height="2.8" fill="#6b7b7b"/>
<rect x="236.2" y="144.5" width="14.7" height="3.3" fill="#738383"/>
<rect x="236.2" y="147.5" width="14.7" height="2.8" fill="#738383"/>
<rect x="236.2" y="150" width="14.7" height="2.3" fill="#738383"/>
<rect x="236.2" y="152" width="14.7" height="1.5" fill="#849494"/>
<rect x="250.6" y="133" width="14.7" height="4.3" fill="#8e9e9e"/>
<rect x="250.6" y="137" width="14.7" height="1.8" fill="#5a6a6a"/>
<rect x="250.6" y="138.5" width="14.7" height="3.8" fill="#8e9e9e"/>
<rect x="250.6" y="142" width="14.7" height="3.3" fill="#738383"/>
<rect x="250.6" y="145" width="14.7" height="2.8" fill="#738383"/>
<rect x="250.6" y="147.5" width="14.7" height="2.8" fill="#849494"/>
<rect x="250.6" y="150" width="14.7" height="3.3" fill="#5a6a6a"/>
<rect x="250.6" y="153" width="14.7" height="0.5" fill="#738383"/>
<rect x="265" y="133" width="14.7" height="1.8" fill="#738383"/>
<rect x="265" y="134.5" width="14.7" height="2.3" fill="#5a6a6a"/>
<rect x="265" y="136.5" width="14.7" height="2.8" fill="#6b7b7b"/>
<rect x="265" y="139" width="14.7" height="3.3" fill="#6b7b7b"/>
<rect x="265" y="142" width="14.7" height="2.3" fill="#627272"/>
<rect x="265" y="144" width="14.7" height="3.8" fill="#5a6a6a"/>
<rect x="265" y="147.5" width="14.7" height="2.8" fill="#738383"/>
<rect x="265" y="150" width="14.7" height="1.8" fill="#6b7b7b"/>
<rect x="265" y="151.5" width="14.7" height="2" fill="#627272"/>
<rect x="279.4" y="133" width="14.7" height="2.3" fill="#6b7b7b"/>
<rect x="279.4" y="135" width="14.7" height="3.8" fill="#738383"/>
<rect x="279.4" y="138.5" width="14.7" height="4.3" fill="#6b7b7b"/>
<rect x="279.4" y="142.5" width="14.7" height="1.8" fill="#627272"/>
<rect x="279.4" y="144" width="14.7" height="2.3" fill="#7b8b8b"/>
<rect x="279.4" y="146" width="14.7" height="4.3" fill="#a8b5b5"/>
<rect x="279.4" y="150" width="14.7" height="3.5" fill="#4f6060"/>
<rect x="293.8" y="133" width="14.7" height="3.8" fill="#627272"/>
<rect x="293.8" y="136.5" width="14.7" height="3.8" fill="#6b7b7b"/>
<rect x="293.8" y="140" width="14.7" height="2.3" fill="#738383"/>
<rect x="293.8" y="142" width="14.7" height="3.3" fill="#5a6a6a"/>
<rect x="293.8" y="145" width="14.7" height="4.3" fill="#5a6a6a"/>
<rect x="293.8" y="149" width="14.7" height="3.3" fill="#738383"/>
<rect x="293.8" y="152" width="14.7" height="1.5" fill="#7b8b8b"/>
<rect x="308.2" y="133" width="14.7" height="1.8" fill="#6b7b7b"/>
<rect x="308.2" y="134.5" width="14.7" height="3.3" fill="#5a6a6a"/>
<rect x="308.2" y="137.5" width="14.7" height="2.8" fill="#738383"/>
<rect x="308.2" y="140" width="14.7" height="2.8" fill="#627272"/>
<rect x="308.2" y="142.5" width="14.7" height="3.8" fill="#7b8b8b"/>
<rect x="308.2" y="146" width="14.7" height="3.8" fill="#627272"/>
<rect x="308.2" y="149.5" width="14.7" height="1.8" fill="#627272"/>
<rect x="308.2" y="151" width="14.7" height="2.3" fill="#5a6a6a"/>
<rect x="308.2" y="153" width="14.7" height="0.5" fill="#6b7b7b"/>
<rect x="322.6" y="133" width="14.7" height="2.3" fill="#7b8b8b"/>
<rect x="322.6" y="135" width="14.7" height="3.3" fill="#738383"/>
<rect x="322.6" y="138" width="14.7" height="1.8" fill="#738383"/>
<rect x="322.6" y="139.5" width="14.7" height="2.3" fill="#6b7b7b"/>
<rect x="322.6" y="141.5" width="14.7" height="2.3" fill="#738383"/>
<rect x="322.6" y="143.5" width="14.7" height="3.8" fill="#6b7b7b"/>
<rect x="322.6" y="147" width="14.7" height="4.3" fill="#d6dede"/>
<rect x="322.6" y="151" width="14.7" height="2.3" fill="#9aa9a9"/>
<rect x="322.6" y="153" width="14.7" height="0.5" fill="#7b8b8b"/>
<rect x="337" y="133" width="14.7" height="3.8" fill="#7b8b8b"/>
<rect x="337" y="136.5" width="14.7" height="2.3" fill="#7b8b8b"/>
<rect x="337" y="138.5" width="14.7" height="3.3" fill="#8e9e9e"/>
<rect x="337" y="141.5" width="14.7" height="1.8" fill="#7b8b8b"/>
<rect x="337" y="143" width="14.7" height="1.8" fill="#849494"/>
<rect x="337" y="144.5" width="14.7" height="1.8" fill="#7b8b8b"/>
<rect x="337" y="146" width="14.7" height="1.8" fill="#627272"/>
<rect x="337" y="147.5" width="14.7" height="3.8" fill="#6b7b7b"/>
<rect x="337" y="151" width="14.7" height="2.5" fill="#6b7b7b"/>
<rect x="351.4" y="133" width="14.7" height="2.8" fill="#849494"/>
<rect x="351.4" y="135.5" width="14.7" height="3.3" fill="#7b8b8b"/>
<rect x="351.4" y="138.5" width="14.7" height="3.8" fill="#6b7b7b"/>
<rect x="351.4" y="142" width="14.7" height="3.3" fill="#8e9e9e"/>
<rect x="351.4" y="145" width="14.7" height="3.8" fill="#627272"/>
<rect x="351.4" y="148.5" width="14.7" height="1.8" fill="#7b8b8b"/>
<rect x="351.4" y="150" width="14.7" height="3.5" fill="#9aa9a9"/>
<rect x="365.8" y="133" width="14.7" height="2.8" fill="#6b7b7b"/>
<rect x="365.8" y="135.5" width="14.7" height="3.3" fill="#849494"/>
<rect x="365.8" y="138.5" width="14.7" height="3.3" fill="#738383"/>
<rect x="365.8" y="141.5" width="14.7" height="2.8" fill="#6b7b7b"/>
<rect x="365.8" y="144" width="14.7" height="2.8" fill="#738383"/>
<rect x="365.8" y="146.5" width="14.7" height="1.8" fill="#627272"/>
<rect x="365.8" y="148" width="14.7" height="4.3" fill="#7b8b8b"/>
<rect x="365.8" y="152" width="14.7" height="1.5" fill="#6b7b7b"/>
<rect x="380.2" y="133" width="14.7" height="4.3" fill="#849494"/>
<rect x="380.2" y="137" width="14.7" height="2.3" fill="#7b8b8b"/>
<rect x="380.2" y="139" width="14.7" height="3.8" fill="#849494"/>
<rect x="380.2" y="142.5" width="14.7" height="2.8" fill="#5a6a6a"/>
<rect x="380.2" y="145" width="14.7" height="3.3" fill="#9aa9a9"/>
<rect x="380.2" y="148" width="14.7" height="4.3" fill="#7b8b8b"/>
<rect x="380.2" y="152" width="14.7" height="1.5" fill="#6b7b7b"/>
<rect x="394.6" y="133" width="14.7" height="4.3" fill="#738383"/>
<rect x="394.6" y="137" width="14.7" height="2.3" fill="#9aa9a9"/>
<rect x="394.6" y="139" width="14.7" height="2.8" fill="#6b7b7b"/>
<rect x="394.6" y="141.5" width="14.7" height="2.3" fill="#6b7b7b"/>
<rect x="394.6" y="143.5" width="14.7" height="3.8" fill="#4f6060"/>
<rect x="394.6" y="147" width="14.7" height="2.3" fill="#7b8b8b"/>
<rect x="394.6" y="149" width="14.7" height="2.3" fill="#6b7b7b"/>
<rect x="394.6" y="151" width="14.7" height="2.3" fill="#8e9e9e"/>
<rect x="394.6" y="153" width="14.7" height="0.5" fill="#6b7b7b"/>
<rect x="409" y="133" width="14.7" height="2.8" fill="#5a6a6a"/>
<rect x="409" y="135.5" width="14.7" height="3.3" fill="#738383"/>
<rect x="409" y="138.5" width="14.7" height="4.3" fill="#7b8b8b"/>
<rect x="409" y="142.5" width="14.7" height="4.3" fill="#7b8b8b"/>
<rect x="409" y="146.5" width="14.7" height="4.3" fill="#8e9e9e"/>
<rect x="409" y="150.5" width="14.7" height="3" fill="#7b8b8b"/>
<rect x="423.4" y="133" width="14.7" height="2.8" fill="#738383"/>
<rect x="423.4" y="135.5" width="14.7" height="3.8" fill="#5a6a6a"/>
<rect x="423.4" y="139" width="14.7" height="3.3" fill="#bcc7c7"/>
<rect x="423.4" y="142" width="14.7" height="4.3" fill="#738383"/>
<rect x="423.4" y="146" width="14.7" height="4.3" fill="#627272"/>
<rect x="423.4" y="150" width="14.7" height="3.3" fill="#5a6a6a"/>
<rect x="423.4" y="153" width="14.7" height="0.5" fill="#849494"/>
<rect x="437.8" y="133" width="14.7" height="1.8" fill="#6b7b7b"/>
<rect x="437.8" y="134.5" width="14.7" height="2.8" fill="#9aa9a9"/>
<rect x="437.8" y="137" width="14.7" height="4.3" fill="#738383"/>
<rect x="437.8" y="141" width="14.7" height="1.8" fill="#bcc7c7"/>
<rect x="437.8" y="142.5" width="14.7" height="4.3" fill="#7b8b8b"/>
<rect x="437.8" y="146.5" width="14.7" height="4.3" fill="#738383"/>
<rect x="437.8" y="150.5" width="14.7" height="3" fill="#4f6060"/>
<rect x="452.2" y="133" width="14.7" height="3.3" fill="#627272"/>
<rect x="452.2" y="136" width="14.7" height="1.8" fill="#738383"/>
<rect x="452.2" y="137.5" width="14.7" height="4.3" fill="#6b7b7b"/>
<rect x="452.2" y="141.5" width="14.7" height="2.3" fill="#738383"/>
<rect x="452.2" y="143.5" width="14.7" height="2.8" fill="#6b7b7b"/>
<rect x="452.2" y="146" width="14.7" height="3.8" fill="#6b7b7b"/>
<rect x="452.2" y="149.5" width="14.7" height="1.8" fill="#738383"/>
<rect x="452.2" y="151" width="14.7" height="2.5" fill="#7b8b8b"/>
<rect x="466.6" y="133" width="14.7" height="3.3" fill="#5a6a6a"/>
<rect x="466.6" y="136" width="14.7" height="4.3" fill="#738383"/>
<rect x="466.6" y="140" width="14.7" height="2.3" fill="#7b8b8b"/>
<rect x="466.6" y="142" width="14.7" height="2.8" fill="#8e9e9e"/>
<rect x="466.6" y="144.5" width="14.7" height="3.8" fill="#8e9e9e"/>
<rect x="466.6" y="148" width="14.7" height="2.8" fill="#849494"/>
<rect x="466.6" y="150.5" width="14.7" height="2.3" fill="#738383"/>
<rect x="466.6" y="152.5" width="14.7" height="1" fill="#4f6060"/>
<rect x="481" y="133" width="14.7" height="2.8" fill="#6b7b7b"/>
<rect x="481" y="135.5" width="14.7" height="3.3" fill="#6b7b7b"/>
<rect x="481" y="138.5" width="14.7" height="3.8" fill="#738383"/>
<rect x="481" y="142" width="14.7" height="2.8" fill="#8e9e9e"/>
<rect x="481" y="144.5" width="14.7" height="3.8" fill="#6b7b7b"/>
<rect x="481" y="148" width="14.7" height="3.3" fill="#6b7b7b"/>
<rect x="481" y="151" width="14.7" height="1.8" fill="#627272"/>
<rect x="481" y="152.5" width="14.7" height="1" fill="#5a6a6a"/>
<rect x="495.4" y="133" width="14.7" height="4.3" fill="#bcc7c7"/>
<rect x="495.4" y="137" width="14.7" height="1.8" fill="#849494"/>
<rect x="495.4" y="138.5" width="14.7" height="2.3" fill="#738383"/>
<rect x="495.4" y="140.5" width="14.7" height="2.3" fill="#7b8b8b"/>
<rect x="495.4" y="142.5" width="14.7" height="1.8" fill="#627272"/>
<rect x="495.4" y="144" width="14.7" height="2.8" fill="#7b8b8b"/>
<rect x="495.4" y="146.5" width="14.7" height="4.3" fill="#7b8b8b"/>
<rect x="495.4" y="150.5" width="14.7" height="2.8" fill="#a8b5b5"/>
<rect x="495.4" y="153" width="14.7" height="0.5" fill="#6b7b7b"/>
<rect x="509.8" y="133" width="14.7" height="2.8" fill="#738383"/>
<rect x="509.8" y="135.5" width="14.7" height="3.8" fill="#627272"/>
<rect x="509.8" y="139" width="14.7" height="3.3" fill="#738383"/>
<rect x="509.8" y="142" width="14.7" height="2.8" fill="#6b7b7b"/>
<rect x="509.8" y="144.5" width="14.7" height="1.8" fill="#627272"/>
<rect x="509.8" y="146" width="14.7" height="2.8" fill="#7b8b8b"/>
<rect x="509.8" y="148.5" width="14.7" height="3.8" fill="#627272"/>
<rect x="509.8" y="152" width="14.7" height="1.5" fill="#6b7b7b"/>
<rect x="524.2" y="133" width="14.7" height="2.8" fill="#6b7b7b"/>
<rect x="524.2" y="135.5" width="14.7" height="2.8" fill="#9aa9a9"/>
<rect x="524.2" y="138" width="14.7" height="1.8" fill="#5a6a6a"/>
<rect x="524.2" y="139.5" width="14.7" height="4.3" fill="#9aa9a9"/>
<rect x="524.2" y="143.5" width="14.7" height="4.3" fill="#6b7b7b"/>
<rect x="524.2" y="147.5" width="14.7" height="1.8" fill="#8e9e9e"/>
<rect x="524.2" y="149" width="14.7" height="2.3" fill="#4f6060"/>
<rect x="524.2" y="151" width="14.7" height="2.3" fill="#738383"/>
<rect x="524.2" y="153" width="14.7" height="0.5" fill="#738383"/>
<rect x="538.6" y="133" width="14.7" height="2.3" fill="#a8b5b5"/>
<rect x="538.6" y="135" width="14.7" height="4.3" fill="#7b8b8b"/>
<rect x="538.6" y="139" width="14.7" height="2.3" fill="#738383"/>
<rect x="538.6" y="141" width="14.7" height="1.8" fill="#738383"/>
<rect x="538.6" y="142.5" width="14.7" height="1.8" fill="#849494"/>
<rect x="538.6" y="144" width="14.7" height="1.8" fill="#5a6a6a"/>
<rect x="538.6" y="145.5" width="14.7" height="2.8" fill="#627272"/>
<rect x="538.6" y="148" width="14.7" height="2.8" fill="#738383"/>
<rect x="538.6" y="150.5" width="14.7" height="2.3" fill="#6b7b7b"/>
<rect x="538.6" y="152.5" width="14.7" height="1" fill="#6b7b7b"/>
<rect x="553" y="133" width="14.7" height="1.8" fill="#6b7b7b"/>
<rect x="553" y="134.5" width="14.7" height="2.8" fill="#738383"/>
<rect x="553" y="137" width="14.7" height="3.8" fill="#627272"/>
<rect x="553" y="140.5" width="14.7" height="4.3" fill="#627272"/>
<rect x="553" y="144.5" width="14.7" height="1.8" fill="#738383"/>
<rect x="553" y="146" width="14.7" height="2.8" fill="#627272"/>
<rect x="553" y="148.5" width="14.7" height="4.3" fill="#627272"/>
<rect x="553" y="152.5" width="14.7" height="1" fill="#7b8b8b"/>
<rect x="567.4" y="133" width="14.7" height="4.3" fill="#6b7b7b"/>
<rect x="567.4" y="137" width="14.7" height="4.3" fill="#4f6060"/>
<rect x="567.4" y="141" width="14.7" height="3.8" fill="#738383"/>
<rect x="567.4" y="144.5" width="14.7" height="3.3" fill="#7b8b8b"/>
<rect x="567.4" y="147.5" width="14.7" height="3.3" fill="#627272"/>
<rect x="567.4" y="150.5" width="14.7" height="1.8" fill="#7b8b8b"/>
<rect x="567.4" y="152" width="14.7" height="1.5" fill="#738383"/>
<rect x="581.8" y="133" width="14.7" height="3.8" fill="#627272"/>
<rect x="581.8" y="136.5" width="14.7" height="4.3" fill="#8e9e9e"/>
<rect x="581.8" y="140.5" width="14.7" height="1.8" fill="#849494"/>
<rect x="581.8" y="142" width="14.7" height="3.3" fill="#627272"/>
<rect x="581.8" y="145" width="14.7" height="4.3" fill="#5a6a6a"/>
<rect x="581.8" y="149" width="14.7" height="4.3" fill="#627272"/>
<rect x="581.8" y="153" width="14.7" height="0.5" fill="#6b7b7b"/>
<rect x="596.2" y="133" width="1.3" height="3.8" fill="#7b8b8b"/>
<rect x="596.2" y="136.5" width="1.3" height="4.3" fill="#627272"/>
<rect x="596.2" y="140.5" width="1.3" height="1.8" fill="#738383"/>
<rect x="596.2" y="142" width="1.3" height="2.8" fill="#6b7b7b"/>
<rect x="596.2" y="144.5" width="1.3" height="1.8" fill="#7b8b8b"/>
<rect x="596.2" y="146" width="1.3" height="4.3" fill="#738383"/>
<rect x="596.2" y="150" width="1.3" height="3.5" fill="#7b8b8b"/>
<rect x="92.2" y="132.6" width="505" height="1.4" fill="#566666" opacity="0.8"/>
<line x1="92.2" y1="153.2" x2="597.2" y2="153.2" stroke="#111" stroke-width="2" stroke-dasharray="11 5.8 2.5 5.8"/>
<rect x="647.8" y="92.6" width="504.7" height="40.4" fill="#9bffff"/>
<rect x="647.8" y="133" width="504.7" height="20.2" fill="#7b8b8b"/>
<rect x="647.8" y="133" width="14.7" height="3.3" fill="#849494"/>
<rect x="647.8" y="136" width="14.7" height="2.8" fill="#8e9e9e"/>
<rect x="647.8" y="138.5" width="14.7" height="2.3" fill="#6b7b7b"/>
<rect x="647.8" y="140.5" width="14.7" height="3.3" fill="#627272"/>
<rect x="647.8" y="143.5" width="14.7" height="1.8" fill="#8e9e9e"/>
<rect x="647.8" y="145" width="14.7" height="2.8" fill="#7b8b8b"/>
<rect x="647.8" y="147.5" width="14.7" height="2.3" fill="#7b8b8b"/>
<rect x="647.8" y="149.5" width="14.7" height="2.3" fill="#738383"/>
<rect x="647.8" y="151.5" width="14.7" height="2" fill="#627272"/>
<rect x="662.2" y="133" width="14.7" height="4.3" fill="#738383"/>
<rect x="662.2" y="137" width="14.7" height="3.8" fill="#627272"/>
<rect x="662.2" y="140.5" width="14.7" height="2.3" fill="#849494"/>
<rect x="662.2" y="142.5" width="14.7" height="2.3" fill="#8e9e9e"/>
<rect x="662.2" y="144.5" width="14.7" height="2.8" fill="#5a6a6a"/>
<rect x="662.2" y="147" width="14.7" height="2.8" fill="#5a6a6a"/>
<rect x="662.2" y="149.5" width="14.7" height="3.8" fill="#bcc7c7"/>
<rect x="662.2" y="153" width="14.7" height="0.5" fill="#738383"/>
<rect x="676.6" y="133" width="14.7" height="1.8" fill="#a8b5b5"/>
<rect x="676.6" y="134.5" width="14.7" height="2.3" fill="#849494"/>
<rect x="676.6" y="136.5" width="14.7" height="2.3" fill="#6b7b7b"/>
<rect x="676.6" y="138.5" width="14.7" height="4.3" fill="#738383"/>
<rect x="676.6" y="142.5" width="14.7" height="4.3" fill="#7b8b8b"/>
<rect x="676.6" y="146.5" width="14.7" height="4.3" fill="#738383"/>
<rect x="676.6" y="150.5" width="14.7" height="3" fill="#7b8b8b"/>
<rect x="691" y="133" width="14.7" height="2.8" fill="#8e9e9e"/>
<rect x="691" y="135.5" width="14.7" height="2.3" fill="#627272"/>
<rect x="691" y="137.5" width="14.7" height="3.3" fill="#6b7b7b"/>
<rect x="691" y="140.5" width="14.7" height="3.8" fill="#7b8b8b"/>
<rect x="691" y="144" width="14.7" height="2.8" fill="#7b8b8b"/>
<rect x="691" y="146.5" width="14.7" height="3.8" fill="#9aa9a9"/>
<rect x="691" y="150" width="14.7" height="2.3" fill="#5a6a6a"/>
<rect x="691" y="152" width="14.7" height="1.5" fill="#6b7b7b"/>
<rect x="705.4" y="133" width="14.7" height="1.8" fill="#627272"/>
<rect x="705.4" y="134.5" width="14.7" height="2.3" fill="#738383"/>
<rect x="705.4" y="136.5" width="14.7" height="2.8" fill="#627272"/>
<rect x="705.4" y="139" width="14.7" height="2.8" fill="#4f6060"/>
<rect x="705.4" y="141.5" width="14.7" height="1.8" fill="#849494"/>
<rect x="705.4" y="143" width="14.7" height="1.8" fill="#738383"/>
<rect x="705.4" y="144.5" width="14.7" height="2.3" fill="#849494"/>
<rect x="705.4" y="146.5" width="14.7" height="4.3" fill="#738383"/>
<rect x="705.4" y="150.5" width="14.7" height="3" fill="#7b8b8b"/>
<rect x="719.8" y="133" width="14.7" height="1.8" fill="#738383"/>
<rect x="719.8" y="134.5" width="14.7" height="1.8" fill="#4f6060"/>
<rect x="719.8" y="136" width="14.7" height="3.3" fill="#6b7b7b"/>
<rect x="719.8" y="139" width="14.7" height="3.8" fill="#a8b5b5"/>
<rect x="719.8" y="142.5" width="14.7" height="3.8" fill="#6b7b7b"/>
<rect x="719.8" y="146" width="14.7" height="4.3" fill="#849494"/>
<rect x="719.8" y="150" width="14.7" height="3.5" fill="#627272"/>
<rect x="734.2" y="133" width="14.7" height="3.3" fill="#627272"/>
<rect x="734.2" y="136" width="14.7" height="2.8" fill="#6b7b7b"/>
<rect x="734.2" y="138.5" width="14.7" height="2.3" fill="#627272"/>
<rect x="734.2" y="140.5" width="14.7" height="2.3" fill="#7b8b8b"/>
<rect x="734.2" y="142.5" width="14.7" height="3.8" fill="#849494"/>
<rect x="734.2" y="146" width="14.7" height="2.3" fill="#4f6060"/>
<rect x="734.2" y="148" width="14.7" height="3.3" fill="#9aa9a9"/>
<rect x="734.2" y="151" width="14.7" height="2.5" fill="#9aa9a9"/>
<rect x="748.6" y="133" width="14.7" height="1.8" fill="#6b7b7b"/>
<rect x="748.6" y="134.5" width="14.7" height="3.3" fill="#5a6a6a"/>
<rect x="748.6" y="137.5" width="14.7" height="3.3" fill="#738383"/>
<rect x="748.6" y="140.5" width="14.7" height="2.3" fill="#9aa9a9"/>
<rect x="748.6" y="142.5" width="14.7" height="2.3" fill="#5a6a6a"/>
<rect x="748.6" y="144.5" width="14.7" height="2.8" fill="#627272"/>
<rect x="748.6" y="147" width="14.7" height="2.3" fill="#627272"/>
<rect x="748.6" y="149" width="14.7" height="4.3" fill="#8e9e9e"/>
<rect x="748.6" y="153" width="14.7" height="0.5" fill="#a8b5b5"/>
<rect x="763" y="133" width="14.7" height="3.8" fill="#849494"/>
<rect x="763" y="136.5" width="14.7" height="2.8" fill="#627272"/>
<rect x="763" y="139" width="14.7" height="4.3" fill="#738383"/>
<rect x="763" y="143" width="14.7" height="2.3" fill="#7b8b8b"/>
<rect x="763" y="145" width="14.7" height="3.8" fill="#6b7b7b"/>
<rect x="763" y="148.5" width="14.7" height="2.3" fill="#7b8b8b"/>
<rect x="763" y="150.5" width="14.7" height="2.3" fill="#6b7b7b"/>
<rect x="763" y="152.5" width="14.7" height="1" fill="#627272"/>
<rect x="777.4" y="133" width="14.7" height="3.8" fill="#849494"/>
<rect x="777.4" y="136.5" width="14.7" height="4.3" fill="#9aa9a9"/>
<rect x="777.4" y="140.5" width="14.7" height="1.8" fill="#6b7b7b"/>
<rect x="777.4" y="142" width="14.7" height="3.3" fill="#5a6a6a"/>
<rect x="777.4" y="145" width="14.7" height="3.8" fill="#7b8b8b"/>
<rect x="777.4" y="148.5" width="14.7" height="1.8" fill="#7b8b8b"/>
<rect x="777.4" y="150" width="14.7" height="1.8" fill="#627272"/>
<rect x="777.4" y="151.5" width="14.7" height="2" fill="#7b8b8b"/>
<rect x="791.8" y="133" width="14.7" height="2.8" fill="#849494"/>
<rect x="791.8" y="135.5" width="14.7" height="4.3" fill="#738383"/>
<rect x="791.8" y="139.5" width="14.7" height="2.8" fill="#738383"/>
<rect x="791.8" y="142" width="14.7" height="2.8" fill="#6b7b7b"/>
<rect x="791.8" y="144.5" width="14.7" height="3.3" fill="#738383"/>
<rect x="791.8" y="147.5" width="14.7" height="2.8" fill="#738383"/>
<rect x="791.8" y="150" width="14.7" height="2.3" fill="#738383"/>
<rect x="791.8" y="152" width="14.7" height="1.5" fill="#849494"/>
<rect x="806.2" y="133" width="14.7" height="4.3" fill="#8e9e9e"/>
<rect x="806.2" y="137" width="14.7" height="1.8" fill="#5a6a6a"/>
<rect x="806.2" y="138.5" width="14.7" height="3.8" fill="#8e9e9e"/>
<rect x="806.2" y="142" width="14.7" height="3.3" fill="#738383"/>
<rect x="806.2" y="145" width="14.7" height="2.8" fill="#738383"/>
<rect x="806.2" y="147.5" width="14.7" height="2.8" fill="#849494"/>
<rect x="806.2" y="150" width="14.7" height="3.3" fill="#5a6a6a"/>
<rect x="806.2" y="153" width="14.7" height="0.5" fill="#738383"/>
<rect x="820.6" y="133" width="14.7" height="1.8" fill="#738383"/>
<rect x="820.6" y="134.5" width="14.7" height="2.3" fill="#5a6a6a"/>
<rect x="820.6" y="136.5" width="14.7" height="2.8" fill="#6b7b7b"/>
<rect x="820.6" y="139" width="14.7" height="3.3" fill="#6b7b7b"/>
<rect x="820.6" y="142" width="14.7" height="2.3" fill="#627272"/>
<rect x="820.6" y="144" width="14.7" height="3.8" fill="#5a6a6a"/>
<rect x="820.6" y="147.5" width="14.7" height="2.8" fill="#738383"/>
<rect x="820.6" y="150" width="14.7" height="1.8" fill="#6b7b7b"/>
<rect x="820.6" y="151.5" width="14.7" height="2" fill="#627272"/>
<rect x="835" y="133" width="14.7" height="2.3" fill="#6b7b7b"/>
<rect x="835" y="135" width="14.7" height="3.8" fill="#738383"/>
<rect x="835" y="138.5" width="14.7" height="4.3" fill="#6b7b7b"/>
<rect x="835" y="142.5" width="14.7" height="1.8" fill="#627272"/>
<rect x="835" y="144" width="14.7" height="2.3" fill="#7b8b8b"/>
<rect x="835" y="146" width="14.7" height="4.3" fill="#a8b5b5"/>
<rect x="835" y="150" width="14.7" height="3.5" fill="#4f6060"/>
<rect x="849.4" y="133" width="14.7" height="3.8" fill="#627272"/>
<rect x="849.4" y="136.5" width="14.7" height="3.8" fill="#6b7b7b"/>
<rect x="849.4" y="140" width="14.7" height="2.3" fill="#738383"/>
<rect x="849.4" y="142" width="14.7" height="3.3" fill="#5a6a6a"/>
<rect x="849.4" y="145" width="14.7" height="4.3" fill="#5a6a6a"/>
<rect x="849.4" y="149" width="14.7" height="3.3" fill="#738383"/>
<rect x="849.4" y="152" width="14.7" height="1.5" fill="#7b8b8b"/>
<rect x="863.8" y="133" width="14.7" height="1.8" fill="#6b7b7b"/>
<rect x="863.8" y="134.5" width="14.7" height="3.3" fill="#5a6a6a"/>
<rect x="863.8" y="137.5" width="14.7" height="2.8" fill="#738383"/>
<rect x="863.8" y="140" width="14.7" height="2.8" fill="#627272"/>
<rect x="863.8" y="142.5" width="14.7" height="3.8" fill="#7b8b8b"/>
<rect x="863.8" y="146" width="14.7" height="3.8" fill="#627272"/>
<rect x="863.8" y="149.5" width="14.7" height="1.8" fill="#627272"/>
<rect x="863.8" y="151" width="14.7" height="2.3" fill="#5a6a6a"/>
<rect x="863.8" y="153" width="14.7" height="0.5" fill="#6b7b7b"/>
<rect x="878.2" y="133" width="14.7" height="2.3" fill="#7b8b8b"/>
<rect x="878.2" y="135" width="14.7" height="3.3" fill="#738383"/>
<rect x="878.2" y="138" width="14.7" height="1.8" fill="#738383"/>
<rect x="878.2" y="139.5" width="14.7" height="2.3" fill="#6b7b7b"/>
<rect x="878.2" y="141.5" width="14.7" height="2.3" fill="#738383"/>
<rect x="878.2" y="143.5" width="14.7" height="3.8" fill="#6b7b7b"/>
<rect x="878.2" y="147" width="14.7" height="4.3" fill="#d6dede"/>
<rect x="878.2" y="151" width="14.7" height="2.3" fill="#9aa9a9"/>
<rect x="878.2" y="153" width="14.7" height="0.5" fill="#7b8b8b"/>
<rect x="892.6" y="133" width="14.7" height="3.8" fill="#7b8b8b"/>
<rect x="892.6" y="136.5" width="14.7" height="2.3" fill="#7b8b8b"/>
<rect x="892.6" y="138.5" width="14.7" height="3.3" fill="#8e9e9e"/>
<rect x="892.6" y="141.5" width="14.7" height="1.8" fill="#7b8b8b"/>
<rect x="892.6" y="143" width="14.7" height="1.8" fill="#849494"/>
<rect x="892.6" y="144.5" width="14.7" height="1.8" fill="#7b8b8b"/>
<rect x="892.6" y="146" width="14.7" height="1.8" fill="#627272"/>
<rect x="892.6" y="147.5" width="14.7" height="3.8" fill="#6b7b7b"/>
<rect x="892.6" y="151" width="14.7" height="2.5" fill="#6b7b7b"/>
<rect x="907" y="133" width="14.7" height="2.8" fill="#849494"/>
<rect x="907" y="135.5" width="14.7" height="3.3" fill="#7b8b8b"/>
<rect x="907" y="138.5" width="14.7" height="3.8" fill="#6b7b7b"/>
<rect x="907" y="142" width="14.7" height="3.3" fill="#8e9e9e"/>
<rect x="907" y="145" width="14.7" height="3.8" fill="#627272"/>
<rect x="907" y="148.5" width="14.7" height="1.8" fill="#7b8b8b"/>
<rect x="907" y="150" width="14.7" height="3.5" fill="#9aa9a9"/>
<rect x="921.4" y="133" width="14.7" height="2.8" fill="#6b7b7b"/>
<rect x="921.4" y="135.5" width="14.7" height="3.3" fill="#849494"/>
<rect x="921.4" y="138.5" width="14.7" height="3.3" fill="#738383"/>
<rect x="921.4" y="141.5" width="14.7" height="2.8" fill="#6b7b7b"/>
<rect x="921.4" y="144" width="14.7" height="2.8" fill="#738383"/>
<rect x="921.4" y="146.5" width="14.7" height="1.8" fill="#627272"/>
<rect x="921.4" y="148" width="14.7" height="4.3" fill="#7b8b8b"/>
<rect x="921.4" y="152" width="14.7" height="1.5" fill="#6b7b7b"/>
<rect x="935.8" y="133" width="14.7" height="4.3" fill="#849494"/>
<rect x="935.8" y="137" width="14.7" height="2.3" fill="#7b8b8b"/>
<rect x="935.8" y="139" width="14.7" height="3.8" fill="#849494"/>
<rect x="935.8" y="142.5" width="14.7" height="2.8" fill="#5a6a6a"/>
<rect x="935.8" y="145" width="14.7" height="3.3" fill="#9aa9a9"/>
<rect x="935.8" y="148" width="14.7" height="4.3" fill="#7b8b8b"/>
<rect x="935.8" y="152" width="14.7" height="1.5" fill="#6b7b7b"/>
<rect x="950.2" y="133" width="14.7" height="4.3" fill="#738383"/>
<rect x="950.2" y="137" width="14.7" height="2.3" fill="#9aa9a9"/>
<rect x="950.2" y="139" width="14.7" height="2.8" fill="#6b7b7b"/>
<rect x="950.2" y="141.5" width="14.7" height="2.3" fill="#6b7b7b"/>
<rect x="950.2" y="143.5" width="14.7" height="3.8" fill="#4f6060"/>
<rect x="950.2" y="147" width="14.7" height="2.3" fill="#7b8b8b"/>
<rect x="950.2" y="149" width="14.7" height="2.3" fill="#6b7b7b"/>
<rect x="950.2" y="151" width="14.7" height="2.3" fill="#8e9e9e"/>
<rect x="950.2" y="153" width="14.7" height="0.5" fill="#6b7b7b"/>
<rect x="964.6" y="133" width="14.7" height="2.8" fill="#5a6a6a"/>
<rect x="964.6" y="135.5" width="14.7" height="3.3" fill="#738383"/>
<rect x="964.6" y="138.5" width="14.7" height="4.3" fill="#7b8b8b"/>
<rect x="964.6" y="142.5" width="14.7" height="4.3" fill="#7b8b8b"/>
<rect x="964.6" y="146.5" width="14.7" height="4.3" fill="#8e9e9e"/>
<rect x="964.6" y="150.5" width="14.7" height="3" fill="#7b8b8b"/>
<rect x="979" y="133" width="14.7" height="2.8" fill="#738383"/>
<rect x="979" y="135.5" width="14.7" height="3.8" fill="#5a6a6a"/>
<rect x="979" y="139" width="14.7" height="3.3" fill="#bcc7c7"/>
<rect x="979" y="142" width="14.7" height="4.3" fill="#738383"/>
<rect x="979" y="146" width="14.7" height="4.3" fill="#627272"/>
<rect x="979" y="150" width="14.7" height="3.3" fill="#5a6a6a"/>
<rect x="979" y="153" width="14.7" height="0.5" fill="#849494"/>
<rect x="993.4" y="133" width="14.7" height="1.8" fill="#6b7b7b"/>
<rect x="993.4" y="134.5" width="14.7" height="2.8" fill="#9aa9a9"/>
<rect x="993.4" y="137" width="14.7" height="4.3" fill="#738383"/>
<rect x="993.4" y="141" width="14.7" height="1.8" fill="#bcc7c7"/>
<rect x="993.4" y="142.5" width="14.7" height="4.3" fill="#7b8b8b"/>
<rect x="993.4" y="146.5" width="14.7" height="4.3" fill="#738383"/>
<rect x="993.4" y="150.5" width="14.7" height="3" fill="#4f6060"/>
<rect x="1007.8" y="133" width="14.7" height="3.3" fill="#627272"/>
<rect x="1007.8" y="136" width="14.7" height="1.8" fill="#738383"/>
<rect x="1007.8" y="137.5" width="14.7" height="4.3" fill="#6b7b7b"/>
<rect x="1007.8" y="141.5" width="14.7" height="2.3" fill="#738383"/>
<rect x="1007.8" y="143.5" width="14.7" height="2.8" fill="#6b7b7b"/>
<rect x="1007.8" y="146" width="14.7" height="3.8" fill="#6b7b7b"/>
<rect x="1007.8" y="149.5" width="14.7" height="1.8" fill="#738383"/>
<rect x="1007.8" y="151" width="14.7" height="2.5" fill="#7b8b8b"/>
<rect x="1022.2" y="133" width="14.7" height="3.3" fill="#5a6a6a"/>
<rect x="1022.2" y="136" width="14.7" height="4.3" fill="#738383"/>
<rect x="1022.2" y="140" width="14.7" height="2.3" fill="#7b8b8b"/>
<rect x="1022.2" y="142" width="14.7" height="2.8" fill="#8e9e9e"/>
<rect x="1022.2" y="144.5" width="14.7" height="3.8" fill="#8e9e9e"/>
<rect x="1022.2" y="148" width="14.7" height="2.8" fill="#849494"/>
<rect x="1022.2" y="150.5" width="14.7" height="2.3" fill="#738383"/>
<rect x="1022.2" y="152.5" width="14.7" height="1" fill="#4f6060"/>
<rect x="1036.6" y="133" width="14.7" height="2.8" fill="#6b7b7b"/>
<rect x="1036.6" y="135.5" width="14.7" height="3.3" fill="#6b7b7b"/>
<rect x="1036.6" y="138.5" width="14.7" height="3.8" fill="#738383"/>
<rect x="1036.6" y="142" width="14.7" height="2.8" fill="#8e9e9e"/>
<rect x="1036.6" y="144.5" width="14.7" height="3.8" fill="#6b7b7b"/>
<rect x="1036.6" y="148" width="14.7" height="3.3" fill="#6b7b7b"/>
<rect x="1036.6" y="151" width="14.7" height="1.8" fill="#627272"/>
<rect x="1036.6" y="152.5" width="14.7" height="1" fill="#5a6a6a"/>
<rect x="1051" y="133" width="14.7" height="4.3" fill="#bcc7c7"/>
<rect x="1051" y="137" width="14.7" height="1.8" fill="#849494"/>
<rect x="1051" y="138.5" width="14.7" height="2.3" fill="#738383"/>
<rect x="1051" y="140.5" width="14.7" height="2.3" fill="#7b8b8b"/>
<rect x="1051" y="142.5" width="14.7" height="1.8" fill="#627272"/>
<rect x="1051" y="144" width="14.7" height="2.8" fill="#7b8b8b"/>
<rect x="1051" y="146.5" width="14.7" height="4.3" fill="#7b8b8b"/>
<rect x="1051" y="150.5" width="14.7" height="2.8" fill="#a8b5b5"/>
<rect x="1051" y="153" width="14.7" height="0.5" fill="#6b7b7b"/>
<rect x="1065.4" y="133" width="14.7" height="2.8" fill="#738383"/>
<rect x="1065.4" y="135.5" width="14.7" height="3.8" fill="#627272"/>
<rect x="1065.4" y="139" width="14.7" height="3.3" fill="#738383"/>
<rect x="1065.4" y="142" width="14.7" height="2.8" fill="#6b7b7b"/>
<rect x="1065.4" y="144.5" width="14.7" height="1.8" fill="#627272"/>
<rect x="1065.4" y="146" width="14.7" height="2.8" fill="#7b8b8b"/>
<rect x="1065.4" y="148.5" width="14.7" height="3.8" fill="#627272"/>
<rect x="1065.4" y="152" width="14.7" height="1.5" fill="#6b7b7b"/>
<rect x="1079.8" y="133" width="14.7" height="2.8" fill="#6b7b7b"/>
<rect x="1079.8" y="135.5" width="14.7" height="2.8" fill="#9aa9a9"/>
<rect x="1079.8" y="138" width="14.7" height="1.8" fill="#5a6a6a"/>
<rect x="1079.8" y="139.5" width="14.7" height="4.3" fill="#9aa9a9"/>
<rect x="1079.8" y="143.5" width="14.7" height="4.3" fill="#6b7b7b"/>
<rect x="1079.8" y="147.5" width="14.7" height="1.8" fill="#8e9e9e"/>
<rect x="1079.8" y="149" width="14.7" height="2.3" fill="#4f6060"/>
<rect x="1079.8" y="151" width="14.7" height="2.3" fill="#738383"/>
<rect x="1079.8" y="153" width="14.7" height="0.5" fill="#738383"/>
<rect x="1094.2" y="133" width="14.7" height="2.3" fill="#a8b5b5"/>
<rect x="1094.2" y="135" width="14.7" height="4.3" fill="#7b8b8b"/>
<rect x="1094.2" y="139" width="14.7" height="2.3" fill="#738383"/>
<rect x="1094.2" y="141" width="14.7" height="1.8" fill="#738383"/>
<rect x="1094.2" y="142.5" width="14.7" height="1.8" fill="#849494"/>
<rect x="1094.2" y="144" width="14.7" height="1.8" fill="#5a6a6a"/>
<rect x="1094.2" y="145.5" width="14.7" height="2.8" fill="#627272"/>
<rect x="1094.2" y="148" width="14.7" height="2.8" fill="#738383"/>
<rect x="1094.2" y="150.5" width="14.7" height="2.3" fill="#6b7b7b"/>
<rect x="1094.2" y="152.5" width="14.7" height="1" fill="#6b7b7b"/>
<rect x="1108.6" y="133" width="14.7" height="1.8" fill="#6b7b7b"/>
<rect x="1108.6" y="134.5" width="14.7" height="2.8" fill="#738383"/>
<rect x="1108.6" y="137" width="14.7" height="3.8" fill="#627272"/>
<rect x="1108.6" y="140.5" width="14.7" height="4.3" fill="#627272"/>
<rect x="1108.6" y="144.5" width="14.7" height="1.8" fill="#738383"/>
<rect x="1108.6" y="146" width="14.7" height="2.8" fill="#627272"/>
<rect x="1108.6" y="148.5" width="14.7" height="4.3" fill="#627272"/>
<rect x="1108.6" y="152.5" width="14.7" height="1" fill="#7b8b8b"/>
<rect x="1123" y="133" width="14.7" height="4.3" fill="#6b7b7b"/>
<rect x="1123" y="137" width="14.7" height="4.3" fill="#4f6060"/>
<rect x="1123" y="141" width="14.7" height="3.8" fill="#738383"/>
<rect x="1123" y="144.5" width="14.7" height="3.3" fill="#7b8b8b"/>
<rect x="1123" y="147.5" width="14.7" height="3.3" fill="#627272"/>
<rect x="1123" y="150.5" width="14.7" height="1.8" fill="#7b8b8b"/>
<rect x="1123" y="152" width="14.7" height="1.5" fill="#738383"/>
<rect x="1137.4" y="133" width="14.7" height="3.8" fill="#627272"/>
<rect x="1137.4" y="136.5" width="14.7" height="4.3" fill="#8e9e9e"/>
<rect x="1137.4" y="140.5" width="14.7" height="1.8" fill="#849494"/>
<rect x="1137.4" y="142" width="14.7" height="3.3" fill="#627272"/>
<rect x="1137.4" y="145" width="14.7" height="4.3" fill="#5a6a6a"/>
<rect x="1137.4" y="149" width="14.7" height="4.3" fill="#627272"/>
<rect x="1137.4" y="153" width="14.7" height="0.5" fill="#6b7b7b"/>
<rect x="1151.8" y="133" width="1" height="3.8" fill="#7b8b8b"/>
<rect x="1151.8" y="136.5" width="1" height="4.3" fill="#627272"/>
<rect x="1151.8" y="140.5" width="1" height="1.8" fill="#738383"/>
<rect x="1151.8" y="142" width="1" height="2.8" fill="#6b7b7b"/>
<rect x="1151.8" y="144.5" width="1" height="1.8" fill="#7b8b8b"/>
<rect x="1151.8" y="146" width="1" height="4.3" fill="#738383"/>
<rect x="1151.8" y="150" width="1" height="3.5" fill="#7b8b8b"/>
<rect x="647.8" y="132.6" width="504.7" height="1.4" fill="#566666" opacity="0.8"/>
<line x1="647.8" y1="153.2" x2="1152.5" y2="153.2" stroke="#111" stroke-width="2" stroke-dasharray="11 5.8 2.5 5.8"/>
<polyline points="385.1,171.6 302.9,197.9 257,224.2 235.2,250.5 223.2,276.8 217.5,303.2 210.8,329.5 206.3,355.8 204.6,382.1 205.2,408.4 201.4,434.8 199.9,461.1 199.9,487.4 199.6,513.7 196.8,540 196.4,566.4 196.2,592.7 193.5,619 195.9,645.3 193.8,671.6 191.4,698 189.2,724.3" fill="none" stroke="#63777a" stroke-width="1.8" stroke-linejoin="round"/>
<polyline points="526.3,171.6 404.9,197.9 316,224.2 286,250.5 268.8,276.8 268.5,303.2 259.5,329.5 250.3,355.8 253.1,382.1 252.5,408.4 242.4,434.8 237,461.1 234.9,487.4 237.6,513.7 232.6,540 222.8,566.4 225.2,592.7 223.4,619 221.7,645.3 218.5,671.6 219.7,698 215.9,724.3" fill="none" stroke="#0d0d0d" stroke-width="2.2" stroke-linejoin="round"/>
<text transform="translate(165.9 449) scale(1 1.05)" font-size="36" stroke="#586a6e" stroke-width="0.3" style="fill:#586a6e;">S<tspan font-size="18.5" dy="5.6" dx="-1">p</tspan></text>
<text transform="translate(244.3 502.6)" font-size="36" stroke="#111" stroke-width="0.25" style="fill:#111;font-family:'Liberation Serif', serif;">θ<tspan font-size="17.4" dy="7.2" dx="0.6" style="font-family:'Liberation Sans', sans-serif">0</tspan></text>
<rect x="974" y="159.5" width="12" height="24.2" fill="#0b0b0b"/>
<rect x="927.3" y="185.8" width="12" height="24.2" fill="#0b0b0b"/>
<rect x="876.6" y="212.1" width="12" height="24.2" fill="#0b0b0b"/>
<rect x="851.5" y="238.4" width="12" height="24.2" fill="#0b0b0b"/>
<rect x="842.7" y="264.7" width="12" height="24.2" fill="#0b0b0b"/>
<rect x="837.9" y="291.1" width="12" height="24.2" fill="#0b0b0b"/>
<rect x="832.2" y="317.4" width="12" height="24.2" fill="#0b0b0b"/>
<rect x="826.9" y="343.7" width="12" height="24.2" fill="#0b0b0b"/>
<rect x="824.2" y="370" width="12" height="24.2" fill="#0b0b0b"/>
<rect x="822.5" y="396.3" width="12" height="24.2" fill="#0b0b0b"/>
<rect x="820.7" y="422.7" width="12" height="24.2" fill="#0b0b0b"/>
<rect x="818.6" y="449" width="12" height="24.2" fill="#0b0b0b"/>
<rect x="817.2" y="475.3" width="12" height="24.2" fill="#0b0b0b"/>
<rect x="813.7" y="501.6" width="12" height="24.2" fill="#0b0b0b"/>
<rect x="810.1" y="527.9" width="12" height="24.2" fill="#0b0b0b"/>
<rect x="808.8" y="554.3" width="12" height="24.2" fill="#0b0b0b"/>
<rect x="807.9" y="580.6" width="12" height="24.2" fill="#0b0b0b"/>
<rect x="806.6" y="606.9" width="12" height="24.2" fill="#0b0b0b"/>
<rect x="803.5" y="633.2" width="12" height="24.2" fill="#0b0b0b"/>
<rect x="802.2" y="659.5" width="12" height="24.2" fill="#0b0b0b"/>
<rect x="799.6" y="685.9" width="12" height="24.2" fill="#0b0b0b"/>
<rect x="797.8" y="712.2" width="12" height="24.2" fill="#0b0b0b"/>
<polyline points="882.3,171.6 877.4,184.7 873.3,197.9 869.6,211 866.3,224.2 863.3,237.4 860.6,250.5 858.1,263.7 855.7,276.8 853.6,290 851.6,303.2 849.7,316.3 847.9,329.5 846.2,342.6 844.6,355.8 843,369 841.6,382.1 840.2,395.3 838.9,408.4 837.6,421.6 836.4,434.8 835.2,447.9 834,461.1 832.9,474.2 831.9,487.4 830.8,500.6 829.9,513.7 828.9,526.9 828,540 827,553.2 826.2,566.4 825.3,579.5 824.5,592.7 823.7,605.8 822.9,619 822.1,632.2 821.3,645.3 820.6,658.5 819.9,671.6 819.2,684.8 818.5,698 817.8,711.1 817.2,724.3" fill="none" stroke="#111" stroke-width="1.5" stroke-dasharray="12 5 2.5 5"/>
<line x1="988" y1="674" x2="1112.4" y2="674" stroke="#111" stroke-width="4.6" stroke-dasharray="19 3.5"/>
<text transform="translate(986.5 708)" font-size="24.2" stroke="#111" stroke-width="0.35" style="fill:#111;font-family:'Liberation Serif', serif;">ε=(<tspan font-style="italic">u</tspan><tspan font-size="12" dy="3.5" dx="0.5">*</tspan><tspan font-size="14" dy="-14.5" dx="0.5" font-style="italic">3</tspan><tspan dy="11" dx="-1" font-style="italic">/Kz</tspan>)</text>
<text transform="translate(986.5 735) scale(1 1.03)" font-size="23.8" stroke="#111" stroke-width="0.35" style="fill:#111;"><tspan style="font-family:'Liberation Serif', serif" font-style="italic" font-size="24.5">u</tspan><tspan style="font-family:'Liberation Serif', serif" font-size="12" dy="3.5" dx="0.5">*</tspan><tspan dy="-3.5" dx="0.5">=0.0035</tspan><tspan dx="2.2"> ms</tspan><tspan font-size="13.5" dy="-10.5" dx="0.3">-1</tspan></text>
<path d="M92.2 92.6v13M117.5 92.6v6.5M142.7 92.6v6.5M168 92.6v6.5M193.2 92.6v6.5M218.5 92.6v13M243.7 92.6v6.5M269 92.6v6.5M294.2 92.6v6.5M319.5 92.6v6.5M344.7 92.6v13M370 92.6v6.5M395.2 92.6v6.5M420.5 92.6v6.5M445.7 92.6v6.5M471 92.6v13M496.2 92.6v6.5M521.5 92.6v6.5M546.7 92.6v6.5M572 92.6v6.5M597.2 92.6v13" stroke="#586a6e" stroke-width="1.5" fill="none"/>
<path d="M719.9 750.6v-13M719.9 92.6v13.2M792 750.6v-13M792 92.6v13.2M864.1 750.6v-13M864.1 92.6v13.2M936.2 750.6v-13M936.2 92.6v13.2M1008.3 750.6v-13M1008.3 92.6v13.2M1080.4 750.6v-13M1080.4 92.6v13.2" stroke="#111" stroke-width="1.9" fill="none"/>
<path d="M92.2 92.6h10M597.2 92.6h-10M647.8 92.6h10M1152.5 92.6h-10M92.2 105.8h5M597.2 105.8h-5M647.8 105.8h5M1152.5 105.8h-5M92.2 118.9h5M597.2 118.9h-5M647.8 118.9h5M1152.5 118.9h-5M92.2 132.1h5M597.2 132.1h-5M647.8 132.1h5M1152.5 132.1h-5M92.2 145.2h5M597.2 145.2h-5M647.8 145.2h5M1152.5 145.2h-5M92.2 158.4h5M597.2 158.4h-5M647.8 158.4h5M1152.5 158.4h-5M92.2 171.6h5M597.2 171.6h-5M647.8 171.6h5M1152.5 171.6h-5M92.2 184.7h5M597.2 184.7h-5M647.8 184.7h5M1152.5 184.7h-5M92.2 197.9h5M597.2 197.9h-5M647.8 197.9h5M1152.5 197.9h-5M92.2 211h5M597.2 211h-5M647.8 211h5M1152.5 211h-5M92.2 224.2h10M597.2 224.2h-10M647.8 224.2h10M1152.5 224.2h-10M92.2 237.4h5M597.2 237.4h-5M647.8 237.4h5M1152.5 237.4h-5M92.2 250.5h5M597.2 250.5h-5M647.8 250.5h5M1152.5 250.5h-5M92.2 263.7h5M597.2 263.7h-5M647.8 263.7h5M1152.5 263.7h-5M92.2 276.8h5M597.2 276.8h-5M647.8 276.8h5M1152.5 276.8h-5M92.2 290h5M597.2 290h-5M647.8 290h5M1152.5 290h-5M92.2 303.2h5M597.2 303.2h-5M647.8 303.2h5M1152.5 303.2h-5M92.2 316.3h5M597.2 316.3h-5M647.8 316.3h5M1152.5 316.3h-5M92.2 329.5h5M597.2 329.5h-5M647.8 329.5h5M1152.5 329.5h-5M92.2 342.6h5M597.2 342.6h-5M647.8 342.6h5M1152.5 342.6h-5M92.2 355.8h10M597.2 355.8h-10M647.8 355.8h10M1152.5 355.8h-10M92.2 369h5M597.2 369h-5M647.8 369h5M1152.5 369h-5M92.2 382.1h5M597.2 382.1h-5M647.8 382.1h5M1152.5 382.1h-5M92.2 395.3h5M597.2 395.3h-5M647.8 395.3h5M1152.5 395.3h-5M92.2 408.4h5M597.2 408.4h-5M647.8 408.4h5M1152.5 408.4h-5M92.2 421.6h5M597.2 421.6h-5M647.8 421.6h5M1152.5 421.6h-5M92.2 434.8h5M597.2 434.8h-5M647.8 434.8h5M1152.5 434.8h-5M92.2 447.9h5M597.2 447.9h-5M647.8 447.9h5M1152.5 447.9h-5M92.2 461.1h5M597.2 461.1h-5M647.8 461.1h5M1152.5 461.1h-5M92.2 474.2h5M597.2 474.2h-5M647.8 474.2h5M1152.5 474.2h-5M92.2 487.4h10M597.2 487.4h-10M647.8 487.4h10M1152.5 487.4h-10M92.2 500.6h5M597.2 500.6h-5M647.8 500.6h5M1152.5 500.6h-5M92.2 513.7h5M597.2 513.7h-5M647.8 513.7h5M1152.5 513.7h-5M92.2 526.9h5M597.2 526.9h-5M647.8 526.9h5M1152.5 526.9h-5M92.2 540h5M597.2 540h-5M647.8 540h5M1152.5 540h-5M92.2 553.2h5M597.2 553.2h-5M647.8 553.2h5M1152.5 553.2h-5M92.2 566.4h5M597.2 566.4h-5M647.8 566.4h5M1152.5 566.4h-5M92.2 579.5h5M597.2 579.5h-5M647.8 579.5h5M1152.5 579.5h-5M92.2 592.7h5M597.2 592.7h-5M647.8 592.7h5M1152.5 592.7h-5M92.2 605.8h5M597.2 605.8h-5M647.8 605.8h5M1152.5 605.8h-5M92.2 619h10M597.2 619h-10M647.8 619h10M1152.5 619h-10M92.2 632.2h5M597.2 632.2h-5M647.8 632.2h5M1152.5 632.2h-5M92.2 645.3h5M597.2 645.3h-5M647.8 645.3h5M1152.5 645.3h-5M92.2 658.5h5M597.2 658.5h-5M647.8 658.5h5M1152.5 658.5h-5M92.2 671.6h5M597.2 671.6h-5M647.8 671.6h5M1152.5 671.6h-5M92.2 684.8h5M597.2 684.8h-5M647.8 684.8h5M1152.5 684.8h-5M92.2 698h5M597.2 698h-5M647.8 698h5M1152.5 698h-5M92.2 711.1h5M597.2 711.1h-5M647.8 711.1h5M1152.5 711.1h-5M92.2 724.3h5M597.2 724.3h-5M647.8 724.3h5M1152.5 724.3h-5M92.2 737.4h5M597.2 737.4h-5M647.8 737.4h5M1152.5 737.4h-5M92.2 750.6h10M597.2 750.6h-10M647.8 750.6h10M1152.5 750.6h-10M92.2 750.6v-13M117.5 750.6v-6.5M142.7 750.6v-6.5M168 750.6v-6.5M193.2 750.6v-13M218.5 750.6v-6.5M243.7 750.6v-6.5M269 750.6v-6.5M294.2 750.6v-13M319.5 750.6v-6.5M344.7 750.6v-6.5M370 750.6v-6.5M395.2 750.6v-13M420.5 750.6v-6.5M445.7 750.6v-6.5M471 750.6v-6.5M496.2 750.6v-13M521.5 750.6v-6.5M546.7 750.6v-6.5M572 750.6v-6.5M597.2 750.6v-13" stroke="#111" stroke-width="1.6" fill="none"/>
<path d="M92.2 92.6V750.6H597.2V92.6" fill="none" stroke="#111" stroke-width="1.9"/>
<line x1="91.2" y1="92.9" x2="596.3" y2="92.9" stroke="#586a6e" stroke-width="2"/>
<rect x="647.8" y="92.6" width="504.7" height="658" fill="none" stroke="#111" stroke-width="1.9"/>
<polyline points="847,58 817.3,58 792.8,111" fill="none" stroke="#111" stroke-width="2.1"/>
<circle cx="792.8" cy="111.2" r="4.7" fill="#111"/>
<polyline points="1033.5,54.7 1000.7,54.7 974.6,142" fill="none" stroke="#111" stroke-width="2.1"/>
<circle cx="974.6" cy="142.3" r="4.6" fill="#111"/>
<text transform="translate(856.6 66.8) scale(1 1.04)" font-size="29.3" stroke="#111" stroke-width="0.3" style="fill:#111;">sea ice</text>
<text transform="translate(1043 67.4) scale(1 1.04)" font-size="29" stroke="#111" stroke-width="0.3" style="fill:#111;">SIPL</text>
<text transform="translate(89.9,30.4) scale(1,1.015)" font-size="28.4" font-weight="bold" stroke="#111" stroke-width="0.7">A</text>
<text transform="translate(653.1,30.4) scale(1,1.015)" font-size="28.4" font-weight="bold" stroke="#111" stroke-width="0.7">B</text>
<text transform="translate(304.3 31.2) scale(1 0.94)" font-size="36" stroke="#586a6e" stroke-width="0.3" style="fill:#586a6e;">S<tspan font-size="16.5" dy="6.8" dx="-0.6">p</tspan><tspan dy="-6.8" dx="1.5" font-size="34.6"> (psu)</tspan></text>
<text transform="translate(100.9 74.7) scale(1 1.045)" font-size="26.8" text-anchor="middle" stroke="#586a6e" stroke-width="0.4" style="fill:#586a6e;">34.620</text>
<text transform="translate(343 74.7) scale(1 1.045)" font-size="26.8" text-anchor="middle" stroke="#586a6e" stroke-width="0.4" style="fill:#586a6e;">34.630</text>
<text transform="translate(587.5 74.7) scale(1 1.045)" font-size="26.8" text-anchor="middle" stroke="#586a6e" stroke-width="0.4" style="fill:#586a6e;">34.64</text>
<text transform="translate(84.6 109.4) scale(1 1.07)" font-size="27.8" text-anchor="end" stroke="#111" stroke-width="0.4" style="fill:#111;">0</text>
<text transform="translate(84.6 234.3) scale(1 1.07)" font-size="27.8" text-anchor="end" stroke="#111" stroke-width="0.4" style="fill:#111;">10</text>
<text transform="translate(84.6 365.8) scale(1 1.07)" font-size="27.8" text-anchor="end" stroke="#111" stroke-width="0.4" style="fill:#111;">20</text>
<text transform="translate(84.6 497.3) scale(1 1.07)" font-size="27.8" text-anchor="end" stroke="#111" stroke-width="0.4" style="fill:#111;">30</text>
<text transform="translate(84.6 628.8) scale(1 1.07)" font-size="27.8" text-anchor="end" stroke="#111" stroke-width="0.4" style="fill:#111;">40</text>
<text transform="translate(84.6 751.6) scale(1 1.07)" font-size="27.8" text-anchor="end" stroke="#111" stroke-width="0.4" style="fill:#111;">50</text>
<text transform="translate(32.6 398) rotate(-90) scale(1 1.07)" font-size="35" text-anchor="middle" stroke="#111" stroke-width="0.3" style="fill:#111;">pressure (dbar)</text>
<text transform="translate(91.9 786.2) scale(1 1.07)" font-size="28.2" text-anchor="middle" stroke="#111" stroke-width="0.4" style="fill:#111;">-1.940</text>
<text transform="translate(192.9 786.2) scale(1 1.07)" font-size="28.2" text-anchor="middle" stroke="#111" stroke-width="0.4" style="fill:#111;">-1.938</text>
<text transform="translate(293.9 786.2) scale(1 1.07)" font-size="28.2" text-anchor="middle" stroke="#111" stroke-width="0.4" style="fill:#111;">-1.936</text>
<text transform="translate(394.9 786.2) scale(1 1.07)" font-size="28.2" text-anchor="middle" stroke="#111" stroke-width="0.4" style="fill:#111;">-1.934</text>
<text transform="translate(495.9 786.2) scale(1 1.07)" font-size="28.2" text-anchor="middle" stroke="#111" stroke-width="0.4" style="fill:#111;">-1.932</text>
<text transform="translate(596.9 786.2) scale(1 1.07)" font-size="28.2" text-anchor="middle" stroke="#111" stroke-width="0.4" style="fill:#111;">-1.930</text>
<text transform="translate(287 825.8)" font-size="35.5" stroke="#111" stroke-width="0.3" style="fill:#111;font-family:'Liberation Serif', serif;">θ<tspan font-size="16.5" dy="6.5" dx="1" style="font-family:'Liberation Sans', sans-serif">0</tspan><tspan font-size="34.5" dy="-6.5" dx="1" style="font-family:'Liberation Sans', sans-serif"> (°C)</tspan></text>
<text transform="translate(720.2 786) scale(1 1.07)" font-size="26.8" text-anchor="middle" stroke="#111" stroke-width="0.4" style="fill:#111;">10<tspan font-size="17.5" dy="-11.4">-10</tspan></text>
<text transform="translate(792.3 786) scale(1 1.07)" font-size="26.8" text-anchor="middle" stroke="#111" stroke-width="0.4" style="fill:#111;">10<tspan font-size="17.5" dy="-11.4">-9</tspan></text>
<text transform="translate(864.4 786) scale(1 1.07)" font-size="26.8" text-anchor="middle" stroke="#111" stroke-width="0.4" style="fill:#111;">10<tspan font-size="17.5" dy="-11.4">-8</tspan></text>
<text transform="translate(936.5 786) scale(1 1.07)" font-size="26.8" text-anchor="middle" stroke="#111" stroke-width="0.4" style="fill:#111;">10<tspan font-size="17.5" dy="-11.4">-7</tspan></text>
<text transform="translate(1008.6 786) scale(1 1.07)" font-size="26.8" text-anchor="middle" stroke="#111" stroke-width="0.4" style="fill:#111;">10<tspan font-size="17.5" dy="-11.4">-6</tspan></text>
<text transform="translate(1080.7 786) scale(1 1.07)" font-size="26.8" text-anchor="middle" stroke="#111" stroke-width="0.4" style="fill:#111;">10<tspan font-size="17.5" dy="-11.4">-5</tspan></text>
<text transform="translate(1152.8 786) scale(1 1.07)" font-size="26.8" text-anchor="middle" stroke="#111" stroke-width="0.4" style="fill:#111;">10<tspan font-size="17.5" dy="-11.4">-4</tspan></text>
<text transform="translate(857.5 826.5)" font-size="34.6" stroke="#111" stroke-width="0.3" style="fill:#111;"><tspan style="font-family:'Liberation Serif', serif" font-size="36">ε</tspan> (W kg<tspan font-size="17.5" dy="-17.5">-1</tspan><tspan dy="17.5">)</tspan></text>
</svg></body></html>
